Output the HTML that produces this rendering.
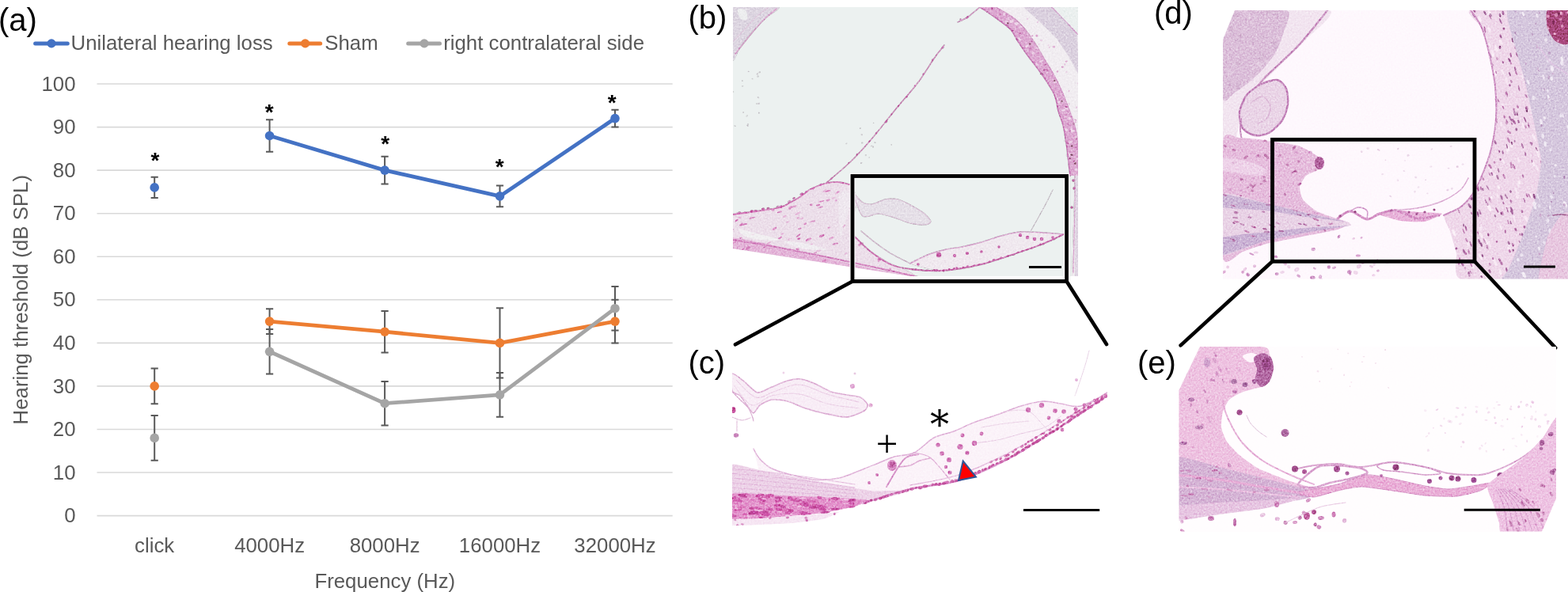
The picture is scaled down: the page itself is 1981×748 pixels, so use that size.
<!DOCTYPE html>
<html><head><meta charset="utf-8"><title>Figure</title>
<style>
html,body{margin:0;padding:0;background:#fff;}
body{width:1981px;height:748px;overflow:hidden;}
svg{display:block;}
.ax{font-family:"Liberation Sans",sans-serif;font-size:25.8px;fill:#595959;}
.ast{font-family:"Liberation Sans",sans-serif;font-size:28px;font-weight:bold;fill:#000;}
.lab{font-family:"Liberation Sans",sans-serif;font-size:40px;fill:#000;}
</style></head>
<body>
<svg width="1981" height="748" viewBox="0 0 1981 748">
<rect width="1981" height="748" fill="#fff"/>
<line x1="122.5" y1="651.6" x2="849.7" y2="651.6" stroke="#D9D9D9" stroke-width="1.6"/>
<line x1="122.5" y1="597.0" x2="849.7" y2="597.0" stroke="#D9D9D9" stroke-width="1.6"/>
<line x1="122.5" y1="542.5" x2="849.7" y2="542.5" stroke="#D9D9D9" stroke-width="1.6"/>
<line x1="122.5" y1="487.9" x2="849.7" y2="487.9" stroke="#D9D9D9" stroke-width="1.6"/>
<line x1="122.5" y1="433.4" x2="849.7" y2="433.4" stroke="#D9D9D9" stroke-width="1.6"/>
<line x1="122.5" y1="378.8" x2="849.7" y2="378.8" stroke="#D9D9D9" stroke-width="1.6"/>
<line x1="122.5" y1="324.2" x2="849.7" y2="324.2" stroke="#D9D9D9" stroke-width="1.6"/>
<line x1="122.5" y1="269.7" x2="849.7" y2="269.7" stroke="#D9D9D9" stroke-width="1.6"/>
<line x1="122.5" y1="215.1" x2="849.7" y2="215.1" stroke="#D9D9D9" stroke-width="1.6"/>
<line x1="122.5" y1="160.6" x2="849.7" y2="160.6" stroke="#D9D9D9" stroke-width="1.6"/>
<line x1="122.5" y1="106.0" x2="849.7" y2="106.0" stroke="#D9D9D9" stroke-width="1.6"/>
<text x="95.5" y="660.2" text-anchor="end" class="ax">0</text>
<text x="95.5" y="605.6" text-anchor="end" class="ax">10</text>
<text x="95.5" y="551.1" text-anchor="end" class="ax">20</text>
<text x="95.5" y="496.5" text-anchor="end" class="ax">30</text>
<text x="95.5" y="442.0" text-anchor="end" class="ax">40</text>
<text x="95.5" y="387.4" text-anchor="end" class="ax">50</text>
<text x="95.5" y="332.8" text-anchor="end" class="ax">60</text>
<text x="95.5" y="278.3" text-anchor="end" class="ax">70</text>
<text x="95.5" y="223.7" text-anchor="end" class="ax">80</text>
<text x="95.5" y="169.2" text-anchor="end" class="ax">90</text>
<text x="95.5" y="114.6" text-anchor="end" class="ax">100</text>
<text x="195.2" y="697.9" text-anchor="middle" class="ax">click</text>
<text x="340.6" y="697.9" text-anchor="middle" class="ax">4000Hz</text>
<text x="486.1" y="697.9" text-anchor="middle" class="ax">8000Hz</text>
<text x="631.5" y="697.9" text-anchor="middle" class="ax">16000Hz</text>
<text x="777.0" y="697.9" text-anchor="middle" class="ax">32000Hz</text>
<text x="486.3" y="742.6" text-anchor="middle" class="ax">Frequency (Hz)</text>
<text transform="translate(34.7,378.7) rotate(-90)" text-anchor="middle" class="ax">Hearing threshold (dB SPL)</text>
<polyline points="340.6,171.5 486.1,215.1 631.5,247.9 777.0,149.6" fill="none" stroke="#4472C4" stroke-width="4.8" stroke-linejoin="round" stroke-linecap="round"/>
<polyline points="340.6,406.1 486.1,419.2 631.5,433.4 777.0,406.1" fill="none" stroke="#ED7D31" stroke-width="4.8" stroke-linejoin="round" stroke-linecap="round"/>
<polyline points="340.6,444.3 486.1,509.7 631.5,498.8 777.0,389.7" fill="none" stroke="#A5A5A5" stroke-width="4.8" stroke-linejoin="round" stroke-linecap="round"/>
<path d="M195.2 223.8V250.0M190.6 223.8H199.8M190.6 250.0H199.8" stroke="#595959" stroke-width="2" fill="none"/>
<path d="M340.6 151.3V191.7M336.0 151.3H345.2M336.0 191.7H345.2" stroke="#595959" stroke-width="2" fill="none"/>
<path d="M486.1 197.7V232.6M481.5 197.7H490.7M481.5 232.6H490.7" stroke="#595959" stroke-width="2" fill="none"/>
<path d="M631.5 234.5V261.2M626.9 234.5H636.1M626.9 261.2H636.1" stroke="#595959" stroke-width="2" fill="none"/>
<path d="M777.0 138.7V160.6M772.4 138.7H781.6M772.4 160.6H781.6" stroke="#595959" stroke-width="2" fill="none"/>
<path d="M195.2 465.6V510.3M190.6 465.6H199.8M190.6 510.3H199.8" stroke="#595959" stroke-width="2" fill="none"/>
<path d="M340.6 390.3V421.9M336.0 390.3H345.2M336.0 421.9H345.2" stroke="#595959" stroke-width="2" fill="none"/>
<path d="M486.1 393.0V445.4M481.5 393.0H490.7M481.5 445.4H490.7" stroke="#595959" stroke-width="2" fill="none"/>
<path d="M631.5 389.2V477.6M626.9 389.2H636.1M626.9 477.6H636.1" stroke="#595959" stroke-width="2" fill="none"/>
<path d="M777.0 378.8V433.4M772.4 378.8H781.6M772.4 433.4H781.6" stroke="#595959" stroke-width="2" fill="none"/>
<path d="M195.2 525.0V581.8M190.6 525.0H199.8M190.6 581.8H199.8" stroke="#595959" stroke-width="2" fill="none"/>
<path d="M340.6 415.9V472.6M336.0 415.9H345.2M336.0 472.6H345.2" stroke="#595959" stroke-width="2" fill="none"/>
<path d="M486.1 481.9V537.6M481.5 481.9H490.7M481.5 537.6H490.7" stroke="#595959" stroke-width="2" fill="none"/>
<path d="M631.5 471.0V526.7M626.9 471.0H636.1M626.9 526.7H636.1" stroke="#595959" stroke-width="2" fill="none"/>
<path d="M777.0 361.9V417.5M772.4 361.9H781.6M772.4 417.5H781.6" stroke="#595959" stroke-width="2" fill="none"/>
<circle cx="195.2" cy="236.9" r="5.8" fill="#4472C4"/>
<circle cx="340.6" cy="171.5" r="5.8" fill="#4472C4"/>
<circle cx="486.1" cy="215.1" r="5.8" fill="#4472C4"/>
<circle cx="631.5" cy="247.9" r="5.8" fill="#4472C4"/>
<circle cx="777.0" cy="149.6" r="5.8" fill="#4472C4"/>
<circle cx="195.2" cy="487.9" r="5.8" fill="#ED7D31"/>
<circle cx="340.6" cy="406.1" r="5.8" fill="#ED7D31"/>
<circle cx="486.1" cy="419.2" r="5.8" fill="#ED7D31"/>
<circle cx="631.5" cy="433.4" r="5.8" fill="#ED7D31"/>
<circle cx="777.0" cy="406.1" r="5.8" fill="#ED7D31"/>
<circle cx="195.2" cy="553.4" r="5.8" fill="#A5A5A5"/>
<circle cx="340.6" cy="444.3" r="5.8" fill="#A5A5A5"/>
<circle cx="486.1" cy="509.7" r="5.8" fill="#A5A5A5"/>
<circle cx="631.5" cy="498.8" r="5.8" fill="#A5A5A5"/>
<circle cx="777.0" cy="389.7" r="5.8" fill="#A5A5A5"/>
<text x="195.9" y="211.9" text-anchor="middle" class="ast">*</text>
<text x="340.2" y="151.0" text-anchor="middle" class="ast">*</text>
<text x="486.6" y="190.8" text-anchor="middle" class="ast">*</text>
<text x="631.3" y="220.2" text-anchor="middle" class="ast">*</text>
<text x="773.3" y="138.8" text-anchor="middle" class="ast">*</text>
<line x1="44.6" y1="54.9" x2="85.3" y2="54.9" stroke="#4472C4" stroke-width="5" stroke-linecap="round"/>
<circle cx="65" cy="54.9" r="5.6" fill="#4472C4"/>
<text x="89.5" y="63.4" class="ax">Unilateral hearing loss</text>
<line x1="365.8" y1="54.9" x2="404.7" y2="54.9" stroke="#ED7D31" stroke-width="5" stroke-linecap="round"/>
<circle cx="385.6" cy="54.9" r="5.6" fill="#ED7D31"/>
<text x="410.3" y="63.4" class="ax">Sham</text>
<line x1="515.7" y1="54.9" x2="555.5" y2="54.9" stroke="#A5A5A5" stroke-width="5" stroke-linecap="round"/>
<circle cx="536" cy="54.9" r="5.6" fill="#A5A5A5"/>
<text x="560.2" y="63.4" class="ax">right contralateral side</text>
<defs>
<clipPath id="cb"><path d="M926,9 H1362 V349 H1150 L926,314 Z"/></clipPath>
<clipPath id="cc"><rect x="925" y="440" width="474" height="224"/></clipPath>
<clipPath id="cd"><path d="M1560,13 H1981 V352.5 H1545 V50 Z"/></clipPath>
<clipPath id="ce"><path d="M1516,438 H1966 V630 L1948,671.5 H1489.5 V493 Z"/></clipPath>
<filter id="bl" x="-5%" y="-5%" width="110%" height="110%"><feGaussianBlur stdDeviation="0.7"/></filter>
<filter id="bl2" x="-5%" y="-5%" width="110%" height="110%"><feGaussianBlur stdDeviation="1.5"/></filter>
<filter id="grain" x="0" y="0" width="100%" height="100%" color-interpolation-filters="sRGB">
<feTurbulence type="fractalNoise" baseFrequency="0.45" numOctaves="2" seed="7" result="n"/>
<feColorMatrix in="n" type="matrix" values="0.33 0.33 0.33 0 0  0.33 0.33 0.33 0 0  0.33 0.33 0.33 0 0  0 0 0 0 1" result="g"/>
<feComponentTransfer in="g" result="g2"><feFuncR type="linear" slope="1.2" intercept="-0.1"/><feFuncG type="linear" slope="1.2" intercept="-0.1"/><feFuncB type="linear" slope="1.2" intercept="-0.1"/></feComponentTransfer>
<feBlend in="g2" in2="SourceGraphic" mode="overlay" result="b"/>
<feComposite in="b" in2="SourceGraphic" operator="in"/>
</filter>
</defs>
<g clip-path="url(#cb)">
<rect x="920" y="0" width="450" height="360" fill="#ecf1f0"/>
<g filter="url(#grain)">
<path d="M926.0,9.0 C931.8,2.3 980.0,7.5 984.0,9.0 C988.0,10.5 969.4,20.9 966.0,24.0 C962.6,27.1 953.0,36.6 950.0,40.0 C947.0,43.4 938.4,54.4 936.0,58.0 C933.6,61.6 927.0,80.9 926.0,76.0 C925.0,71.1 920.2,15.7 926.0,9.0 Z" fill="#ddd6e1" stroke="none" stroke-width="1" opacity="1" stroke-linejoin="round" stroke-linecap="round" />
<path d="M981.0,11.0 C978.2,13.5 969.5,20.5 964.0,26.0 C958.5,31.5 953.8,37.0 948.0,44.0 C942.2,51.0 932.2,64.0 929.0,68.0" fill="none" stroke="#d9a3cc" stroke-width="1.6" opacity="1" stroke-linejoin="round" stroke-linecap="round" />
<path d="M970.0,10.0 C967.5,12.0 960.0,17.3 955.0,22.0 C950.0,26.7 944.7,33.0 940.0,38.0 C935.3,43.0 929.2,49.7 927.0,52.0" fill="none" stroke="#e2c4dc" stroke-width="1.0" opacity="1" stroke-linejoin="round" stroke-linecap="round" />
<path d="M932.0,12.0 C933.0,10.2 940.0,11.0 942.0,13.0 C944.0,15.0 945.0,22.2 944.0,24.0 C943.0,25.8 938.0,26.0 936.0,24.0 C934.0,22.0 931.0,13.8 932.0,12.0 Z" fill="#eef1f1" stroke="none" stroke-width="1" opacity="0.9" stroke-linejoin="round" stroke-linecap="round" />
<path d="M1258.0,9.0 L1362.0,9.0 L1362.0,349.0 L1354.0,349.0 L1357.0,250.0 L1360.0,190.0 L1348.0,131.0 L1340.0,112.0 L1331.0,94.0 L1320.0,75.0 L1309.0,56.0 L1296.0,37.0 L1280.0,22.0 Z" fill="#f1edf1" stroke="none" stroke-width="1" opacity="1" stroke-linejoin="round" stroke-linecap="round" />
<ellipse cx="1334.6" cy="36.2" rx="0.8" ry="1.1" transform="rotate(-3 1334.6 36.2)" fill="#e2b6d9" opacity="0.76"/>
<ellipse cx="1350.9" cy="52.5" rx="0.8" ry="1.2" transform="rotate(-13 1350.9 52.5)" fill="#e2b6d9" opacity="0.65"/>
<ellipse cx="1345.4" cy="25.7" rx="1.7" ry="1.4" transform="rotate(39 1345.4 25.7)" fill="#d58fc4" opacity="0.54"/>
<ellipse cx="1357.6" cy="30.5" rx="1.2" ry="0.9" transform="rotate(5 1357.6 30.5)" fill="#e2b6d9" opacity="0.85"/>
<ellipse cx="1360.0" cy="178.1" rx="1.4" ry="1.2" transform="rotate(-6 1360.0 178.1)" fill="#d58fc4" opacity="0.66"/>
<ellipse cx="1360.1" cy="135.7" rx="1.2" ry="1.1" transform="rotate(-31 1360.1 135.7)" fill="#e2b6d9" opacity="0.77"/>
<ellipse cx="1347.5" cy="91.2" rx="1.3" ry="1.0" transform="rotate(-24 1347.5 91.2)" fill="#e2b6d9" opacity="0.52"/>
<ellipse cx="1298.1" cy="23.9" rx="1.1" ry="1.1" transform="rotate(11 1298.1 23.9)" fill="#e2b6d9" opacity="0.64"/>
<ellipse cx="1309.9" cy="45.1" rx="1.5" ry="1.4" transform="rotate(33 1309.9 45.1)" fill="#d58fc4" opacity="0.88"/>
<ellipse cx="1345.7" cy="43.3" rx="1.6" ry="1.2" transform="rotate(39 1345.7 43.3)" fill="#d58fc4" opacity="0.75"/>
<ellipse cx="1361.9" cy="105.2" rx="0.8" ry="1.0" transform="rotate(-22 1361.9 105.2)" fill="#e2b6d9" opacity="0.76"/>
<ellipse cx="1331.4" cy="59.2" rx="1.7" ry="1.4" transform="rotate(9 1331.4 59.2)" fill="#d58fc4" opacity="0.68"/>
<ellipse cx="1350.7" cy="131.3" rx="1.2" ry="1.4" transform="rotate(-38 1350.7 131.3)" fill="#e2b6d9" opacity="0.71"/>
<ellipse cx="1325.8" cy="59.8" rx="0.9" ry="0.9" transform="rotate(5 1325.8 59.8)" fill="#e2b6d9" opacity="0.89"/>
<ellipse cx="1358.9" cy="154.2" rx="1.2" ry="1.2" transform="rotate(6 1358.9 154.2)" fill="#e2b6d9" opacity="0.82"/>
<ellipse cx="1311.1" cy="27.8" rx="1.2" ry="1.0" transform="rotate(-30 1311.1 27.8)" fill="#e2b6d9" opacity="0.75"/>
<ellipse cx="1312.3" cy="55.9" rx="1.2" ry="1.0" transform="rotate(-33 1312.3 55.9)" fill="#e2b6d9" opacity="0.56"/>
<ellipse cx="1356.6" cy="78.8" rx="0.8" ry="1.1" transform="rotate(-35 1356.6 78.8)" fill="#e2b6d9" opacity="0.69"/>
<ellipse cx="1352.5" cy="27.5" rx="1.0" ry="1.5" transform="rotate(-24 1352.5 27.5)" fill="#e2b6d9" opacity="0.61"/>
<ellipse cx="1315.5" cy="51.1" rx="1.7" ry="1.2" transform="rotate(-3 1315.5 51.1)" fill="#e2b6d9" opacity="0.56"/>
<ellipse cx="1342.4" cy="84.5" rx="1.5" ry="1.3" transform="rotate(14 1342.4 84.5)" fill="#d58fc4" opacity="0.72"/>
<ellipse cx="1324.6" cy="57.1" rx="0.8" ry="1.4" transform="rotate(10 1324.6 57.1)" fill="#e2b6d9" opacity="0.66"/>
<ellipse cx="1345.3" cy="81.3" rx="1.2" ry="1.3" transform="rotate(-10 1345.3 81.3)" fill="#e2b6d9" opacity="0.66"/>
<ellipse cx="1346.2" cy="41.4" rx="1.0" ry="1.0" transform="rotate(-36 1346.2 41.4)" fill="#e2b6d9" opacity="0.71"/>
<ellipse cx="1347.3" cy="77.5" rx="1.5" ry="1.0" transform="rotate(-15 1347.3 77.5)" fill="#d58fc4" opacity="0.84"/>
<ellipse cx="1350.5" cy="115.1" rx="0.8" ry="1.4" transform="rotate(17 1350.5 115.1)" fill="#d58fc4" opacity="0.57"/>
<ellipse cx="1304.3" cy="45.3" rx="1.0" ry="1.0" transform="rotate(-32 1304.3 45.3)" fill="#d58fc4" opacity="0.74"/>
<ellipse cx="1336.0" cy="90.5" rx="1.2" ry="1.2" transform="rotate(-30 1336.0 90.5)" fill="#d58fc4" opacity="0.84"/>
<ellipse cx="1358.8" cy="151.6" rx="1.7" ry="0.8" transform="rotate(24 1358.8 151.6)" fill="#d58fc4" opacity="0.73"/>
<ellipse cx="1331.6" cy="97.0" rx="1.1" ry="1.3" transform="rotate(-9 1331.6 97.0)" fill="#e2b6d9" opacity="0.82"/>
<path d="M1293.0,9.0 L1329.0,9.0 L1345.0,25.0 L1361.0,43.0 L1363.0,95.0 L1350.0,71.0 L1335.0,49.0 L1314.0,28.0 Z" fill="#dbd1df" stroke="none" stroke-width="1" opacity="1" stroke-linejoin="round" stroke-linecap="round" />
<path d="M1329.0,9.0 C1331.7,11.7 1339.7,19.3 1345.0,25.0 C1350.3,30.7 1358.3,40.0 1361.0,43.0" fill="none" stroke="#d3a3cc" stroke-width="1.8" opacity="1" stroke-linejoin="round" stroke-linecap="round" />
<path d="M1329.0,8.0 L1363.0,8.0 L1363.0,43.0 L1345.0,25.0 Z" fill="#ebf0ef" stroke="none" stroke-width="1" opacity="1" stroke-linejoin="round" stroke-linecap="round" />
<path d="M1238.0,9.0 L1258.0,22.5 L1277.0,37.4 L1286.0,52.4 L1299.0,71.0 L1310.5,86.0 L1323.6,104.8 L1333.0,121.7 L1337.0,140.0 L1343.0,158.0 L1347.0,180.0 L1350.0,205.0 L1352.0,222.0 L1362.0,222.0 L1362.0,190.0 L1360.0,168.0 L1355.0,150.0 L1348.0,131.0 L1340.4,112.3 L1331.0,93.6 L1319.8,75.0 L1308.6,56.0 L1295.5,37.4 L1280.5,22.5 L1258.0,9.0 Z" fill="#ddaad2" stroke="none" stroke-width="1" opacity="1" stroke-linejoin="round" stroke-linecap="round" />
<ellipse cx="1359.8" cy="214.5" rx="2.5" ry="1.6" transform="rotate(27 1359.8 214.5)" fill="#ecd3e8" opacity="0.89"/>
<ellipse cx="1347.1" cy="136.7" rx="2.7" ry="1.3" transform="rotate(11 1347.1 136.7)" fill="#ecd3e8" opacity="0.86"/>
<ellipse cx="1361.7" cy="221.1" rx="2.8" ry="1.7" transform="rotate(1 1361.7 221.1)" fill="#f0dcec" opacity="0.93"/>
<ellipse cx="1274.1" cy="23.2" rx="1.5" ry="1.7" transform="rotate(33 1274.1 23.2)" fill="#ecd3e8" opacity="0.76"/>
<ellipse cx="1271.5" cy="27.6" rx="2.0" ry="2.0" transform="rotate(17 1271.5 27.6)" fill="#ecd3e8" opacity="0.74"/>
<ellipse cx="1360.2" cy="172.9" rx="2.1" ry="1.4" transform="rotate(-23 1360.2 172.9)" fill="#f0dcec" opacity="0.83"/>
<ellipse cx="1310.3" cy="60.8" rx="2.4" ry="1.4" transform="rotate(7 1310.3 60.8)" fill="#f0dcec" opacity="0.74"/>
<ellipse cx="1354.1" cy="166.0" rx="1.7" ry="2.0" transform="rotate(15 1354.1 166.0)" fill="#f0dcec" opacity="0.81"/>
<ellipse cx="1349.7" cy="194.5" rx="2.1" ry="1.8" transform="rotate(10 1349.7 194.5)" fill="#f0dcec" opacity="0.87"/>
<ellipse cx="1347.1" cy="164.1" rx="2.1" ry="1.7" transform="rotate(27 1347.1 164.1)" fill="#f0dcec" opacity="0.83"/>
<ellipse cx="1297.6" cy="58.0" rx="2.5" ry="1.5" transform="rotate(-39 1297.6 58.0)" fill="#f0dcec" opacity="0.78"/>
<ellipse cx="1350.3" cy="149.6" rx="2.2" ry="1.9" transform="rotate(-20 1350.3 149.6)" fill="#f0dcec" opacity="0.82"/>
<ellipse cx="1315.5" cy="77.2" rx="2.7" ry="1.3" transform="rotate(-18 1315.5 77.2)" fill="#ecd3e8" opacity="0.90"/>
<ellipse cx="1288.2" cy="49.5" rx="2.7" ry="1.3" transform="rotate(39 1288.2 49.5)" fill="#ecd3e8" opacity="0.94"/>
<ellipse cx="1334.5" cy="124.0" rx="2.9" ry="1.5" transform="rotate(23 1334.5 124.0)" fill="#ecd3e8" opacity="0.82"/>
<ellipse cx="1353.6" cy="162.9" rx="1.7" ry="1.5" transform="rotate(6 1353.6 162.9)" fill="#ecd3e8" opacity="0.81"/>
<ellipse cx="1347.0" cy="178.7" rx="2.9" ry="1.5" transform="rotate(29 1347.0 178.7)" fill="#ecd3e8" opacity="0.73"/>
<ellipse cx="1362.0" cy="200.8" rx="2.3" ry="1.7" transform="rotate(-1 1362.0 200.8)" fill="#f0dcec" opacity="0.98"/>
<ellipse cx="1342.6" cy="128.3" rx="2.0" ry="1.4" transform="rotate(-29 1342.6 128.3)" fill="#ecd3e8" opacity="0.79"/>
<ellipse cx="1305.5" cy="67.1" rx="2.2" ry="1.4" transform="rotate(8 1305.5 67.1)" fill="#ecd3e8" opacity="0.85"/>
<ellipse cx="1337.3" cy="128.9" rx="2.2" ry="1.7" transform="rotate(-3 1337.3 128.9)" fill="#ecd3e8" opacity="0.98"/>
<ellipse cx="1352.2" cy="179.5" rx="2.1" ry="1.2" transform="rotate(-5 1352.2 179.5)" fill="#f0dcec" opacity="0.74"/>
<ellipse cx="1343.6" cy="139.3" rx="2.8" ry="1.2" transform="rotate(-15 1343.6 139.3)" fill="#f0dcec" opacity="0.97"/>
<ellipse cx="1270.2" cy="29.7" rx="2.7" ry="1.4" transform="rotate(10 1270.2 29.7)" fill="#ecd3e8" opacity="0.76"/>
<ellipse cx="1278.1" cy="27.1" rx="2.8" ry="1.9" transform="rotate(-25 1278.1 27.1)" fill="#f0dcec" opacity="0.87"/>
<ellipse cx="1310.5" cy="81.6" rx="2.6" ry="1.3" transform="rotate(22 1310.5 81.6)" fill="#ecd3e8" opacity="0.92"/>
<ellipse cx="1349.2" cy="196.4" rx="2.5" ry="1.8" transform="rotate(18 1349.2 196.4)" fill="#ecd3e8" opacity="0.82"/>
<ellipse cx="1355.1" cy="150.9" rx="2.0" ry="1.7" transform="rotate(-9 1355.1 150.9)" fill="#ecd3e8" opacity="0.86"/>
<ellipse cx="1284.6" cy="30.0" rx="1.9" ry="1.9" transform="rotate(5 1284.6 30.0)" fill="#f0dcec" opacity="0.99"/>
<ellipse cx="1268.4" cy="18.1" rx="1.7" ry="1.8" transform="rotate(-15 1268.4 18.1)" fill="#f0dcec" opacity="0.72"/>
<ellipse cx="1289.7" cy="34.1" rx="2.8" ry="1.4" transform="rotate(-5 1289.7 34.1)" fill="#ecd3e8" opacity="0.74"/>
<ellipse cx="1356.1" cy="165.4" rx="1.9" ry="1.1" transform="rotate(10 1356.1 165.4)" fill="#f0dcec" opacity="0.94"/>
<ellipse cx="1351.5" cy="196.2" rx="1.6" ry="1.1" transform="rotate(-38 1351.5 196.2)" fill="#f0dcec" opacity="0.78"/>
<ellipse cx="1333.3" cy="103.6" rx="2.6" ry="1.4" transform="rotate(12 1333.3 103.6)" fill="#ecd3e8" opacity="0.81"/>
<ellipse cx="1283.8" cy="29.7" rx="2.8" ry="1.1" transform="rotate(5 1283.8 29.7)" fill="#ecd3e8" opacity="0.83"/>
<ellipse cx="1279.5" cy="39.2" rx="1.5" ry="1.0" transform="rotate(-20 1279.5 39.2)" fill="#b8579e" opacity="0.99"/>
<ellipse cx="1348.8" cy="181.0" rx="1.5" ry="0.8" transform="rotate(16 1348.8 181.0)" fill="#c46aa9" opacity="0.88"/>
<ellipse cx="1360.2" cy="175.7" rx="1.2" ry="1.1" transform="rotate(-6 1360.2 175.7)" fill="#b8579e" opacity="0.80"/>
<ellipse cx="1358.8" cy="186.3" rx="1.6" ry="1.1" transform="rotate(-15 1358.8 186.3)" fill="#b8579e" opacity="0.85"/>
<ellipse cx="1352.0" cy="200.0" rx="0.8" ry="0.8" transform="rotate(-14 1352.0 200.0)" fill="#6b3a4a" opacity="0.82"/>
<ellipse cx="1253.1" cy="10.9" rx="1.4" ry="1.4" transform="rotate(-36 1253.1 10.9)" fill="#b8579e" opacity="0.92"/>
<ellipse cx="1349.6" cy="156.7" rx="1.0" ry="1.1" transform="rotate(34 1349.6 156.7)" fill="#b8579e" opacity="0.86"/>
<ellipse cx="1356.6" cy="156.4" rx="1.0" ry="1.1" transform="rotate(13 1356.6 156.4)" fill="#6b3a4a" opacity="0.96"/>
<ellipse cx="1301.3" cy="55.6" rx="1.4" ry="1.0" transform="rotate(17 1301.3 55.6)" fill="#6b3a4a" opacity="0.84"/>
<ellipse cx="1263.4" cy="18.1" rx="1.2" ry="1.2" transform="rotate(-30 1263.4 18.1)" fill="#c46aa9" opacity="0.82"/>
<ellipse cx="1285.5" cy="50.2" rx="1.5" ry="1.0" transform="rotate(26 1285.5 50.2)" fill="#b8579e" opacity="0.80"/>
<ellipse cx="1320.8" cy="81.8" rx="1.3" ry="1.0" transform="rotate(-7 1320.8 81.8)" fill="#b8579e" opacity="0.90"/>
<ellipse cx="1358.4" cy="206.6" rx="1.2" ry="1.3" transform="rotate(-19 1358.4 206.6)" fill="#6b3a4a" opacity="0.99"/>
<ellipse cx="1348.2" cy="178.6" rx="0.8" ry="1.4" transform="rotate(-17 1348.2 178.6)" fill="#c46aa9" opacity="0.83"/>
<ellipse cx="1271.3" cy="31.7" rx="1.3" ry="1.0" transform="rotate(17 1271.3 31.7)" fill="#b8579e" opacity="0.97"/>
<ellipse cx="1247.1" cy="14.9" rx="1.0" ry="0.9" transform="rotate(16 1247.1 14.9)" fill="#6b3a4a" opacity="0.82"/>
<ellipse cx="1354.3" cy="184.5" rx="1.1" ry="1.1" transform="rotate(23 1354.3 184.5)" fill="#6b3a4a" opacity="0.93"/>
<ellipse cx="1353.9" cy="195.6" rx="1.6" ry="0.9" transform="rotate(11 1353.9 195.6)" fill="#6b3a4a" opacity="0.89"/>
<ellipse cx="1356.8" cy="203.7" rx="1.5" ry="0.8" transform="rotate(-24 1356.8 203.7)" fill="#b8579e" opacity="0.97"/>
<ellipse cx="1351.8" cy="165.6" rx="1.1" ry="1.0" transform="rotate(38 1351.8 165.6)" fill="#b8579e" opacity="0.77"/>
<ellipse cx="1347.0" cy="134.9" rx="1.7" ry="1.1" transform="rotate(5 1347.0 134.9)" fill="#b8579e" opacity="0.92"/>
<ellipse cx="1303.8" cy="52.5" rx="1.2" ry="1.0" transform="rotate(23 1303.8 52.5)" fill="#b8579e" opacity="0.77"/>
<ellipse cx="1341.5" cy="128.0" rx="1.1" ry="1.2" transform="rotate(-32 1341.5 128.0)" fill="#6b3a4a" opacity="0.72"/>
<ellipse cx="1315.6" cy="93.2" rx="1.8" ry="1.2" transform="rotate(3 1315.6 93.2)" fill="#6b3a4a" opacity="0.96"/>
<ellipse cx="1288.8" cy="41.7" rx="1.5" ry="1.4" transform="rotate(-29 1288.8 41.7)" fill="#c46aa9" opacity="0.85"/>
<ellipse cx="1302.0" cy="60.9" rx="1.5" ry="1.4" transform="rotate(8 1302.0 60.9)" fill="#c46aa9" opacity="0.72"/>
<ellipse cx="1273.2" cy="29.3" rx="1.2" ry="1.0" transform="rotate(8 1273.2 29.3)" fill="#6b3a4a" opacity="0.97"/>
<ellipse cx="1332.3" cy="101.9" rx="1.1" ry="1.1" transform="rotate(-34 1332.3 101.9)" fill="#6b3a4a" opacity="0.86"/>
<ellipse cx="1319.5" cy="88.4" rx="1.4" ry="1.3" transform="rotate(-13 1319.5 88.4)" fill="#b8579e" opacity="0.93"/>
<ellipse cx="1322.8" cy="88.3" rx="1.3" ry="1.3" transform="rotate(-37 1322.8 88.3)" fill="#c46aa9" opacity="0.89"/>
<path d="M1238.0,9.0 C1241.3,11.2 1251.5,17.8 1258.0,22.5 C1264.5,27.2 1272.3,32.4 1277.0,37.4 C1281.7,42.4 1282.3,46.8 1286.0,52.4 C1289.7,58.0 1294.9,65.4 1299.0,71.0 C1303.1,76.6 1306.4,80.4 1310.5,86.0 C1314.6,91.6 1319.8,98.8 1323.6,104.8 C1327.3,110.8 1330.8,115.8 1333.0,121.7 C1335.2,127.6 1335.3,133.9 1337.0,140.0 C1338.7,146.1 1341.3,151.3 1343.0,158.0 C1344.7,164.7 1345.8,172.2 1347.0,180.0 C1348.2,187.8 1349.2,198.0 1350.0,205.0 C1350.8,212.0 1351.7,219.2 1352.0,222.0" fill="none" stroke="#c978b6" stroke-width="1.6" opacity="1" stroke-linejoin="round" stroke-linecap="round" />
<path d="M1258.0,9.0 C1261.8,11.2 1274.2,17.8 1280.5,22.5 C1286.8,27.2 1290.8,31.8 1295.5,37.4 C1300.2,43.0 1304.5,49.7 1308.6,56.0 C1312.6,62.3 1316.1,68.7 1319.8,75.0 C1323.5,81.3 1327.6,87.4 1331.0,93.6 C1334.4,99.8 1337.6,106.1 1340.4,112.3 C1343.2,118.5 1345.6,124.7 1348.0,131.0 C1350.4,137.3 1353.0,143.8 1355.0,150.0 C1357.0,156.2 1358.8,161.3 1360.0,168.0 C1361.2,174.7 1361.7,181.0 1362.0,190.0 C1362.3,199.0 1362.0,216.7 1362.0,222.0" fill="none" stroke="#d49bc8" stroke-width="1.2" opacity="1" stroke-linejoin="round" stroke-linecap="round" />
<path d="M1358.0,222.0 C1358.0,228.3 1358.2,247.0 1358.0,260.0 C1357.8,273.0 1357.3,285.8 1357.0,300.0 C1356.7,314.2 1356.2,337.5 1356.0,345.0" fill="none" stroke="#d6a6cd" stroke-width="1.3" opacity="1" stroke-linejoin="round" stroke-linecap="round" />
<path d="M1359.0,222.0 L1363.0,222.0 L1363.0,349.0 L1358.0,349.0 Z" fill="#e0d6e3" stroke="none" stroke-width="1" opacity="1" stroke-linejoin="round" stroke-linecap="round" />
<circle cx="1356" cy="228" r="1.8" fill="#c56aaa"/>
<circle cx="1357" cy="238" r="1.8" fill="#c56aaa"/>
<circle cx="1354" cy="262" r="1.8" fill="#c56aaa"/>
<path d="M1210.0,28.0 C1212.0,27.0 1218.3,24.3 1222.0,22.0 C1225.7,19.7 1229.3,16.2 1232.0,14.0 C1234.7,11.8 1237.0,9.8 1238.0,9.0" fill="none" stroke="#d69ac7" stroke-width="1.5" opacity="1" stroke-linejoin="round" stroke-linecap="round" />
<ellipse cx="1221.5" cy="22.7" rx="1.2" ry="1.4" transform="rotate(8 1221.5 22.7)" fill="#c867ad" opacity="0.83"/>
<ellipse cx="1222.7" cy="21.3" rx="1.5" ry="1.2" transform="rotate(0 1222.7 21.3)" fill="#c867ad" opacity="0.83"/>
<ellipse cx="1213.5" cy="24.6" rx="1.2" ry="1.3" transform="rotate(-9 1213.5 24.6)" fill="#c867ad" opacity="0.92"/>
<path d="M1193.0,57.0 C1190.8,59.8 1185.5,66.2 1180.0,74.0 C1174.5,81.8 1168.3,93.0 1160.0,104.0 C1151.7,115.0 1140.0,127.8 1130.0,140.0 C1120.0,152.2 1109.2,166.3 1100.0,177.0 C1090.8,187.7 1084.3,195.0 1075.0,204.0 C1065.7,213.0 1049.2,226.5 1044.0,231.0" fill="none" stroke="#d389bd" stroke-width="1.5" opacity="1" stroke-linejoin="round" stroke-linecap="round" />
<ellipse cx="1191.2" cy="59.9" rx="1.8" ry="1.3" transform="rotate(127 1191.2 59.9)" fill="#c45aa5" opacity="0.76"/>
<ellipse cx="1178.2" cy="75.7" rx="1.7" ry="1.2" transform="rotate(124 1178.2 75.7)" fill="#c45aa5" opacity="0.74"/>
<ellipse cx="1166.5" cy="93.5" rx="1.4" ry="1.0" transform="rotate(124 1166.5 93.5)" fill="#c45aa5" opacity="0.95"/>
<ellipse cx="1155.8" cy="108.1" rx="1.2" ry="0.9" transform="rotate(130 1155.8 108.1)" fill="#c45aa5" opacity="0.96"/>
<ellipse cx="1145.5" cy="122.2" rx="1.7" ry="1.2" transform="rotate(130 1145.5 122.2)" fill="#c45aa5" opacity="0.98"/>
<ellipse cx="1134.9" cy="134.1" rx="1.5" ry="1.1" transform="rotate(130 1134.9 134.1)" fill="#c45aa5" opacity="0.93"/>
<ellipse cx="1126.5" cy="144.0" rx="1.4" ry="1.0" transform="rotate(129 1126.5 144.0)" fill="#c45aa5" opacity="0.79"/>
<ellipse cx="1119.7" cy="153.6" rx="1.9" ry="1.4" transform="rotate(129 1119.7 153.6)" fill="#c45aa5" opacity="0.91"/>
<ellipse cx="1107.0" cy="168.3" rx="1.6" ry="1.2" transform="rotate(129 1107.0 168.3)" fill="#c45aa5" opacity="0.83"/>
<ellipse cx="1098.3" cy="178.5" rx="1.3" ry="0.9" transform="rotate(133 1098.3 178.5)" fill="#c45aa5" opacity="0.84"/>
<ellipse cx="1082.8" cy="195.0" rx="1.5" ry="1.1" transform="rotate(133 1082.8 195.0)" fill="#c45aa5" opacity="0.77"/>
<ellipse cx="1072.4" cy="205.7" rx="1.1" ry="0.8" transform="rotate(139 1072.4 205.7)" fill="#c45aa5" opacity="0.90"/>
<ellipse cx="1050.5" cy="225.5" rx="1.9" ry="1.3" transform="rotate(139 1050.5 225.5)" fill="#c45aa5" opacity="0.71"/>
<ellipse cx="943.7" cy="146.5" rx="1.4" ry="0.8" transform="rotate(-38 943.7 146.5)" fill="#e3d3e2" opacity="0.44"/>
<ellipse cx="939.1" cy="142.2" rx="0.8" ry="0.9" transform="rotate(15 939.1 142.2)" fill="#e3d3e2" opacity="0.66"/>
<ellipse cx="950.6" cy="99.6" rx="1.0" ry="0.7" transform="rotate(16 950.6 99.6)" fill="#dcc8dc" opacity="0.46"/>
<ellipse cx="945.0" cy="156.9" rx="0.8" ry="0.9" transform="rotate(-33 945.0 156.9)" fill="#dcc8dc" opacity="0.52"/>
<ellipse cx="958.0" cy="123.2" rx="1.4" ry="0.7" transform="rotate(34 958.0 123.2)" fill="#e3d3e2" opacity="0.73"/>
<ellipse cx="926.6" cy="116.1" rx="0.6" ry="1.1" transform="rotate(-2 926.6 116.1)" fill="#e3d3e2" opacity="0.42"/>
<ellipse cx="945.7" cy="90.4" rx="0.9" ry="0.7" transform="rotate(2 945.7 90.4)" fill="#dcc8dc" opacity="0.78"/>
<ellipse cx="938.2" cy="108.7" rx="1.2" ry="0.7" transform="rotate(-15 938.2 108.7)" fill="#dcc8dc" opacity="0.50"/>
<ellipse cx="937.8" cy="102.0" rx="0.7" ry="0.9" transform="rotate(-36 937.8 102.0)" fill="#e3d3e2" opacity="0.53"/>
<ellipse cx="959.7" cy="91.3" rx="1.2" ry="0.9" transform="rotate(-15 959.7 91.3)" fill="#dcc8dc" opacity="0.69"/>
<ellipse cx="928.6" cy="159.1" rx="1.3" ry="0.6" transform="rotate(19 928.6 159.1)" fill="#dcc8dc" opacity="0.56"/>
<ellipse cx="958.6" cy="131.3" rx="0.9" ry="0.7" transform="rotate(14 958.6 131.3)" fill="#e3d3e2" opacity="0.78"/>
<ellipse cx="956.9" cy="93.5" rx="1.4" ry="0.8" transform="rotate(-36 956.9 93.5)" fill="#e3d3e2" opacity="0.72"/>
<ellipse cx="957.5" cy="96.5" rx="1.2" ry="1.1" transform="rotate(3 957.5 96.5)" fill="#e3d3e2" opacity="0.59"/>
<ellipse cx="944.5" cy="158.6" rx="0.8" ry="1.2" transform="rotate(-36 944.5 158.6)" fill="#dcc8dc" opacity="0.72"/>
<ellipse cx="956.2" cy="131.0" rx="1.3" ry="0.7" transform="rotate(-4 956.2 131.0)" fill="#e3d3e2" opacity="0.61"/>
<ellipse cx="958.9" cy="142.6" rx="0.8" ry="0.8" transform="rotate(8 958.9 142.6)" fill="#dcc8dc" opacity="0.79"/>
<ellipse cx="958.7" cy="130.5" rx="1.0" ry="0.6" transform="rotate(-26 958.7 130.5)" fill="#e3d3e2" opacity="0.79"/>
<ellipse cx="1086.8" cy="161.9" rx="1.0" ry="0.9" transform="rotate(31 1086.8 161.9)" fill="#e3d3e2" opacity="0.52"/>
<ellipse cx="1069.4" cy="181.3" rx="1.2" ry="0.7" transform="rotate(-24 1069.4 181.3)" fill="#dcc8dc" opacity="0.47"/>
<ellipse cx="1089.2" cy="180.5" rx="1.2" ry="1.1" transform="rotate(-16 1089.2 180.5)" fill="#e3d3e2" opacity="0.49"/>
<ellipse cx="1103.0" cy="185.6" rx="1.0" ry="1.1" transform="rotate(-17 1103.0 185.6)" fill="#e3d3e2" opacity="0.62"/>
<ellipse cx="1105.4" cy="180.0" rx="1.0" ry="1.1" transform="rotate(12 1105.4 180.0)" fill="#dcc8dc" opacity="0.48"/>
<ellipse cx="1101.1" cy="184.4" rx="1.3" ry="0.7" transform="rotate(-13 1101.1 184.4)" fill="#e3d3e2" opacity="0.61"/>
<ellipse cx="1103.6" cy="155.3" rx="0.7" ry="0.7" transform="rotate(-33 1103.6 155.3)" fill="#dcc8dc" opacity="0.50"/>
<ellipse cx="1088.2" cy="205.9" rx="1.2" ry="0.8" transform="rotate(-29 1088.2 205.9)" fill="#dcc8dc" opacity="0.79"/>
<ellipse cx="1098.3" cy="199.0" rx="0.7" ry="0.8" transform="rotate(14 1098.3 199.0)" fill="#e3d3e2" opacity="0.68"/>
<ellipse cx="1088.8" cy="170.1" rx="1.2" ry="1.0" transform="rotate(16 1088.8 170.1)" fill="#dcc8dc" opacity="0.57"/>
<ellipse cx="1093.9" cy="196.1" rx="1.1" ry="1.1" transform="rotate(5 1093.9 196.1)" fill="#e3d3e2" opacity="0.40"/>
<ellipse cx="1126.2" cy="182.9" rx="0.6" ry="1.0" transform="rotate(-8 1126.2 182.9)" fill="#e3d3e2" opacity="0.57"/>
<path d="M920.0,272.0 C922.9,267.8 949.5,267.8 955.0,267.0 C960.5,266.2 982.4,262.9 986.0,262.0 C989.6,261.1 995.8,257.2 998.0,256.0 C1000.2,254.8 1009.8,249.4 1012.0,248.0 C1014.2,246.6 1021.5,240.3 1024.0,239.0 C1026.5,237.7 1039.1,232.8 1042.0,232.0 C1044.9,231.2 1056.4,229.9 1059.0,230.0 C1061.6,230.1 1071.2,232.0 1073.0,233.0 C1074.8,234.0 1079.2,240.2 1080.0,242.0 C1080.8,243.8 1083.0,251.8 1083.0,254.0 C1083.0,256.2 1080.8,265.2 1080.0,268.0 C1079.2,270.8 1073.2,284.5 1074.0,288.0 C1074.8,291.5 1086.2,306.5 1090.0,310.0 C1093.8,313.5 1114.8,326.8 1120.0,330.0 C1125.2,333.2 1168.7,350.0 1152.0,349.0 C1135.3,348.0 939.3,324.4 920.0,318.0 C900.7,311.6 917.1,276.2 920.0,272.0 Z" fill="#ecdfea" stroke="none" stroke-width="1" opacity="1" stroke-linejoin="round" stroke-linecap="round" />
<path d="M920.0,300.0 C922.7,298.9 954.0,304.8 960.0,306.0 C966.0,307.2 1003.3,316.4 1010.0,318.0 C1016.7,319.6 1053.3,328.5 1060.0,330.0 C1066.7,331.5 1103.9,339.7 1110.0,341.0 C1116.1,342.3 1164.7,351.3 1152.0,350.0 C1139.3,348.7 935.5,325.3 920.0,322.0 C904.5,318.7 917.3,301.1 920.0,300.0 Z" fill="#e4b6d9" stroke="none" stroke-width="1" opacity="1" stroke-linejoin="round" stroke-linecap="round" />
<ellipse cx="944.8" cy="313.6" rx="3.2" ry="1.5" transform="rotate(-30 944.8 313.6)" fill="#cf6fb3" opacity="0.89"/>
<ellipse cx="936.8" cy="283.5" rx="2.8" ry="1.4" transform="rotate(-34 936.8 283.5)" fill="#cf6fb3" opacity="0.91"/>
<ellipse cx="1003.1" cy="261.0" rx="3.6" ry="1.2" transform="rotate(-21 1003.1 261.0)" fill="#d77fbd" opacity="0.66"/>
<ellipse cx="936.2" cy="300.8" rx="1.9" ry="1.0" transform="rotate(-13 936.2 300.8)" fill="#cf6fb3" opacity="0.76"/>
<ellipse cx="1021.8" cy="302.3" rx="3.7" ry="1.3" transform="rotate(-22 1021.8 302.3)" fill="#d77fbd" opacity="0.83"/>
<ellipse cx="1076.0" cy="262.2" rx="3.2" ry="1.1" transform="rotate(-35 1076.0 262.2)" fill="#cf6fb3" opacity="0.80"/>
<ellipse cx="1042.0" cy="241.1" rx="2.9" ry="1.3" transform="rotate(-30 1042.0 241.1)" fill="#e2a6d2" opacity="0.75"/>
<ellipse cx="1026.7" cy="279.7" rx="3.6" ry="1.0" transform="rotate(-16 1026.7 279.7)" fill="#cf6fb3" opacity="0.69"/>
<ellipse cx="953.2" cy="313.7" rx="3.1" ry="0.8" transform="rotate(-13 953.2 313.7)" fill="#e2a6d2" opacity="0.76"/>
<ellipse cx="924.8" cy="314.5" rx="2.6" ry="1.1" transform="rotate(-32 924.8 314.5)" fill="#cf6fb3" opacity="0.72"/>
<ellipse cx="1065.8" cy="285.8" rx="2.4" ry="1.1" transform="rotate(-36 1065.8 285.8)" fill="#d77fbd" opacity="0.68"/>
<ellipse cx="920.1" cy="290.3" rx="2.9" ry="1.4" transform="rotate(-14 920.1 290.3)" fill="#cf6fb3" opacity="0.65"/>
<ellipse cx="978.1" cy="289.6" rx="2.2" ry="0.9" transform="rotate(-30 978.1 289.6)" fill="#e2a6d2" opacity="0.97"/>
<ellipse cx="1050.2" cy="300.9" rx="3.9" ry="1.3" transform="rotate(-32 1050.2 300.9)" fill="#e2a6d2" opacity="0.86"/>
<ellipse cx="1033.7" cy="259.1" rx="2.7" ry="1.2" transform="rotate(-14 1033.7 259.1)" fill="#cf6fb3" opacity="0.80"/>
<ellipse cx="927.3" cy="306.5" rx="2.7" ry="1.3" transform="rotate(-35 927.3 306.5)" fill="#d77fbd" opacity="0.71"/>
<ellipse cx="966.5" cy="312.4" rx="2.1" ry="1.0" transform="rotate(-15 966.5 312.4)" fill="#cf6fb3" opacity="0.65"/>
<ellipse cx="1017.1" cy="282.9" rx="2.0" ry="1.4" transform="rotate(-21 1017.1 282.9)" fill="#d77fbd" opacity="0.66"/>
<ellipse cx="971.5" cy="307.0" rx="3.2" ry="1.0" transform="rotate(-24 971.5 307.0)" fill="#e2a6d2" opacity="0.86"/>
<ellipse cx="930.7" cy="278.4" rx="2.4" ry="1.1" transform="rotate(-36 930.7 278.4)" fill="#d77fbd" opacity="0.95"/>
<ellipse cx="1045.8" cy="241.5" rx="3.7" ry="1.1" transform="rotate(-17 1045.8 241.5)" fill="#d77fbd" opacity="0.95"/>
<ellipse cx="951.4" cy="275.1" rx="3.1" ry="0.8" transform="rotate(-16 951.4 275.1)" fill="#cf6fb3" opacity="0.79"/>
<ellipse cx="985.4" cy="300.6" rx="2.9" ry="1.2" transform="rotate(-37 985.4 300.6)" fill="#d77fbd" opacity="0.89"/>
<ellipse cx="948.6" cy="275.5" rx="2.4" ry="1.3" transform="rotate(-34 948.6 275.5)" fill="#cf6fb3" opacity="0.61"/>
<ellipse cx="1041.5" cy="329.4" rx="2.8" ry="1.4" transform="rotate(-29 1041.5 329.4)" fill="#d77fbd" opacity="1.00"/>
<ellipse cx="1009.2" cy="301.6" rx="2.4" ry="1.3" transform="rotate(-18 1009.2 301.6)" fill="#cf6fb3" opacity="0.99"/>
<ellipse cx="1007.4" cy="315.1" rx="2.3" ry="1.4" transform="rotate(-17 1007.4 315.1)" fill="#d77fbd" opacity="0.90"/>
<ellipse cx="1025.2" cy="308.8" rx="1.9" ry="0.9" transform="rotate(-30 1025.2 308.8)" fill="#e2a6d2" opacity="0.84"/>
<ellipse cx="937.3" cy="315.5" rx="3.4" ry="1.1" transform="rotate(-23 937.3 315.5)" fill="#d77fbd" opacity="0.75"/>
<ellipse cx="1029.7" cy="319.8" rx="2.6" ry="1.1" transform="rotate(-22 1029.7 319.8)" fill="#cf6fb3" opacity="0.62"/>
<ellipse cx="991.2" cy="273.4" rx="2.5" ry="1.3" transform="rotate(-18 991.2 273.4)" fill="#e2a6d2" opacity="0.67"/>
<ellipse cx="925.5" cy="290.4" rx="1.9" ry="0.9" transform="rotate(-16 925.5 290.4)" fill="#e2a6d2" opacity="0.69"/>
<ellipse cx="1111.0" cy="326.7" rx="2.2" ry="1.0" transform="rotate(-29 1111.0 326.7)" fill="#e2a6d2" opacity="0.85"/>
<ellipse cx="989.7" cy="326.1" rx="2.2" ry="1.2" transform="rotate(-28 989.7 326.1)" fill="#e2a6d2" opacity="0.69"/>
<ellipse cx="1057.9" cy="243.3" rx="3.5" ry="1.1" transform="rotate(-35 1057.9 243.3)" fill="#e2a6d2" opacity="0.91"/>
<ellipse cx="1110.8" cy="327.7" rx="2.3" ry="1.2" transform="rotate(-13 1110.8 327.7)" fill="#d77fbd" opacity="0.82"/>
<ellipse cx="1056.4" cy="253.2" rx="2.0" ry="1.1" transform="rotate(-34 1056.4 253.2)" fill="#e2a6d2" opacity="0.79"/>
<ellipse cx="951.0" cy="296.1" rx="2.5" ry="1.2" transform="rotate(-14 951.0 296.1)" fill="#e2a6d2" opacity="0.87"/>
<ellipse cx="998.6" cy="262.5" rx="2.8" ry="1.5" transform="rotate(-36 998.6 262.5)" fill="#d77fbd" opacity="0.85"/>
<ellipse cx="934.4" cy="274.8" rx="2.3" ry="0.9" transform="rotate(-15 934.4 274.8)" fill="#e2a6d2" opacity="0.88"/>
<ellipse cx="931.6" cy="319.5" rx="1.9" ry="1.2" transform="rotate(-24 931.6 319.5)" fill="#cf6fb3" opacity="0.93"/>
<ellipse cx="976.6" cy="265.3" rx="2.2" ry="1.5" transform="rotate(-25 976.6 265.3)" fill="#d77fbd" opacity="0.70"/>
<ellipse cx="1076.2" cy="322.0" rx="1.9" ry="1.0" transform="rotate(-14 1076.2 322.0)" fill="#d77fbd" opacity="0.69"/>
<ellipse cx="1024.8" cy="258.8" rx="1.9" ry="1.4" transform="rotate(-19 1024.8 258.8)" fill="#cf6fb3" opacity="0.68"/>
<ellipse cx="1055.3" cy="308.1" rx="3.8" ry="1.1" transform="rotate(-14 1055.3 308.1)" fill="#cf6fb3" opacity="0.61"/>
<ellipse cx="995.4" cy="280.5" rx="2.4" ry="1.0" transform="rotate(-21 995.4 280.5)" fill="#e2a6d2" opacity="0.63"/>
<ellipse cx="978.3" cy="288.9" rx="3.4" ry="1.3" transform="rotate(-31 978.3 288.9)" fill="#d77fbd" opacity="0.76"/>
<ellipse cx="1038.2" cy="298.0" rx="3.5" ry="1.3" transform="rotate(-18 1038.2 298.0)" fill="#cf6fb3" opacity="0.98"/>
<ellipse cx="1008.7" cy="297.5" rx="3.4" ry="1.0" transform="rotate(-37 1008.7 297.5)" fill="#cf6fb3" opacity="0.75"/>
<ellipse cx="1034.6" cy="316.4" rx="3.6" ry="1.5" transform="rotate(-26 1034.6 316.4)" fill="#e2a6d2" opacity="0.62"/>
<ellipse cx="1068.7" cy="320.3" rx="2.2" ry="0.9" transform="rotate(-36 1068.7 320.3)" fill="#e2a6d2" opacity="0.67"/>
<ellipse cx="1037.9" cy="254.5" rx="3.7" ry="0.9" transform="rotate(-18 1037.9 254.5)" fill="#d77fbd" opacity="0.82"/>
<ellipse cx="997.6" cy="302.3" rx="2.7" ry="1.1" transform="rotate(-24 997.6 302.3)" fill="#e2a6d2" opacity="0.61"/>
<ellipse cx="1019.6" cy="303.9" rx="1.8" ry="1.2" transform="rotate(-37 1019.6 303.9)" fill="#d77fbd" opacity="0.72"/>
<ellipse cx="1046.2" cy="252.9" rx="2.8" ry="1.3" transform="rotate(-14 1046.2 252.9)" fill="#d77fbd" opacity="0.70"/>
<ellipse cx="1077.2" cy="323.5" rx="2.9" ry="1.3" transform="rotate(-13 1077.2 323.5)" fill="#cf6fb3" opacity="0.69"/>
<ellipse cx="1010.4" cy="288.9" rx="2.2" ry="1.2" transform="rotate(-15 1010.4 288.9)" fill="#cf6fb3" opacity="0.73"/>
<ellipse cx="1008.5" cy="275.4" rx="2.1" ry="1.1" transform="rotate(-13 1008.5 275.4)" fill="#d77fbd" opacity="0.65"/>
<ellipse cx="1036.7" cy="261.9" rx="3.3" ry="1.0" transform="rotate(-15 1036.7 261.9)" fill="#cf6fb3" opacity="0.70"/>
<ellipse cx="1007.9" cy="269.6" rx="3.9" ry="0.9" transform="rotate(-30 1007.9 269.6)" fill="#e2a6d2" opacity="0.90"/>
<ellipse cx="1111.1" cy="329.0" rx="2.5" ry="1.3" transform="rotate(-30 1111.1 329.0)" fill="#d77fbd" opacity="0.71"/>
<ellipse cx="988.2" cy="295.5" rx="2.1" ry="1.2" transform="rotate(-21 988.2 295.5)" fill="#e2a6d2" opacity="0.72"/>
<ellipse cx="940.5" cy="283.4" rx="3.9" ry="1.0" transform="rotate(-15 940.5 283.4)" fill="#cf6fb3" opacity="0.86"/>
<ellipse cx="984.9" cy="267.9" rx="3.3" ry="0.9" transform="rotate(-16 984.9 267.9)" fill="#cf6fb3" opacity="0.84"/>
<ellipse cx="1122.5" cy="340.8" rx="3.5" ry="1.2" transform="rotate(-18 1122.5 340.8)" fill="#d77fbd" opacity="0.88"/>
<ellipse cx="1013.0" cy="276.2" rx="2.5" ry="0.9" transform="rotate(-29 1013.0 276.2)" fill="#e2a6d2" opacity="0.80"/>
<ellipse cx="1087.6" cy="308.5" rx="3.5" ry="1.4" transform="rotate(-30 1087.6 308.5)" fill="#cf6fb3" opacity="0.84"/>
<ellipse cx="988.6" cy="321.5" rx="2.8" ry="1.3" transform="rotate(-26 988.6 321.5)" fill="#e2a6d2" opacity="0.82"/>
<ellipse cx="1047.4" cy="287.7" rx="2.3" ry="0.9" transform="rotate(-16 1047.4 287.7)" fill="#d77fbd" opacity="0.62"/>
<ellipse cx="1053.3" cy="250.2" rx="2.9" ry="0.9" transform="rotate(-25 1053.3 250.2)" fill="#e2a6d2" opacity="0.68"/>
<path d="M920.0,272.0 C925.8,271.2 944.0,268.7 955.0,267.0 C966.0,265.3 978.8,263.8 986.0,262.0 C993.2,260.2 993.7,258.3 998.0,256.0 C1002.3,253.7 1007.7,250.8 1012.0,248.0 C1016.3,245.2 1019.0,241.7 1024.0,239.0 C1029.0,236.3 1036.2,233.5 1042.0,232.0 C1047.8,230.5 1053.8,229.8 1059.0,230.0 C1064.2,230.2 1070.7,232.5 1073.0,233.0" fill="none" stroke="#d27ab7" stroke-width="1.8" opacity="1" stroke-linejoin="round" stroke-linecap="round" />
<ellipse cx="933.8" cy="269.1" rx="2.4" ry="1.7" transform="rotate(-9 933.8 269.1)" fill="#cd62ad" opacity="0.76"/>
<ellipse cx="940.7" cy="268.5" rx="1.6" ry="1.1" transform="rotate(-9 940.7 268.5)" fill="#cd62ad" opacity="0.91"/>
<ellipse cx="949.8" cy="266.8" rx="2.3" ry="1.6" transform="rotate(-9 949.8 266.8)" fill="#cd62ad" opacity="1.00"/>
<ellipse cx="954.6" cy="266.6" rx="2.1" ry="1.5" transform="rotate(-9 954.6 266.6)" fill="#cd62ad" opacity="0.83"/>
<ellipse cx="964.0" cy="264.1" rx="2.2" ry="1.5" transform="rotate(-9 964.0 264.1)" fill="#cd62ad" opacity="0.95"/>
<ellipse cx="970.5" cy="263.2" rx="2.0" ry="1.4" transform="rotate(-9 970.5 263.2)" fill="#cd62ad" opacity="0.81"/>
<ellipse cx="982.8" cy="261.4" rx="2.3" ry="1.6" transform="rotate(-9 982.8 261.4)" fill="#cd62ad" opacity="0.72"/>
<ellipse cx="986.6" cy="261.1" rx="2.2" ry="1.6" transform="rotate(-30 986.6 261.1)" fill="#cd62ad" opacity="1.00"/>
<ellipse cx="997.2" cy="254.6" rx="2.3" ry="1.6" transform="rotate(-30 997.2 254.6)" fill="#cd62ad" opacity="0.73"/>
<ellipse cx="1003.0" cy="250.5" rx="1.9" ry="1.3" transform="rotate(-30 1003.0 250.5)" fill="#cd62ad" opacity="0.90"/>
<ellipse cx="1012.8" cy="245.2" rx="2.4" ry="1.7" transform="rotate(-30 1012.8 245.2)" fill="#cd62ad" opacity="0.93"/>
<ellipse cx="1018.5" cy="242.2" rx="1.7" ry="1.2" transform="rotate(-30 1018.5 242.2)" fill="#cd62ad" opacity="0.89"/>
<ellipse cx="1027.4" cy="238.0" rx="1.8" ry="1.3" transform="rotate(-21 1027.4 238.0)" fill="#cd62ad" opacity="0.84"/>
<ellipse cx="1037.2" cy="233.4" rx="2.0" ry="1.4" transform="rotate(-21 1037.2 233.4)" fill="#cd62ad" opacity="0.83"/>
<path d="M920.0,302.0 C930.0,303.7 958.3,308.0 980.0,312.0 C1001.7,316.0 1026.7,321.2 1050.0,326.0 C1073.3,330.8 1101.7,337.0 1120.0,341.0 C1138.3,345.0 1153.3,348.5 1160.0,350.0" fill="none" stroke="#d386bf" stroke-width="2" opacity="1" stroke-linejoin="round" stroke-linecap="round" />
<path d="M935.0,290.0 C938.3,289.7 951.7,293.8 960.0,296.0 C968.3,298.2 985.0,301.8 985.0,303.0 C985.0,304.2 967.5,303.8 960.0,303.0 C952.5,302.2 944.2,300.2 940.0,298.0 C935.8,295.8 931.7,290.3 935.0,290.0 Z" fill="#f2f2f3" stroke="none" stroke-width="1" opacity="0.8" stroke-linejoin="round" stroke-linecap="round" />
<path d="M990.0,305.0 C990.8,304.0 1010.8,306.2 1020.0,308.0 C1029.2,309.8 1045.8,315.0 1045.0,316.0 C1044.2,317.0 1024.2,315.8 1015.0,314.0 C1005.8,312.2 989.2,306.0 990.0,305.0 Z" fill="#f2f2f3" stroke="none" stroke-width="1" opacity="0.7" stroke-linejoin="round" stroke-linecap="round" />
<path d="M1060.0,250.0 C1061.3,243.3 1065.5,240.0 1068.0,240.0 C1070.5,240.0 1074.3,245.3 1075.0,250.0 C1075.7,254.7 1073.5,262.2 1072.0,268.0 C1070.5,273.8 1067.7,279.7 1066.0,285.0 C1064.3,290.3 1063.0,300.8 1062.0,300.0 C1061.0,299.2 1060.3,288.3 1060.0,280.0 C1059.7,271.7 1058.7,256.7 1060.0,250.0 Z" fill="#f0eaf0" stroke="none" stroke-width="1" opacity="0.8" stroke-linejoin="round" stroke-linecap="round" />
<path d="M1079.0,246.0 C1079.0,243.7 1086.9,254.4 1090.0,256.0 C1093.1,257.6 1098.3,258.5 1102.0,258.0 C1105.7,257.5 1113.6,252.8 1118.0,252.0 C1122.4,251.2 1130.5,250.9 1135.0,252.0 C1139.5,253.1 1147.6,257.6 1152.0,260.0 C1156.4,262.4 1164.8,267.3 1168.0,270.0 C1171.2,272.7 1176.0,278.1 1176.0,280.0 C1176.0,281.9 1171.5,283.7 1168.0,284.0 C1164.5,284.3 1155.1,283.2 1150.0,282.0 C1144.9,280.8 1135.3,276.6 1130.0,275.0 C1124.7,273.4 1115.3,270.3 1110.0,270.0 C1104.7,269.7 1094.1,276.2 1090.0,273.0 C1085.9,269.8 1079.0,248.3 1079.0,246.0 Z" fill="#e6e0e8" stroke="#dbbfd6" stroke-width="1.2" opacity="1" stroke-linejoin="round" stroke-linecap="round" />
<path d="M1150.0,333.0 C1148.2,331.0 1167.4,323.8 1172.0,322.0 C1176.6,320.2 1191.7,316.0 1196.0,315.0 C1200.3,314.0 1210.6,312.9 1215.0,312.0 C1219.4,311.1 1235.0,307.4 1240.0,306.0 C1245.0,304.6 1260.0,299.3 1265.0,298.0 C1270.0,296.7 1284.7,293.4 1290.0,293.0 C1295.3,292.6 1312.6,293.7 1318.0,294.0 C1323.4,294.3 1341.4,295.8 1344.0,296.0 C1346.6,296.2 1346.6,294.8 1344.0,296.0 C1341.4,297.2 1323.4,305.8 1318.0,308.0 C1312.6,310.2 1297.8,315.4 1290.0,318.0 C1282.2,320.6 1250.0,331.6 1240.0,334.0 C1230.0,336.4 1199.0,342.1 1190.0,342.0 C1181.0,341.9 1151.8,335.0 1150.0,333.0 Z" fill="#f0e9ef" stroke="none" stroke-width="1" opacity="1" stroke-linejoin="round" stroke-linecap="round" />
<path d="M1088.0,292.0 C1090.8,294.3 1098.8,301.3 1105.0,306.0 C1111.2,310.7 1117.5,315.5 1125.0,320.0 C1132.5,324.5 1145.8,330.8 1150.0,333.0" fill="none" stroke="#dcbad5" stroke-width="1.2" opacity="1" stroke-linejoin="round" stroke-linecap="round" />
<path d="M1150.0,333.0 C1153.7,331.2 1164.3,325.0 1172.0,322.0 C1179.7,319.0 1188.8,316.7 1196.0,315.0 C1203.2,313.3 1207.7,313.5 1215.0,312.0 C1222.3,310.5 1231.7,308.3 1240.0,306.0 C1248.3,303.7 1256.7,300.2 1265.0,298.0 C1273.3,295.8 1281.2,293.7 1290.0,293.0 C1298.8,292.3 1309.0,293.5 1318.0,294.0 C1327.0,294.5 1339.7,295.7 1344.0,296.0" fill="none" stroke="#d9a6cf" stroke-width="1.4" opacity="1" stroke-linejoin="round" stroke-linecap="round" />
<path d="M1076.0,295.0 C1080.0,298.8 1091.8,311.5 1100.0,318.0 C1108.2,324.5 1116.7,330.3 1125.0,334.0 C1133.3,337.7 1139.2,338.7 1150.0,340.0 C1160.8,341.3 1175.0,343.0 1190.0,342.0 C1205.0,341.0 1223.3,338.0 1240.0,334.0 C1256.7,330.0 1277.0,322.3 1290.0,318.0 C1303.0,313.7 1309.0,311.7 1318.0,308.0 C1327.0,304.3 1339.7,298.0 1344.0,296.0" fill="none" stroke="#cc74b2" stroke-width="1.8" opacity="1" stroke-linejoin="round" stroke-linecap="round" />
<ellipse cx="1153.3" cy="340.5" rx="1.4" ry="1.0" transform="rotate(3 1153.3 340.5)" fill="#c0559f" opacity="1.00"/>
<ellipse cx="1157.2" cy="340.6" rx="1.8" ry="1.3" transform="rotate(3 1157.2 340.6)" fill="#c0559f" opacity="1.00"/>
<ellipse cx="1164.1" cy="341.0" rx="1.5" ry="1.1" transform="rotate(3 1164.1 341.0)" fill="#c0559f" opacity="0.78"/>
<ellipse cx="1171.3" cy="341.5" rx="1.8" ry="1.3" transform="rotate(3 1171.3 341.5)" fill="#c0559f" opacity="0.77"/>
<ellipse cx="1180.4" cy="341.2" rx="1.6" ry="1.1" transform="rotate(3 1180.4 341.2)" fill="#c0559f" opacity="0.83"/>
<ellipse cx="1183.7" cy="341.5" rx="1.7" ry="1.2" transform="rotate(3 1183.7 341.5)" fill="#c0559f" opacity="0.98"/>
<ellipse cx="1192.3" cy="342.0" rx="1.9" ry="1.4" transform="rotate(-9 1192.3 342.0)" fill="#c0559f" opacity="0.85"/>
<ellipse cx="1199.2" cy="340.0" rx="1.4" ry="1.0" transform="rotate(-9 1199.2 340.0)" fill="#c0559f" opacity="0.98"/>
<ellipse cx="1205.4" cy="339.3" rx="1.6" ry="1.1" transform="rotate(-9 1205.4 339.3)" fill="#c0559f" opacity="0.97"/>
<ellipse cx="1208.7" cy="338.4" rx="1.6" ry="1.1" transform="rotate(-9 1208.7 338.4)" fill="#c0559f" opacity="0.95"/>
<ellipse cx="1217.0" cy="337.7" rx="1.4" ry="1.0" transform="rotate(-9 1217.0 337.7)" fill="#c0559f" opacity="0.98"/>
<ellipse cx="1222.3" cy="336.6" rx="1.8" ry="1.3" transform="rotate(-9 1222.3 336.6)" fill="#c0559f" opacity="0.80"/>
<ellipse cx="1230.7" cy="335.4" rx="1.4" ry="1.0" transform="rotate(-9 1230.7 335.4)" fill="#c0559f" opacity="0.97"/>
<ellipse cx="1236.7" cy="334.1" rx="1.6" ry="1.1" transform="rotate(-9 1236.7 334.1)" fill="#c0559f" opacity="0.81"/>
<ellipse cx="1243.7" cy="333.3" rx="1.5" ry="1.1" transform="rotate(-18 1243.7 333.3)" fill="#c0559f" opacity="0.71"/>
<ellipse cx="1250.1" cy="330.5" rx="1.6" ry="1.1" transform="rotate(-18 1250.1 330.5)" fill="#c0559f" opacity="0.84"/>
<ellipse cx="1255.6" cy="328.3" rx="1.8" ry="1.3" transform="rotate(-18 1255.6 328.3)" fill="#c0559f" opacity="0.87"/>
<ellipse cx="1260.8" cy="327.6" rx="1.7" ry="1.2" transform="rotate(-18 1260.8 327.6)" fill="#c0559f" opacity="0.78"/>
<ellipse cx="1264.7" cy="325.7" rx="1.7" ry="1.2" transform="rotate(-18 1264.7 325.7)" fill="#c0559f" opacity="0.81"/>
<ellipse cx="1272.7" cy="323.8" rx="1.7" ry="1.2" transform="rotate(-18 1272.7 323.8)" fill="#c0559f" opacity="0.79"/>
<ellipse cx="1280.9" cy="321.5" rx="1.9" ry="1.3" transform="rotate(-18 1280.9 321.5)" fill="#c0559f" opacity="0.70"/>
<ellipse cx="1286.1" cy="319.1" rx="1.6" ry="1.2" transform="rotate(-18 1286.1 319.1)" fill="#c0559f" opacity="0.74"/>
<ellipse cx="1291.6" cy="317.4" rx="1.9" ry="1.3" transform="rotate(-20 1291.6 317.4)" fill="#c0559f" opacity="0.91"/>
<ellipse cx="1298.1" cy="315.2" rx="1.7" ry="1.2" transform="rotate(-20 1298.1 315.2)" fill="#c0559f" opacity="0.80"/>
<ellipse cx="1303.9" cy="313.3" rx="1.8" ry="1.2" transform="rotate(-20 1303.9 313.3)" fill="#c0559f" opacity="0.73"/>
<ellipse cx="1314.6" cy="309.0" rx="1.9" ry="1.3" transform="rotate(-20 1314.6 309.0)" fill="#c0559f" opacity="0.74"/>
<ellipse cx="1318.2" cy="308.1" rx="1.6" ry="1.2" transform="rotate(-25 1318.2 308.1)" fill="#c0559f" opacity="0.85"/>
<ellipse cx="1327.9" cy="303.7" rx="1.3" ry="0.9" transform="rotate(-25 1327.9 303.7)" fill="#c0559f" opacity="0.93"/>
<ellipse cx="1331.8" cy="302.1" rx="1.7" ry="1.2" transform="rotate(-25 1331.8 302.1)" fill="#c0559f" opacity="0.87"/>
<ellipse cx="1339.9" cy="297.9" rx="1.5" ry="1.0" transform="rotate(-25 1339.9 297.9)" fill="#c0559f" opacity="0.87"/>
<circle cx="1186" cy="322" r="3.2" fill="#bf4f9d" opacity="0.85"/>
<circle cx="1289" cy="297" r="2.2" fill="#bf4f9d" opacity="0.85"/>
<circle cx="1298" cy="300" r="2.2" fill="#bf4f9d" opacity="0.85"/>
<circle cx="1307" cy="302" r="2.2" fill="#bf4f9d" opacity="0.85"/>
<circle cx="1316" cy="302" r="2.2" fill="#bf4f9d" opacity="0.85"/>
<circle cx="1206" cy="323" r="2" fill="#bf4f9d" opacity="0.85"/>
<circle cx="1222" cy="320" r="2" fill="#bf4f9d" opacity="0.85"/>
<circle cx="1240" cy="318" r="1.8" fill="#bf4f9d" opacity="0.85"/>
<circle cx="1160" cy="334" r="1.8" fill="#bf4f9d" opacity="0.85"/>
<circle cx="1262" cy="312" r="1.8" fill="#bf4f9d" opacity="0.85"/>
<circle cx="1330" cy="300" r="1.8" fill="#bf4f9d" opacity="0.85"/>
<path d="M1300.0,296.0 C1303.3,290.0 1315.0,269.3 1320.0,260.0 C1325.0,250.7 1328.3,243.3 1330.0,240.0" fill="none" stroke="#dcc9da" stroke-width="1" opacity="1" stroke-linejoin="round" stroke-linecap="round" />
</g></g>
<rect x="1077" y="222.5" width="270.6" height="132.9" fill="none" stroke="#fff" stroke-width="7"/>
<rect x="1077" y="222.5" width="270.6" height="132.9" fill="none" stroke="#000" stroke-width="4.8"/>
<line x1="1300" y1="337.6" x2="1341" y2="337.6" stroke="#000" stroke-width="3"/>
<path d="M1077,355.4 L929,435.3 M1347.6,355.4 L1398,435.1" stroke="#000" stroke-width="4.6" fill="none" stroke-linecap="round"/>
<g clip-path="url(#cc)"><g filter="url(#grain)">
<rect x="920" y="435" width="485" height="235" fill="#fff"/>
<path d="M925.0,472.0 C926.8,470.6 936.3,479.2 940.0,482.0 C943.7,484.8 952.9,495.2 957.0,496.0 C961.1,496.8 970.6,490.8 975.0,489.0 C979.4,487.2 990.7,482.2 995.0,481.0 C999.3,479.8 1007.9,478.5 1012.0,479.0 C1016.1,479.5 1025.6,483.1 1030.0,485.0 C1034.4,486.9 1045.3,493.4 1050.0,495.0 C1054.7,496.6 1065.7,498.2 1070.0,499.0 C1074.3,499.8 1084.0,500.6 1087.0,502.0 C1090.0,503.4 1095.4,509.0 1096.0,511.0 C1096.6,513.0 1095.0,517.1 1092.0,519.0 C1089.0,520.9 1076.1,526.6 1070.0,527.0 C1063.9,527.4 1046.4,523.4 1040.0,522.0 C1033.6,520.6 1020.2,516.8 1015.0,515.0 C1009.8,513.2 999.7,508.2 995.0,507.0 C990.3,505.8 979.1,504.4 975.0,505.0 C970.9,505.6 962.7,510.0 960.0,512.0 C957.3,514.0 953.8,521.8 952.0,522.0 C950.2,522.2 947.0,516.6 945.0,514.0 C943.0,511.4 937.3,502.3 935.0,500.0 C932.7,497.7 926.2,497.3 925.0,494.0 C923.8,490.7 923.2,473.4 925.0,472.0 Z" fill="#f8edf6" stroke="#dfb4d7" stroke-width="1.6" opacity="1" stroke-linejoin="round" stroke-linecap="round" />
<path d="M930.0,480.0 C934.2,483.7 946.7,499.7 955.0,502.0 C963.3,504.3 970.8,496.7 980.0,494.0 C989.2,491.3 999.2,485.3 1010.0,486.0 C1020.8,486.7 1032.5,494.3 1045.0,498.0 C1057.5,501.7 1078.3,506.3 1085.0,508.0" fill="none" stroke="#ebcde5" stroke-width="1" opacity="1" stroke-linejoin="round" stroke-linecap="round" />
<path d="M928.0,488.0 C931.7,492.0 942.2,510.0 950.0,512.0 C957.8,514.0 965.0,502.3 975.0,500.0 C985.0,497.7 998.3,496.3 1010.0,498.0 C1021.7,499.7 1032.5,507.0 1045.0,510.0 C1057.5,513.0 1078.3,515.0 1085.0,516.0" fill="none" stroke="#ecd2e7" stroke-width="1" opacity="1" stroke-linejoin="round" stroke-linecap="round" />
<path d="M925.0,495.0 C926.7,496.7 931.7,501.7 935.0,505.0 C938.3,508.3 942.5,511.7 945.0,515.0 C947.5,518.3 948.8,522.2 950.0,525.0 C951.2,527.8 951.7,530.8 952.0,532.0" fill="none" stroke="#dcb2d4" stroke-width="1.2" opacity="1" stroke-linejoin="round" stroke-linecap="round" />
<path d="M925.0,527.0 C927.0,527.7 933.2,530.8 937.0,531.0 C940.8,531.2 946.2,528.5 948.0,528.0" fill="none" stroke="#e0bcd9" stroke-width="1" opacity="1" stroke-linejoin="round" stroke-linecap="round" />
<path d="M931.0,531.0 L931.0,545.0" fill="none" stroke="#e0bcd9" stroke-width="1" opacity="1" stroke-linejoin="round" stroke-linecap="round" />
<ellipse cx="926.5" cy="518" rx="3" ry="4" fill="#c5509c"/>
<ellipse cx="930" cy="550" rx="3.2" ry="2.8" fill="#c985bb"/>
<ellipse cx="1077" cy="488" rx="3" ry="3" fill="#e0a8d4"/>
<ellipse cx="1100" cy="512" rx="2.5" ry="2.5" fill="#e3b0d6"/>
<ellipse cx="1080" cy="472" rx="1.5" ry="1.5" fill="#ead0e5"/>
<ellipse cx="990" cy="471" rx="1.5" ry="1.5" fill="#efd6ea"/>
<path d="M952.0,567.0 L960.0,580.0 L975.0,592.0 L1000.0,600.0 L1030.0,606.0 L1060.0,604.0 L1090.0,593.0 L1110.0,585.0 L1130.0,577.0 L1155.0,572.0 L1180.0,553.0 L1205.0,545.0 L1230.0,534.0 L1260.0,524.0 L1290.0,513.0 L1318.0,507.0 L1340.0,510.0 L1365.0,513.0 L1400.0,496.0 L1400.0,499.0 L1334.0,543.0 L1273.0,580.0 L1211.0,607.0 L1150.0,618.0 L1090.0,636.0 L1000.0,626.0 L960.0,600.0 Z" fill="#fbf3f9" stroke="none" stroke-width="1" opacity="1" stroke-linejoin="round" stroke-linecap="round" />
<path d="M952.0,567.0 C953.3,569.2 956.2,575.8 960.0,580.0 C963.8,584.2 968.3,588.7 975.0,592.0 C981.7,595.3 990.8,597.7 1000.0,600.0 C1009.2,602.3 1020.0,605.3 1030.0,606.0 C1040.0,606.7 1050.0,606.2 1060.0,604.0 C1070.0,601.8 1081.7,596.2 1090.0,593.0 C1098.3,589.8 1103.3,587.7 1110.0,585.0 C1116.7,582.3 1122.5,579.2 1130.0,577.0 C1137.5,574.8 1146.7,576.0 1155.0,572.0 C1163.3,568.0 1171.7,557.5 1180.0,553.0 C1188.3,548.5 1196.7,548.2 1205.0,545.0 C1213.3,541.8 1220.8,537.5 1230.0,534.0 C1239.2,530.5 1250.0,527.5 1260.0,524.0 C1270.0,520.5 1280.3,515.8 1290.0,513.0 C1299.7,510.2 1309.7,507.5 1318.0,507.0 C1326.3,506.5 1332.2,509.0 1340.0,510.0 C1347.8,511.0 1355.0,515.3 1365.0,513.0 C1375.0,510.7 1394.2,498.8 1400.0,496.0" fill="none" stroke="#e1b6da" stroke-width="1.5" opacity="1" stroke-linejoin="round" stroke-linecap="round" />
<path d="M1155.0,572.0 C1158.3,573.0 1168.3,573.3 1175.0,578.0 C1181.7,582.7 1190.8,595.3 1195.0,600.0 C1199.2,604.7 1199.2,605.0 1200.0,606.0" fill="none" stroke="#e2b4d9" stroke-width="1.2" opacity="1" stroke-linejoin="round" stroke-linecap="round" />
<path d="M1120.0,615.0 C1122.5,610.8 1130.8,596.2 1135.0,590.0 C1139.2,583.8 1140.8,580.7 1145.0,578.0 C1149.2,575.3 1157.5,574.7 1160.0,574.0" fill="none" stroke="#d898cb" stroke-width="2" opacity="1" stroke-linejoin="round" stroke-linecap="round" />
<path d="M1135.0,590.0 C1137.5,589.7 1145.5,589.3 1150.0,588.0 C1154.5,586.7 1157.8,583.5 1162.0,582.0 C1166.2,580.5 1172.8,579.5 1175.0,579.0" fill="none" stroke="#e0b0d6" stroke-width="1.5" opacity="1" stroke-linejoin="round" stroke-linecap="round" />
<path d="M1230.0,560.0 C1235.0,559.3 1250.0,558.0 1260.0,556.0 C1270.0,554.0 1280.0,550.7 1290.0,548.0 C1300.0,545.3 1311.7,543.7 1320.0,540.0 C1328.3,536.3 1336.7,528.3 1340.0,526.0" fill="none" stroke="#ead0e6" stroke-width="1" opacity="1" stroke-linejoin="round" stroke-linecap="round" />
<path d="M1240.0,540.0 C1245.0,539.2 1260.0,536.3 1270.0,535.0 C1280.0,533.7 1295.0,532.5 1300.0,532.0" fill="none" stroke="#ecd5e8" stroke-width="1" opacity="1" stroke-linejoin="round" stroke-linecap="round" />
<path d="M1268.0,520.0 C1273.3,520.0 1289.7,515.8 1300.0,520.0 C1310.3,524.2 1320.0,545.0 1330.0,545.0 C1340.0,545.0 1355.0,524.2 1360.0,520.0" fill="none" stroke="#ecd5e8" stroke-width="1" opacity="1" stroke-linejoin="round" stroke-linecap="round" />
<ellipse cx="1127" cy="588" rx="6" ry="7" fill="#d98fc6"/>
<ellipse cx="1128" cy="587" rx="3.5" ry="3.8" fill="#c162a6"/>
<circle cx="1185" cy="562" r="2.6" fill="#cc6cb0" opacity="0.9"/>
<circle cx="1222" cy="572" r="2.6" fill="#cc6cb0" opacity="0.9"/>
<circle cx="1240" cy="548" r="2.4" fill="#cc6cb0" opacity="0.9"/>
<circle cx="1370" cy="512" r="2.4" fill="#cc6cb0" opacity="0.9"/>
<circle cx="1383" cy="506" r="2.2" fill="#cc6cb0" opacity="0.9"/>
<circle cx="1325" cy="528" r="2.4" fill="#cc6cb0" opacity="0.9"/>
<circle cx="1213" cy="564.5" r="3.5" fill="#cc6cb0" opacity="0.9"/>
<circle cx="1190" cy="573" r="2.8" fill="#cc6cb0" opacity="0.9"/>
<circle cx="1199" cy="581" r="3" fill="#cc6cb0" opacity="0.9"/>
<circle cx="1231" cy="560" r="3.2" fill="#cc6cb0" opacity="0.9"/>
<circle cx="1216" cy="550" r="2.5" fill="#cc6cb0" opacity="0.9"/>
<circle cx="1299" cy="518" r="3.2" fill="#cc6cb0" opacity="0.9"/>
<circle cx="1316" cy="512" r="3.2" fill="#cc6cb0" opacity="0.9"/>
<circle cx="1333" cy="519" r="2.8" fill="#cc6cb0" opacity="0.9"/>
<circle cx="1344" cy="520" r="2.8" fill="#cc6cb0" opacity="0.9"/>
<circle cx="1359" cy="517" r="2.5" fill="#cc6cb0" opacity="0.9"/>
<circle cx="1338" cy="532" r="2.6" fill="#cc6cb0" opacity="0.9"/>
<circle cx="1342" cy="543" r="2.4" fill="#cc6cb0" opacity="0.9"/>
<circle cx="1355" cy="527" r="2.2" fill="#cc6cb0" opacity="0.9"/>
<circle cx="1108" cy="600" r="2" fill="#cc6cb0" opacity="0.9"/>
<circle cx="1098" cy="610" r="2" fill="#cc6cb0" opacity="0.9"/>
<circle cx="1060" cy="615" r="2.2" fill="#cc6cb0" opacity="0.9"/>
<circle cx="1200" cy="597" r="2.5" fill="#cc6cb0" opacity="0.9"/>
<circle cx="1195" cy="590" r="2.2" fill="#cc6cb0" opacity="0.9"/>
<circle cx="1375" cy="514" r="2" fill="#cc6cb0" opacity="0.9"/>
<path d="M925.0,587.0 C927.3,584.9 955.0,593.0 960.0,594.0 C965.0,595.0 994.0,600.9 1000.0,602.0 C1006.0,603.1 1043.3,609.8 1050.0,611.0 C1056.7,612.2 1093.3,619.4 1100.0,620.0 C1106.7,620.6 1150.0,619.1 1150.0,620.0 C1150.0,620.9 1106.7,632.3 1100.0,633.0 C1093.3,633.7 1056.7,630.3 1050.0,630.0 C1043.3,629.7 1008.3,628.3 1000.0,628.0 C991.7,627.7 930.0,628.7 925.0,626.0 C920.0,623.3 922.7,589.1 925.0,587.0 Z" fill="#edd3e8" stroke="none" stroke-width="1" opacity="1" stroke-linejoin="round" stroke-linecap="round" />
<path d="M925.0,592.0 C937.5,593.3 974.2,596.7 1000.0,600.0 C1025.8,603.3 1066.7,610.0 1080.0,612.0" fill="none" stroke="#e2b9db" stroke-width="0.9" opacity="1" stroke-linejoin="round" stroke-linecap="round" />
<path d="M925.0,598.0 C937.5,599.2 974.2,602.5 1000.0,605.5 C1025.8,608.5 1066.7,614.2 1080.0,616.0" fill="none" stroke="#e2b9db" stroke-width="0.9" opacity="1" stroke-linejoin="round" stroke-linecap="round" />
<path d="M925.0,604.0 C937.5,605.2 974.2,608.3 1000.0,611.0 C1025.8,613.7 1066.7,618.5 1080.0,620.0" fill="none" stroke="#e2b9db" stroke-width="0.9" opacity="1" stroke-linejoin="round" stroke-linecap="round" />
<path d="M925.0,610.0 C937.5,611.1 974.2,614.2 1000.0,616.5 C1025.8,618.8 1066.7,622.8 1080.0,624.0" fill="none" stroke="#e2b9db" stroke-width="0.9" opacity="1" stroke-linejoin="round" stroke-linecap="round" />
<path d="M925.0,616.0 C937.5,617.0 974.2,620.0 1000.0,622.0 C1025.8,624.0 1066.7,627.0 1080.0,628.0" fill="none" stroke="#e2b9db" stroke-width="0.9" opacity="1" stroke-linejoin="round" stroke-linecap="round" />
<path d="M925.0,622.0 C937.5,622.9 974.2,625.8 1000.0,627.5 C1025.8,629.2 1066.7,631.2 1080.0,632.0" fill="none" stroke="#e2b9db" stroke-width="0.9" opacity="1" stroke-linejoin="round" stroke-linecap="round" />
<path d="M925.0,624.0 C928.7,621.9 972.3,625.7 980.0,626.0 C987.7,626.3 1032.3,627.6 1040.0,628.0 C1047.7,628.4 1093.3,631.2 1096.0,632.0 C1098.7,632.8 1083.7,638.9 1080.0,640.0 C1076.3,641.1 1045.3,647.2 1040.0,648.0 C1034.7,648.8 1005.3,651.5 1000.0,652.0 C994.7,652.5 965.0,654.7 960.0,655.0 C955.0,655.3 927.3,659.1 925.0,657.0 C922.7,654.9 921.3,626.1 925.0,624.0 Z" fill="#e394cc" stroke="none" stroke-width="1" opacity="1" stroke-linejoin="round" stroke-linecap="round" />
<ellipse cx="953.2" cy="646.8" rx="5.2" ry="1.7" transform="rotate(2 953.2 646.8)" fill="#c94aa2" opacity="1.00"/>
<ellipse cx="1015.2" cy="650.0" rx="3.0" ry="2.1" transform="rotate(10 1015.2 650.0)" fill="#c0449a" opacity="0.72"/>
<ellipse cx="964.7" cy="631.7" rx="3.1" ry="2.2" transform="rotate(-8 964.7 631.7)" fill="#c0449a" opacity="0.88"/>
<ellipse cx="981.2" cy="640.4" rx="3.4" ry="2.2" transform="rotate(9 981.2 640.4)" fill="#da74b8" opacity="0.71"/>
<ellipse cx="940.1" cy="650.7" rx="3.1" ry="1.4" transform="rotate(-5 940.1 650.7)" fill="#da74b8" opacity="0.82"/>
<ellipse cx="1038.7" cy="639.5" rx="5.9" ry="1.4" transform="rotate(14 1038.7 639.5)" fill="#c94aa2" opacity="0.76"/>
<ellipse cx="1055.4" cy="643.2" rx="5.6" ry="1.4" transform="rotate(0 1055.4 643.2)" fill="#c0449a" opacity="0.87"/>
<ellipse cx="983.4" cy="628.8" rx="4.9" ry="1.6" transform="rotate(-1 983.4 628.8)" fill="#c0449a" opacity="0.85"/>
<ellipse cx="1007.8" cy="632.8" rx="5.9" ry="1.4" transform="rotate(-7 1007.8 632.8)" fill="#c0449a" opacity="0.70"/>
<ellipse cx="1027.5" cy="641.2" rx="5.0" ry="1.6" transform="rotate(-5 1027.5 641.2)" fill="#d25fae" opacity="0.75"/>
<ellipse cx="984.3" cy="643.7" rx="4.1" ry="1.4" transform="rotate(-5 984.3 643.7)" fill="#d25fae" opacity="0.98"/>
<ellipse cx="998.3" cy="629.3" rx="3.1" ry="1.8" transform="rotate(15 998.3 629.3)" fill="#c94aa2" opacity="0.82"/>
<ellipse cx="1076.0" cy="640.2" rx="4.3" ry="1.5" transform="rotate(-7 1076.0 640.2)" fill="#c94aa2" opacity="0.75"/>
<ellipse cx="933.9" cy="632.5" rx="4.0" ry="1.7" transform="rotate(12 933.9 632.5)" fill="#c94aa2" opacity="0.82"/>
<ellipse cx="1035.4" cy="628.8" rx="3.5" ry="2.0" transform="rotate(14 1035.4 628.8)" fill="#d25fae" opacity="0.78"/>
<ellipse cx="1014.9" cy="648.0" rx="3.1" ry="1.5" transform="rotate(12 1014.9 648.0)" fill="#da74b8" opacity="0.94"/>
<ellipse cx="1027.8" cy="638.1" rx="5.0" ry="2.1" transform="rotate(5 1027.8 638.1)" fill="#da74b8" opacity="0.74"/>
<ellipse cx="948.8" cy="647.8" rx="4.3" ry="1.4" transform="rotate(-1 948.8 647.8)" fill="#d25fae" opacity="0.78"/>
<ellipse cx="997.0" cy="646.5" rx="5.6" ry="2.0" transform="rotate(-7 997.0 646.5)" fill="#c94aa2" opacity="0.74"/>
<ellipse cx="941.1" cy="624.8" rx="4.6" ry="1.4" transform="rotate(-6 941.1 624.8)" fill="#d25fae" opacity="0.90"/>
<ellipse cx="1017.1" cy="634.7" rx="4.7" ry="1.5" transform="rotate(12 1017.1 634.7)" fill="#c94aa2" opacity="0.75"/>
<ellipse cx="959.5" cy="648.6" rx="5.6" ry="1.8" transform="rotate(-9 959.5 648.6)" fill="#d25fae" opacity="0.94"/>
<ellipse cx="1055.6" cy="629.8" rx="5.5" ry="1.5" transform="rotate(-3 1055.6 629.8)" fill="#da74b8" opacity="0.92"/>
<ellipse cx="951.7" cy="648.0" rx="6.5" ry="2.0" transform="rotate(-7 951.7 648.0)" fill="#c0449a" opacity="0.98"/>
<ellipse cx="1027.8" cy="640.8" rx="5.6" ry="2.2" transform="rotate(6 1027.8 640.8)" fill="#da74b8" opacity="0.79"/>
<ellipse cx="1054.6" cy="630.3" rx="5.2" ry="1.6" transform="rotate(-1 1054.6 630.3)" fill="#c94aa2" opacity="0.81"/>
<ellipse cx="938.0" cy="626.4" rx="5.9" ry="2.0" transform="rotate(14 938.0 626.4)" fill="#c0449a" opacity="0.85"/>
<ellipse cx="1041.3" cy="647.3" rx="4.6" ry="1.8" transform="rotate(-8 1041.3 647.3)" fill="#c0449a" opacity="0.72"/>
<ellipse cx="972.1" cy="643.5" rx="4.4" ry="1.7" transform="rotate(-1 972.1 643.5)" fill="#c94aa2" opacity="0.82"/>
<ellipse cx="964.0" cy="654.2" rx="5.3" ry="1.3" transform="rotate(8 964.0 654.2)" fill="#c94aa2" opacity="0.85"/>
<ellipse cx="1044.5" cy="646.5" rx="3.9" ry="2.1" transform="rotate(0 1044.5 646.5)" fill="#c0449a" opacity="0.79"/>
<ellipse cx="1014.6" cy="647.5" rx="6.2" ry="1.4" transform="rotate(0 1014.6 647.5)" fill="#c94aa2" opacity="0.79"/>
<ellipse cx="949.9" cy="642.3" rx="3.3" ry="1.6" transform="rotate(2 949.9 642.3)" fill="#c0449a" opacity="0.92"/>
<ellipse cx="943.5" cy="655.5" rx="5.5" ry="1.5" transform="rotate(5 943.5 655.5)" fill="#da74b8" opacity="0.81"/>
<ellipse cx="957.3" cy="626.7" rx="3.1" ry="1.8" transform="rotate(3 957.3 626.7)" fill="#c94aa2" opacity="0.97"/>
<ellipse cx="965.8" cy="646.7" rx="5.5" ry="1.4" transform="rotate(1 965.8 646.7)" fill="#c0449a" opacity="0.84"/>
<ellipse cx="1030.5" cy="633.3" rx="3.6" ry="1.6" transform="rotate(14 1030.5 633.3)" fill="#da74b8" opacity="0.73"/>
<ellipse cx="961.8" cy="635.6" rx="5.2" ry="2.1" transform="rotate(3 961.8 635.6)" fill="#da74b8" opacity="0.71"/>
<ellipse cx="931.7" cy="644.1" rx="5.5" ry="1.5" transform="rotate(-5 931.7 644.1)" fill="#d25fae" opacity="0.98"/>
<ellipse cx="953.4" cy="642.8" rx="6.2" ry="1.7" transform="rotate(1 953.4 642.8)" fill="#d25fae" opacity="0.79"/>
<ellipse cx="1075.9" cy="632.1" rx="5.0" ry="2.0" transform="rotate(-9 1075.9 632.1)" fill="#c0449a" opacity="0.97"/>
<ellipse cx="1054.8" cy="630.2" rx="3.2" ry="2.0" transform="rotate(10 1054.8 630.2)" fill="#c0449a" opacity="0.84"/>
<ellipse cx="982.8" cy="632.9" rx="4.2" ry="1.6" transform="rotate(-7 982.8 632.9)" fill="#d25fae" opacity="0.97"/>
<ellipse cx="936.6" cy="640.9" rx="5.4" ry="1.5" transform="rotate(-5 936.6 640.9)" fill="#da74b8" opacity="0.81"/>
<ellipse cx="1025.1" cy="633.1" rx="5.8" ry="1.7" transform="rotate(13 1025.1 633.1)" fill="#d25fae" opacity="0.73"/>
<ellipse cx="1017.1" cy="637.5" rx="5.4" ry="2.0" transform="rotate(11 1017.1 637.5)" fill="#c0449a" opacity="0.72"/>
<ellipse cx="961.5" cy="625.3" rx="4.2" ry="1.8" transform="rotate(-0 961.5 625.3)" fill="#c94aa2" opacity="0.71"/>
<ellipse cx="972.8" cy="625.8" rx="5.4" ry="1.9" transform="rotate(0 972.8 625.8)" fill="#d25fae" opacity="0.99"/>
<ellipse cx="985.2" cy="644.2" rx="5.1" ry="2.0" transform="rotate(14 985.2 644.2)" fill="#c94aa2" opacity="0.75"/>
<ellipse cx="1010.6" cy="637.6" rx="3.8" ry="1.8" transform="rotate(9 1010.6 637.6)" fill="#da74b8" opacity="0.93"/>
<ellipse cx="1076.0" cy="636.0" rx="3.3" ry="1.7" transform="rotate(7 1076.0 636.0)" fill="#c94aa2" opacity="0.81"/>
<ellipse cx="1051.8" cy="631.0" rx="4.9" ry="1.6" transform="rotate(-3 1051.8 631.0)" fill="#da74b8" opacity="0.74"/>
<ellipse cx="997.5" cy="645.1" rx="5.7" ry="2.0" transform="rotate(1 997.5 645.1)" fill="#c94aa2" opacity="0.78"/>
<ellipse cx="989.6" cy="640.2" rx="3.9" ry="1.8" transform="rotate(10 989.6 640.2)" fill="#c0449a" opacity="0.76"/>
<ellipse cx="982.5" cy="638.5" rx="4.1" ry="1.4" transform="rotate(0 982.5 638.5)" fill="#c94aa2" opacity="1.00"/>
<ellipse cx="1038.6" cy="643.2" rx="5.0" ry="2.2" transform="rotate(12 1038.6 643.2)" fill="#c94aa2" opacity="0.85"/>
<ellipse cx="1019.6" cy="649.2" rx="5.4" ry="1.3" transform="rotate(2 1019.6 649.2)" fill="#c94aa2" opacity="0.85"/>
<ellipse cx="991.6" cy="644.7" rx="5.1" ry="1.9" transform="rotate(-0 991.6 644.7)" fill="#da74b8" opacity="0.93"/>
<ellipse cx="967.8" cy="649.8" rx="5.8" ry="2.1" transform="rotate(-1 967.8 649.8)" fill="#c94aa2" opacity="0.88"/>
<ellipse cx="967.5" cy="628.3" rx="5.6" ry="2.1" transform="rotate(-2 967.5 628.3)" fill="#d25fae" opacity="0.90"/>
<ellipse cx="962.3" cy="630.8" rx="4.7" ry="1.9" transform="rotate(13 962.3 630.8)" fill="#c94aa2" opacity="0.71"/>
<ellipse cx="926.6" cy="651.8" rx="4.0" ry="1.5" transform="rotate(9 926.6 651.8)" fill="#c0449a" opacity="0.72"/>
<ellipse cx="1027.9" cy="640.9" rx="6.5" ry="1.5" transform="rotate(4 1027.9 640.9)" fill="#c0449a" opacity="0.85"/>
<ellipse cx="1018.8" cy="638.3" rx="3.1" ry="2.2" transform="rotate(9 1018.8 638.3)" fill="#c94aa2" opacity="0.80"/>
<ellipse cx="1033.7" cy="639.1" rx="4.8" ry="1.5" transform="rotate(6 1033.7 639.1)" fill="#c94aa2" opacity="0.71"/>
<ellipse cx="1002.8" cy="631.3" rx="5.1" ry="1.8" transform="rotate(-5 1002.8 631.3)" fill="#d25fae" opacity="0.80"/>
<ellipse cx="927.3" cy="632.9" rx="5.4" ry="1.6" transform="rotate(-4 927.3 632.9)" fill="#d25fae" opacity="0.84"/>
<ellipse cx="926.8" cy="629.2" rx="3.5" ry="1.8" transform="rotate(-6 926.8 629.2)" fill="#c94aa2" opacity="0.86"/>
<ellipse cx="994.3" cy="649.1" rx="3.7" ry="1.9" transform="rotate(-3 994.3 649.1)" fill="#d25fae" opacity="0.73"/>
<ellipse cx="959.8" cy="643.0" rx="5.9" ry="1.8" transform="rotate(14 959.8 643.0)" fill="#d25fae" opacity="0.82"/>
<ellipse cx="1069.2" cy="631.1" rx="3.7" ry="1.1" transform="rotate(9 1069.2 631.1)" fill="#f2d0ea" opacity="0.86"/>
<ellipse cx="930.9" cy="642.6" rx="2.2" ry="1.1" transform="rotate(10 930.9 642.6)" fill="#f2d0ea" opacity="0.75"/>
<ellipse cx="955.9" cy="635.8" rx="2.9" ry="0.8" transform="rotate(-0 955.9 635.8)" fill="#f2d0ea" opacity="0.78"/>
<ellipse cx="985.4" cy="646.3" rx="3.2" ry="0.8" transform="rotate(3 985.4 646.3)" fill="#f2d0ea" opacity="0.77"/>
<ellipse cx="946.7" cy="652.9" rx="2.1" ry="0.9" transform="rotate(12 946.7 652.9)" fill="#f2d0ea" opacity="0.83"/>
<ellipse cx="1001.4" cy="650.6" rx="3.2" ry="1.1" transform="rotate(11 1001.4 650.6)" fill="#f2d0ea" opacity="0.62"/>
<ellipse cx="994.8" cy="650.9" rx="3.3" ry="1.0" transform="rotate(1 994.8 650.9)" fill="#f2d0ea" opacity="0.88"/>
<ellipse cx="965.0" cy="630.2" rx="3.3" ry="0.9" transform="rotate(9 965.0 630.2)" fill="#f2d0ea" opacity="0.87"/>
<ellipse cx="961.0" cy="644.8" rx="3.8" ry="1.1" transform="rotate(-0 961.0 644.8)" fill="#f2d0ea" opacity="0.71"/>
<ellipse cx="1009.9" cy="639.4" rx="2.8" ry="1.0" transform="rotate(-3 1009.9 639.4)" fill="#f2d0ea" opacity="0.86"/>
<ellipse cx="955.1" cy="644.6" rx="3.0" ry="1.1" transform="rotate(-8 955.1 644.6)" fill="#f2d0ea" opacity="0.78"/>
<ellipse cx="1013.8" cy="629.4" rx="3.7" ry="0.9" transform="rotate(-7 1013.8 629.4)" fill="#f2d0ea" opacity="0.78"/>
<ellipse cx="1044.9" cy="629.1" rx="2.7" ry="0.9" transform="rotate(-7 1044.9 629.1)" fill="#f2d0ea" opacity="0.89"/>
<ellipse cx="1045.7" cy="645.0" rx="3.7" ry="0.8" transform="rotate(-5 1045.7 645.0)" fill="#f2d0ea" opacity="0.70"/>
<path d="M925.0,656.0 C927.3,655.4 955.0,655.3 960.0,655.0 C965.0,654.7 994.7,652.4 1000.0,652.0 C1005.3,651.6 1036.0,649.3 1040.0,649.0 C1044.0,648.7 1060.0,646.5 1060.0,647.0 C1060.0,647.5 1044.0,655.1 1040.0,656.0 C1036.0,656.9 1005.3,660.5 1000.0,661.0 C994.7,661.5 965.0,662.8 960.0,663.0 C955.0,663.2 927.3,664.5 925.0,664.0 C922.7,663.5 922.7,656.6 925.0,656.0 Z" fill="#f6e6f3" stroke="none" stroke-width="1" opacity="1" stroke-linejoin="round" stroke-linecap="round" />
<ellipse cx="1054.4" cy="649.4" rx="1.5" ry="1.6" transform="rotate(6 1054.4 649.4)" fill="#cf78b6" opacity="0.88"/>
<ellipse cx="931.7" cy="663.6" rx="1.7" ry="1.3" transform="rotate(-11 931.7 663.6)" fill="#cf78b6" opacity="0.88"/>
<ellipse cx="1019.3" cy="657.4" rx="1.8" ry="1.6" transform="rotate(9 1019.3 657.4)" fill="#cf78b6" opacity="0.96"/>
<ellipse cx="1018.4" cy="654.3" rx="1.8" ry="1.5" transform="rotate(0 1018.4 654.3)" fill="#cf78b6" opacity="0.97"/>
<ellipse cx="994.8" cy="654.0" rx="2.2" ry="1.5" transform="rotate(-2 994.8 654.0)" fill="#cf78b6" opacity="0.83"/>
<ellipse cx="928.4" cy="656.8" rx="2.1" ry="1.3" transform="rotate(12 928.4 656.8)" fill="#cf78b6" opacity="0.64"/>
<ellipse cx="973.0" cy="654.3" rx="1.9" ry="1.6" transform="rotate(-2 973.0 654.3)" fill="#cf78b6" opacity="0.80"/>
<ellipse cx="938.0" cy="662.2" rx="1.7" ry="1.3" transform="rotate(10 938.0 662.2)" fill="#cf78b6" opacity="0.67"/>
<path d="M1090.0,636.0 C1100.0,633.0 1129.8,622.8 1150.0,618.0 C1170.2,613.2 1190.5,613.3 1211.0,607.0 C1231.5,600.7 1252.5,590.7 1273.0,580.0 C1293.5,569.3 1312.8,556.5 1334.0,543.0 C1355.2,529.5 1389.0,506.3 1400.0,499.0" fill="none" stroke="#dc9ed0" stroke-width="2.5" opacity="1" stroke-linejoin="round" stroke-linecap="round" />
<path d="M1150.0,613.0 C1160.2,610.8 1190.5,606.7 1211.0,600.0 C1231.5,593.3 1252.5,583.5 1273.0,573.0 C1293.5,562.5 1312.8,550.0 1334.0,537.0 C1355.2,524.0 1389.0,502.0 1400.0,495.0" fill="none" stroke="#e3b8db" stroke-width="1.3" opacity="1" stroke-linejoin="round" stroke-linecap="round" />
<ellipse cx="1093.3" cy="635.6" rx="2.0" ry="1.4" transform="rotate(-17 1093.3 635.6)" fill="#c4509e" opacity="0.88"/>
<ellipse cx="1096.3" cy="633.7" rx="2.1" ry="1.5" transform="rotate(-17 1096.3 633.7)" fill="#c4509e" opacity="0.83"/>
<ellipse cx="1100.6" cy="632.2" rx="2.0" ry="1.4" transform="rotate(-17 1100.6 632.2)" fill="#c4509e" opacity="0.91"/>
<ellipse cx="1106.3" cy="631.4" rx="2.3" ry="1.6" transform="rotate(-17 1106.3 631.4)" fill="#c4509e" opacity="0.72"/>
<ellipse cx="1112.5" cy="629.5" rx="2.5" ry="1.8" transform="rotate(-17 1112.5 629.5)" fill="#c4509e" opacity="0.99"/>
<ellipse cx="1116.4" cy="628.0" rx="2.5" ry="1.7" transform="rotate(-17 1116.4 628.0)" fill="#c4509e" opacity="0.90"/>
<ellipse cx="1120.4" cy="626.7" rx="2.6" ry="1.8" transform="rotate(-17 1120.4 626.7)" fill="#c4509e" opacity="0.88"/>
<ellipse cx="1126.5" cy="624.7" rx="2.1" ry="1.5" transform="rotate(-17 1126.5 624.7)" fill="#c4509e" opacity="0.80"/>
<ellipse cx="1132.1" cy="622.8" rx="2.0" ry="1.4" transform="rotate(-17 1132.1 622.8)" fill="#c4509e" opacity="0.71"/>
<ellipse cx="1135.9" cy="622.6" rx="2.2" ry="1.6" transform="rotate(-17 1135.9 622.6)" fill="#c4509e" opacity="0.81"/>
<ellipse cx="1140.6" cy="621.1" rx="2.4" ry="1.7" transform="rotate(-17 1140.6 621.1)" fill="#c4509e" opacity="0.78"/>
<ellipse cx="1145.7" cy="619.7" rx="2.7" ry="1.9" transform="rotate(-17 1145.7 619.7)" fill="#c4509e" opacity="0.77"/>
<ellipse cx="1152.2" cy="617.8" rx="2.8" ry="2.0" transform="rotate(-10 1152.2 617.8)" fill="#c4509e" opacity="0.75"/>
<ellipse cx="1157.5" cy="616.4" rx="1.9" ry="1.4" transform="rotate(-10 1157.5 616.4)" fill="#c4509e" opacity="0.94"/>
<ellipse cx="1162.8" cy="616.2" rx="2.8" ry="2.0" transform="rotate(-10 1162.8 616.2)" fill="#c4509e" opacity="0.86"/>
<ellipse cx="1168.6" cy="614.5" rx="2.9" ry="2.0" transform="rotate(-10 1168.6 614.5)" fill="#c4509e" opacity="0.81"/>
<ellipse cx="1170.4" cy="614.2" rx="2.1" ry="1.5" transform="rotate(-10 1170.4 614.2)" fill="#c4509e" opacity="0.98"/>
<ellipse cx="1178.0" cy="612.4" rx="2.4" ry="1.7" transform="rotate(-10 1178.0 612.4)" fill="#c4509e" opacity="0.75"/>
<ellipse cx="1182.5" cy="611.9" rx="2.3" ry="1.6" transform="rotate(-10 1182.5 611.9)" fill="#c4509e" opacity="0.97"/>
<ellipse cx="1186.8" cy="611.8" rx="2.7" ry="1.9" transform="rotate(-10 1186.8 611.8)" fill="#c4509e" opacity="0.97"/>
<ellipse cx="1192.7" cy="610.5" rx="2.7" ry="1.9" transform="rotate(-10 1192.7 610.5)" fill="#c4509e" opacity="0.89"/>
<ellipse cx="1196.2" cy="609.5" rx="2.7" ry="1.9" transform="rotate(-10 1196.2 609.5)" fill="#c4509e" opacity="0.87"/>
<ellipse cx="1202.9" cy="608.1" rx="2.5" ry="1.8" transform="rotate(-10 1202.9 608.1)" fill="#c4509e" opacity="0.80"/>
<ellipse cx="1208.0" cy="607.3" rx="2.8" ry="2.0" transform="rotate(-10 1208.0 607.3)" fill="#c4509e" opacity="0.72"/>
<ellipse cx="1212.7" cy="606.0" rx="2.5" ry="1.7" transform="rotate(-24 1212.7 606.0)" fill="#c4509e" opacity="0.84"/>
<ellipse cx="1217.3" cy="603.8" rx="2.3" ry="1.6" transform="rotate(-24 1217.3 603.8)" fill="#c4509e" opacity="0.94"/>
<ellipse cx="1221.4" cy="602.3" rx="2.6" ry="1.8" transform="rotate(-24 1221.4 602.3)" fill="#c4509e" opacity="0.75"/>
<ellipse cx="1226.5" cy="599.7" rx="2.6" ry="1.8" transform="rotate(-24 1226.5 599.7)" fill="#c4509e" opacity="0.84"/>
<ellipse cx="1232.1" cy="597.9" rx="2.4" ry="1.7" transform="rotate(-24 1232.1 597.9)" fill="#c4509e" opacity="0.79"/>
<ellipse cx="1236.9" cy="595.9" rx="2.7" ry="1.9" transform="rotate(-24 1236.9 595.9)" fill="#c4509e" opacity="0.85"/>
<ellipse cx="1242.0" cy="593.7" rx="2.2" ry="1.6" transform="rotate(-24 1242.0 593.7)" fill="#c4509e" opacity="0.80"/>
<ellipse cx="1245.1" cy="592.6" rx="2.2" ry="1.6" transform="rotate(-24 1245.1 592.6)" fill="#c4509e" opacity="0.82"/>
<ellipse cx="1250.7" cy="589.8" rx="2.5" ry="1.7" transform="rotate(-24 1250.7 589.8)" fill="#c4509e" opacity="0.78"/>
<ellipse cx="1254.2" cy="587.6" rx="2.2" ry="1.5" transform="rotate(-24 1254.2 587.6)" fill="#c4509e" opacity="0.96"/>
<ellipse cx="1259.7" cy="585.6" rx="2.0" ry="1.4" transform="rotate(-24 1259.7 585.6)" fill="#c4509e" opacity="0.87"/>
<ellipse cx="1265.2" cy="583.3" rx="2.7" ry="1.9" transform="rotate(-24 1265.2 583.3)" fill="#c4509e" opacity="0.77"/>
<ellipse cx="1271.2" cy="580.3" rx="2.7" ry="1.9" transform="rotate(-24 1271.2 580.3)" fill="#c4509e" opacity="0.78"/>
<ellipse cx="1273.5" cy="579.8" rx="2.0" ry="1.4" transform="rotate(-31 1273.5 579.8)" fill="#c4509e" opacity="0.92"/>
<ellipse cx="1278.6" cy="576.5" rx="2.0" ry="1.4" transform="rotate(-31 1278.6 576.5)" fill="#c4509e" opacity="0.97"/>
<ellipse cx="1283.0" cy="574.2" rx="2.8" ry="2.0" transform="rotate(-31 1283.0 574.2)" fill="#c4509e" opacity="0.75"/>
<ellipse cx="1286.3" cy="571.6" rx="2.6" ry="1.9" transform="rotate(-31 1286.3 571.6)" fill="#c4509e" opacity="0.84"/>
<ellipse cx="1292.4" cy="568.6" rx="2.7" ry="1.9" transform="rotate(-31 1292.4 568.6)" fill="#c4509e" opacity="0.88"/>
<ellipse cx="1296.1" cy="565.4" rx="2.0" ry="1.4" transform="rotate(-31 1296.1 565.4)" fill="#c4509e" opacity="0.96"/>
<ellipse cx="1299.6" cy="563.6" rx="2.5" ry="1.8" transform="rotate(-31 1299.6 563.6)" fill="#c4509e" opacity="0.86"/>
<ellipse cx="1305.7" cy="560.0" rx="2.5" ry="1.8" transform="rotate(-31 1305.7 560.0)" fill="#c4509e" opacity="0.92"/>
<ellipse cx="1310.1" cy="557.9" rx="2.9" ry="2.0" transform="rotate(-31 1310.1 557.9)" fill="#c4509e" opacity="0.99"/>
<ellipse cx="1312.4" cy="556.3" rx="2.7" ry="1.9" transform="rotate(-31 1312.4 556.3)" fill="#c4509e" opacity="0.71"/>
<ellipse cx="1317.9" cy="553.3" rx="2.4" ry="1.7" transform="rotate(-31 1317.9 553.3)" fill="#c4509e" opacity="0.76"/>
<ellipse cx="1321.5" cy="550.1" rx="2.3" ry="1.7" transform="rotate(-31 1321.5 550.1)" fill="#c4509e" opacity="0.95"/>
<ellipse cx="1326.7" cy="547.0" rx="2.2" ry="1.6" transform="rotate(-31 1326.7 547.0)" fill="#c4509e" opacity="0.90"/>
<ellipse cx="1330.4" cy="545.3" rx="2.5" ry="1.8" transform="rotate(-31 1330.4 545.3)" fill="#c4509e" opacity="0.99"/>
<ellipse cx="1335.6" cy="542.0" rx="2.5" ry="1.8" transform="rotate(-34 1335.6 542.0)" fill="#c4509e" opacity="0.98"/>
<ellipse cx="1341.2" cy="538.3" rx="2.0" ry="1.4" transform="rotate(-34 1341.2 538.3)" fill="#c4509e" opacity="0.95"/>
<ellipse cx="1343.7" cy="535.9" rx="2.0" ry="1.4" transform="rotate(-34 1343.7 535.9)" fill="#c4509e" opacity="0.82"/>
<ellipse cx="1350.1" cy="532.7" rx="2.6" ry="1.8" transform="rotate(-34 1350.1 532.7)" fill="#c4509e" opacity="0.78"/>
<ellipse cx="1352.2" cy="530.4" rx="2.5" ry="1.8" transform="rotate(-34 1352.2 530.4)" fill="#c4509e" opacity="0.85"/>
<ellipse cx="1357.0" cy="526.9" rx="2.4" ry="1.7" transform="rotate(-34 1357.0 526.9)" fill="#c4509e" opacity="0.74"/>
<ellipse cx="1361.9" cy="524.4" rx="2.6" ry="1.9" transform="rotate(-34 1361.9 524.4)" fill="#c4509e" opacity="0.88"/>
<ellipse cx="1365.8" cy="521.3" rx="2.9" ry="2.0" transform="rotate(-34 1365.8 521.3)" fill="#c4509e" opacity="0.78"/>
<ellipse cx="1369.9" cy="519.1" rx="2.7" ry="1.9" transform="rotate(-34 1369.9 519.1)" fill="#c4509e" opacity="0.79"/>
<ellipse cx="1375.6" cy="515.3" rx="2.5" ry="1.7" transform="rotate(-34 1375.6 515.3)" fill="#c4509e" opacity="0.97"/>
<ellipse cx="1378.6" cy="513.9" rx="2.6" ry="1.8" transform="rotate(-34 1378.6 513.9)" fill="#c4509e" opacity="0.73"/>
<ellipse cx="1385.4" cy="508.6" rx="2.7" ry="1.9" transform="rotate(-34 1385.4 508.6)" fill="#c4509e" opacity="0.72"/>
<ellipse cx="1387.4" cy="507.9" rx="2.8" ry="2.0" transform="rotate(-34 1387.4 507.9)" fill="#c4509e" opacity="0.89"/>
<ellipse cx="1392.3" cy="504.1" rx="2.9" ry="2.0" transform="rotate(-34 1392.3 504.1)" fill="#c4509e" opacity="0.89"/>
<ellipse cx="1397.5" cy="500.7" rx="2.6" ry="1.9" transform="rotate(-34 1397.5 500.7)" fill="#c4509e" opacity="0.72"/>
<ellipse cx="1252.2" cy="583.5" rx="2.1" ry="1.5" transform="rotate(-23 1252.2 583.5)" fill="#cc62a8" opacity="0.72"/>
<ellipse cx="1258.7" cy="580.8" rx="2.1" ry="1.5" transform="rotate(-23 1258.7 580.8)" fill="#cc62a8" opacity="0.85"/>
<ellipse cx="1264.2" cy="579.6" rx="1.9" ry="1.3" transform="rotate(-23 1264.2 579.6)" fill="#cc62a8" opacity="0.95"/>
<ellipse cx="1270.5" cy="575.8" rx="2.3" ry="1.7" transform="rotate(-23 1270.5 575.8)" fill="#cc62a8" opacity="0.77"/>
<ellipse cx="1273.5" cy="575.2" rx="2.4" ry="1.7" transform="rotate(-31 1273.5 575.2)" fill="#cc62a8" opacity="0.81"/>
<ellipse cx="1280.0" cy="570.9" rx="1.8" ry="1.3" transform="rotate(-31 1280.0 570.9)" fill="#cc62a8" opacity="0.86"/>
<ellipse cx="1283.0" cy="568.0" rx="2.1" ry="1.5" transform="rotate(-31 1283.0 568.0)" fill="#cc62a8" opacity="0.87"/>
<ellipse cx="1291.2" cy="564.1" rx="2.3" ry="1.6" transform="rotate(-31 1291.2 564.1)" fill="#cc62a8" opacity="0.76"/>
<ellipse cx="1295.7" cy="561.6" rx="1.9" ry="1.3" transform="rotate(-31 1295.7 561.6)" fill="#cc62a8" opacity="0.83"/>
<ellipse cx="1299.5" cy="558.1" rx="2.0" ry="1.4" transform="rotate(-31 1299.5 558.1)" fill="#cc62a8" opacity="0.91"/>
<ellipse cx="1303.5" cy="556.3" rx="2.2" ry="1.6" transform="rotate(-31 1303.5 556.3)" fill="#cc62a8" opacity="1.00"/>
<ellipse cx="1308.9" cy="552.8" rx="2.2" ry="1.6" transform="rotate(-31 1308.9 552.8)" fill="#cc62a8" opacity="0.98"/>
<ellipse cx="1315.9" cy="548.5" rx="1.6" ry="1.2" transform="rotate(-31 1315.9 548.5)" fill="#cc62a8" opacity="0.77"/>
<ellipse cx="1318.6" cy="547.6" rx="1.9" ry="1.3" transform="rotate(-31 1318.6 547.6)" fill="#cc62a8" opacity="0.97"/>
<ellipse cx="1326.5" cy="543.3" rx="2.1" ry="1.5" transform="rotate(-31 1326.5 543.3)" fill="#cc62a8" opacity="0.80"/>
<ellipse cx="1330.2" cy="539.7" rx="1.6" ry="1.1" transform="rotate(-31 1330.2 539.7)" fill="#cc62a8" opacity="0.87"/>
<ellipse cx="1336.0" cy="537.2" rx="2.2" ry="1.6" transform="rotate(-32 1336.0 537.2)" fill="#cc62a8" opacity="0.84"/>
<ellipse cx="1340.7" cy="533.4" rx="1.6" ry="1.1" transform="rotate(-32 1340.7 533.4)" fill="#cc62a8" opacity="0.83"/>
<ellipse cx="1344.2" cy="531.0" rx="1.7" ry="1.2" transform="rotate(-32 1344.2 531.0)" fill="#cc62a8" opacity="0.73"/>
<ellipse cx="1349.3" cy="527.3" rx="2.1" ry="1.5" transform="rotate(-32 1349.3 527.3)" fill="#cc62a8" opacity="0.83"/>
<ellipse cx="1353.5" cy="525.9" rx="2.3" ry="1.7" transform="rotate(-32 1353.5 525.9)" fill="#cc62a8" opacity="0.89"/>
<ellipse cx="1359.0" cy="521.5" rx="2.4" ry="1.7" transform="rotate(-32 1359.0 521.5)" fill="#cc62a8" opacity="0.83"/>
<ellipse cx="1362.7" cy="519.6" rx="2.4" ry="1.7" transform="rotate(-32 1362.7 519.6)" fill="#cc62a8" opacity="0.82"/>
<ellipse cx="1369.5" cy="515.6" rx="2.1" ry="1.5" transform="rotate(-32 1369.5 515.6)" fill="#cc62a8" opacity="0.92"/>
<ellipse cx="1373.8" cy="511.9" rx="1.8" ry="1.2" transform="rotate(-32 1373.8 511.9)" fill="#cc62a8" opacity="0.72"/>
<ellipse cx="1377.1" cy="510.2" rx="2.0" ry="1.4" transform="rotate(-32 1377.1 510.2)" fill="#cc62a8" opacity="0.70"/>
<ellipse cx="1384.0" cy="505.9" rx="1.7" ry="1.2" transform="rotate(-32 1384.0 505.9)" fill="#cc62a8" opacity="0.93"/>
<ellipse cx="1386.5" cy="504.2" rx="2.1" ry="1.5" transform="rotate(-32 1386.5 504.2)" fill="#cc62a8" opacity="0.90"/>
<ellipse cx="1392.5" cy="501.6" rx="2.4" ry="1.7" transform="rotate(-32 1392.5 501.6)" fill="#cc62a8" opacity="0.72"/>
<ellipse cx="1396.2" cy="498.4" rx="1.7" ry="1.2" transform="rotate(-32 1396.2 498.4)" fill="#cc62a8" opacity="0.75"/>
<path d="M1358.0,500.0 C1359.2,496.7 1362.7,487.0 1365.0,480.0 C1367.3,473.0 1370.2,464.2 1372.0,458.0 C1373.8,451.8 1375.3,445.5 1376.0,443.0" fill="none" stroke="#ead6e8" stroke-width="1" opacity="1" stroke-linejoin="round" stroke-linecap="round" />
<circle cx="1360" cy="480" r="2" fill="#e8bfe0"/>
</g></g>
<text x="1187" y="552.5" text-anchor="middle" font-family="DejaVu Serif, serif" font-size="48" fill="#000">*</text>
<text x="1120.6" y="577" text-anchor="middle" font-family="Liberation Serif, serif" font-size="49" fill="#000">+</text>
<path d="M1216.7,582.5 L1211,607 L1233,602.5 Z" fill="#ff0000" stroke="#2f5597" stroke-width="2" stroke-linejoin="miter"/>
<line x1="1293" y1="644.5" x2="1389.2" y2="644.5" stroke="#000" stroke-width="3"/>
<g clip-path="url(#cd)"><g filter="url(#grain)">
<rect x="1540" y="10" width="445" height="345" fill="#fef8fd"/>
<path d="M1545.0,13.0 C1558.5,-4.2 1669.5,9.3 1680.0,13.0 C1690.5,16.7 1656.5,42.8 1650.0,50.0 C1643.5,57.2 1621.0,79.0 1615.0,85.0 C1609.0,91.0 1594.5,104.5 1590.0,110.0 C1585.5,115.5 1573.0,133.0 1570.0,140.0 C1567.0,147.0 1562.5,175.5 1560.0,180.0 C1557.5,184.5 1546.5,201.7 1545.0,185.0 C1543.5,168.3 1531.5,30.2 1545.0,13.0 Z" fill="#f2e5f0" stroke="none" stroke-width="1" opacity="1" stroke-linejoin="round" stroke-linecap="round" />
<path d="M1545.0,13.0 C1553.1,1.9 1618.3,10.3 1626.0,13.0 C1633.7,15.7 1623.4,34.7 1622.0,40.0 C1620.6,45.3 1614.7,61.2 1612.0,66.0 C1609.3,70.8 1598.4,84.2 1595.0,88.0 C1591.6,91.8 1581.5,101.1 1578.0,104.0 C1574.5,106.9 1563.3,115.0 1560.0,117.0 C1556.7,119.0 1546.5,134.4 1545.0,124.0 C1543.5,113.6 1536.9,24.1 1545.0,13.0 Z" fill="#dcc0da" stroke="none" stroke-width="1" opacity="1" stroke-linejoin="round" stroke-linecap="round" />
<ellipse cx="1546.0" cy="25.5" rx="2.5" ry="2.5" transform="rotate(3 1546.0 25.5)" fill="#e5cfe3" opacity="0.88"/>
<ellipse cx="1602.6" cy="28.5" rx="4.0" ry="1.5" transform="rotate(3 1602.6 28.5)" fill="#e5cfe3" opacity="0.55"/>
<ellipse cx="1581.3" cy="58.8" rx="4.0" ry="1.6" transform="rotate(31 1581.3 58.8)" fill="#e5cfe3" opacity="0.81"/>
<ellipse cx="1572.7" cy="35.9" rx="2.5" ry="2.4" transform="rotate(-23 1572.7 35.9)" fill="#e5cfe3" opacity="0.58"/>
<ellipse cx="1592.4" cy="73.8" rx="3.9" ry="2.8" transform="rotate(-28 1592.4 73.8)" fill="#d4b6d2" opacity="0.55"/>
<ellipse cx="1609.5" cy="54.8" rx="1.7" ry="2.3" transform="rotate(-23 1609.5 54.8)" fill="#d4b6d2" opacity="0.76"/>
<ellipse cx="1560.7" cy="84.1" rx="2.0" ry="1.6" transform="rotate(6 1560.7 84.1)" fill="#d4b6d2" opacity="0.62"/>
<ellipse cx="1584.0" cy="85.2" rx="2.3" ry="1.8" transform="rotate(-15 1584.0 85.2)" fill="#e5cfe3" opacity="0.82"/>
<ellipse cx="1559.3" cy="82.2" rx="2.9" ry="2.5" transform="rotate(-38 1559.3 82.2)" fill="#e5cfe3" opacity="0.57"/>
<ellipse cx="1609.3" cy="54.6" rx="3.9" ry="2.5" transform="rotate(12 1609.3 54.6)" fill="#d4b6d2" opacity="0.86"/>
<ellipse cx="1581.0" cy="100.6" rx="2.9" ry="1.7" transform="rotate(11 1581.0 100.6)" fill="#e5cfe3" opacity="0.85"/>
<ellipse cx="1557.3" cy="19.4" rx="3.0" ry="2.3" transform="rotate(-1 1557.3 19.4)" fill="#d4b6d2" opacity="0.89"/>
<ellipse cx="1594.1" cy="68.2" rx="3.6" ry="1.5" transform="rotate(39 1594.1 68.2)" fill="#d4b6d2" opacity="0.81"/>
<ellipse cx="1573.2" cy="14.2" rx="2.4" ry="1.9" transform="rotate(-29 1573.2 14.2)" fill="#e5cfe3" opacity="0.90"/>
<ellipse cx="1590.9" cy="81.1" rx="3.8" ry="2.8" transform="rotate(29 1590.9 81.1)" fill="#e5cfe3" opacity="0.88"/>
<ellipse cx="1600.8" cy="74.5" rx="2.9" ry="2.3" transform="rotate(-24 1600.8 74.5)" fill="#d4b6d2" opacity="0.59"/>
<ellipse cx="1594.8" cy="47.2" rx="3.5" ry="2.0" transform="rotate(23 1594.8 47.2)" fill="#d4b6d2" opacity="0.55"/>
<ellipse cx="1600.9" cy="77.4" rx="1.9" ry="2.8" transform="rotate(-23 1600.9 77.4)" fill="#e5cfe3" opacity="0.79"/>
<ellipse cx="1564.9" cy="111.0" rx="2.0" ry="2.8" transform="rotate(-21 1564.9 111.0)" fill="#d4b6d2" opacity="0.72"/>
<ellipse cx="1612.0" cy="16.7" rx="3.0" ry="2.8" transform="rotate(-5 1612.0 16.7)" fill="#d4b6d2" opacity="0.71"/>
<ellipse cx="1601.9" cy="36.4" rx="1.6" ry="2.2" transform="rotate(-14 1601.9 36.4)" fill="#e5cfe3" opacity="0.60"/>
<ellipse cx="1554.1" cy="37.0" rx="3.9" ry="2.8" transform="rotate(-4 1554.1 37.0)" fill="#d4b6d2" opacity="0.86"/>
<ellipse cx="1578.8" cy="20.6" rx="1.9" ry="2.7" transform="rotate(-18 1578.8 20.6)" fill="#e5cfe3" opacity="0.89"/>
<ellipse cx="1567.1" cy="44.6" rx="3.7" ry="1.9" transform="rotate(22 1567.1 44.6)" fill="#d4b6d2" opacity="0.66"/>
<ellipse cx="1563.9" cy="80.2" rx="3.6" ry="2.3" transform="rotate(14 1563.9 80.2)" fill="#d4b6d2" opacity="0.84"/>
<ellipse cx="1602.3" cy="15.3" rx="3.8" ry="2.2" transform="rotate(2 1602.3 15.3)" fill="#d4b6d2" opacity="0.77"/>
<ellipse cx="1614.5" cy="47.3" rx="2.5" ry="2.5" transform="rotate(-36 1614.5 47.3)" fill="#e5cfe3" opacity="0.81"/>
<ellipse cx="1564.4" cy="107.1" rx="2.5" ry="2.9" transform="rotate(24 1564.4 107.1)" fill="#d4b6d2" opacity="0.89"/>
<ellipse cx="1550.0" cy="40.6" rx="2.7" ry="3.0" transform="rotate(-15 1550.0 40.6)" fill="#e5cfe3" opacity="0.81"/>
<ellipse cx="1563.3" cy="108.6" rx="2.9" ry="1.6" transform="rotate(-5 1563.3 108.6)" fill="#d4b6d2" opacity="0.82"/>
<ellipse cx="1583.9" cy="66.1" rx="3.2" ry="2.9" transform="rotate(39 1583.9 66.1)" fill="#d4b6d2" opacity="0.59"/>
<ellipse cx="1582.7" cy="52.8" rx="3.8" ry="2.1" transform="rotate(-24 1582.7 52.8)" fill="#d4b6d2" opacity="0.75"/>
<ellipse cx="1562.7" cy="19.4" rx="3.7" ry="2.2" transform="rotate(-8 1562.7 19.4)" fill="#d4b6d2" opacity="0.68"/>
<ellipse cx="1581.7" cy="28.2" rx="3.0" ry="2.8" transform="rotate(-10 1581.7 28.2)" fill="#e5cfe3" opacity="0.55"/>
<ellipse cx="1563.5" cy="50.9" rx="3.9" ry="2.1" transform="rotate(8 1563.5 50.9)" fill="#d4b6d2" opacity="0.83"/>
<ellipse cx="1611.5" cy="59.6" rx="1.7" ry="2.5" transform="rotate(37 1611.5 59.6)" fill="#d4b6d2" opacity="0.83"/>
<ellipse cx="1554.4" cy="107.5" rx="3.3" ry="2.0" transform="rotate(-34 1554.4 107.5)" fill="#d4b6d2" opacity="0.67"/>
<ellipse cx="1552.7" cy="101.8" rx="2.9" ry="2.2" transform="rotate(-5 1552.7 101.8)" fill="#d4b6d2" opacity="0.56"/>
<ellipse cx="1557.6" cy="41.4" rx="2.3" ry="2.8" transform="rotate(22 1557.6 41.4)" fill="#d4b6d2" opacity="0.72"/>
<ellipse cx="1554.7" cy="91.5" rx="3.0" ry="2.8" transform="rotate(7 1554.7 91.5)" fill="#e5cfe3" opacity="0.72"/>
<path d="M1677.0,13.0 C1674.5,16.2 1668.2,24.5 1662.0,32.0 C1655.8,39.5 1647.8,49.7 1640.0,58.0 C1632.2,66.3 1622.0,75.3 1615.0,82.0 C1608.0,88.7 1602.5,93.3 1598.0,98.0 C1593.5,102.7 1589.7,108.0 1588.0,110.0" fill="none" stroke="#c88fbf" stroke-width="2.3" opacity="1" stroke-linejoin="round" stroke-linecap="round" />
<path d="M1614.0,101.0 C1618.1,101.8 1623.3,107.9 1625.0,112.0 C1626.7,116.1 1627.7,126.7 1627.0,132.0 C1626.3,137.3 1623.2,147.2 1620.0,152.0 C1616.8,156.8 1607.7,165.5 1603.0,168.0 C1598.3,170.5 1589.4,171.8 1585.0,171.0 C1580.6,170.2 1572.5,165.9 1570.0,162.0 C1567.5,158.1 1565.3,147.6 1566.0,142.0 C1566.7,136.4 1571.3,124.8 1575.0,120.0 C1578.7,115.2 1588.8,108.5 1594.0,106.0 C1599.2,103.5 1609.9,100.2 1614.0,101.0 Z" fill="#ead5e7" stroke="#c486bb" stroke-width="2.4" opacity="1" stroke-linejoin="round" stroke-linecap="round" />
<path d="M1580.0,130.0 C1582.5,128.7 1590.8,121.2 1595.0,122.0 C1599.2,122.8 1604.2,130.3 1605.0,135.0 C1605.8,139.7 1602.8,146.5 1600.0,150.0 C1597.2,153.5 1590.0,155.0 1588.0,156.0" fill="none" stroke="#dbb6d6" stroke-width="1.2" opacity="1" stroke-linejoin="round" stroke-linecap="round" />
<path d="M1568.0,150.0 C1567.8,152.5 1566.7,160.0 1567.0,165.0 C1567.3,170.0 1568.7,175.8 1570.0,180.0 C1571.3,184.2 1574.2,188.3 1575.0,190.0" fill="none" stroke="#c486bb" stroke-width="2" opacity="1" stroke-linejoin="round" stroke-linecap="round" />
<path d="M1545.0,178.0 C1547.0,162.8 1560.5,174.2 1565.0,174.0 C1569.5,173.8 1585.0,175.4 1590.0,176.0 C1595.0,176.6 1610.0,179.2 1615.0,180.0 C1620.0,180.8 1635.9,182.8 1640.0,184.0 C1644.1,185.2 1653.2,190.4 1656.0,192.0 C1658.8,193.6 1666.4,198.2 1668.0,200.0 C1669.6,201.8 1672.6,208.4 1672.0,210.0 C1671.4,211.6 1664.2,214.8 1662.0,216.0 C1659.8,217.2 1652.0,220.0 1650.0,222.0 C1648.0,224.0 1642.4,233.0 1642.0,236.0 C1641.6,239.0 1644.0,249.0 1646.0,252.0 C1648.0,255.0 1658.1,263.7 1662.0,266.0 C1665.9,268.3 1680.7,273.4 1685.0,275.0 C1689.3,276.6 1704.5,280.5 1705.0,282.0 C1705.5,283.5 1695.5,288.4 1690.0,290.0 C1684.5,291.6 1659.0,296.2 1650.0,298.0 C1641.0,299.8 1608.0,306.0 1600.0,308.0 C1592.0,310.0 1575.5,316.2 1570.0,318.0 C1564.5,319.8 1547.5,340.0 1545.0,326.0 C1542.5,312.0 1543.0,193.2 1545.0,178.0 Z" fill="#e6bedd" stroke="none" stroke-width="1" opacity="1" stroke-linejoin="round" stroke-linecap="round" />
<ellipse cx="1557.4" cy="206.5" rx="2.0" ry="1.7" transform="rotate(-37 1557.4 206.5)" fill="#b86aa4" opacity="0.61"/>
<ellipse cx="1597.0" cy="224.2" rx="1.6" ry="1.6" transform="rotate(-40 1597.0 224.2)" fill="#b86aa4" opacity="0.73"/>
<ellipse cx="1546.5" cy="285.1" rx="2.9" ry="1.7" transform="rotate(-13 1546.5 285.1)" fill="#c27aae" opacity="0.76"/>
<ellipse cx="1550.6" cy="253.9" rx="2.7" ry="1.4" transform="rotate(-37 1550.6 253.9)" fill="#b86aa4" opacity="0.62"/>
<ellipse cx="1601.5" cy="198.8" rx="2.0" ry="1.7" transform="rotate(25 1601.5 198.8)" fill="#c27aae" opacity="0.79"/>
<ellipse cx="1592.9" cy="261.5" rx="1.6" ry="1.0" transform="rotate(-14 1592.9 261.5)" fill="#b86aa4" opacity="0.68"/>
<ellipse cx="1584.0" cy="234.9" rx="3.2" ry="1.3" transform="rotate(-39 1584.0 234.9)" fill="#c27aae" opacity="0.88"/>
<ellipse cx="1573.8" cy="198.8" rx="3.2" ry="1.7" transform="rotate(-36 1573.8 198.8)" fill="#c27aae" opacity="0.83"/>
<ellipse cx="1593.3" cy="232.5" rx="1.8" ry="1.0" transform="rotate(2 1593.3 232.5)" fill="#c27aae" opacity="0.78"/>
<ellipse cx="1597.4" cy="228.8" rx="2.3" ry="1.7" transform="rotate(2 1597.4 228.8)" fill="#c27aae" opacity="0.82"/>
<ellipse cx="1626.4" cy="208.3" rx="2.1" ry="1.6" transform="rotate(37 1626.4 208.3)" fill="#c27aae" opacity="0.89"/>
<ellipse cx="1565.6" cy="278.0" rx="2.1" ry="1.3" transform="rotate(-40 1565.6 278.0)" fill="#d59ccb" opacity="0.69"/>
<ellipse cx="1549.4" cy="318.6" rx="2.5" ry="1.8" transform="rotate(-7 1549.4 318.6)" fill="#b86aa4" opacity="0.87"/>
<ellipse cx="1581.2" cy="234.9" rx="3.2" ry="1.3" transform="rotate(33 1581.2 234.9)" fill="#b86aa4" opacity="0.71"/>
<ellipse cx="1625.4" cy="292.7" rx="1.7" ry="1.6" transform="rotate(33 1625.4 292.7)" fill="#b86aa4" opacity="0.77"/>
<ellipse cx="1605.4" cy="298.8" rx="1.6" ry="1.8" transform="rotate(-36 1605.4 298.8)" fill="#c27aae" opacity="0.91"/>
<ellipse cx="1640.7" cy="204.1" rx="2.4" ry="1.3" transform="rotate(-15 1640.7 204.1)" fill="#c27aae" opacity="0.64"/>
<ellipse cx="1581.8" cy="241.2" rx="2.3" ry="1.7" transform="rotate(28 1581.8 241.2)" fill="#c27aae" opacity="0.76"/>
<ellipse cx="1547.6" cy="184.4" rx="2.1" ry="1.6" transform="rotate(38 1547.6 184.4)" fill="#c27aae" opacity="0.78"/>
<ellipse cx="1683.4" cy="288.4" rx="1.6" ry="1.5" transform="rotate(-35 1683.4 288.4)" fill="#c27aae" opacity="0.78"/>
<ellipse cx="1596.0" cy="282.7" rx="2.4" ry="1.1" transform="rotate(-11 1596.0 282.7)" fill="#c27aae" opacity="0.82"/>
<ellipse cx="1548.5" cy="251.6" rx="2.8" ry="1.1" transform="rotate(11 1548.5 251.6)" fill="#c27aae" opacity="0.84"/>
<ellipse cx="1581.2" cy="260.3" rx="1.6" ry="1.5" transform="rotate(16 1581.2 260.3)" fill="#c27aae" opacity="0.76"/>
<ellipse cx="1650.2" cy="289.0" rx="2.9" ry="1.0" transform="rotate(25 1650.2 289.0)" fill="#b86aa4" opacity="0.94"/>
<ellipse cx="1588.1" cy="197.4" rx="2.5" ry="1.4" transform="rotate(-38 1588.1 197.4)" fill="#d59ccb" opacity="0.93"/>
<ellipse cx="1604.2" cy="292.6" rx="1.7" ry="1.8" transform="rotate(40 1604.2 292.6)" fill="#b86aa4" opacity="0.70"/>
<ellipse cx="1616.6" cy="196.7" rx="2.8" ry="1.3" transform="rotate(-40 1616.6 196.7)" fill="#c27aae" opacity="0.81"/>
<ellipse cx="1677.0" cy="278.0" rx="2.8" ry="1.2" transform="rotate(2 1677.0 278.0)" fill="#c27aae" opacity="0.71"/>
<ellipse cx="1623.4" cy="245.8" rx="1.5" ry="1.7" transform="rotate(-20 1623.4 245.8)" fill="#b86aa4" opacity="0.93"/>
<ellipse cx="1568.7" cy="226.7" rx="2.4" ry="1.7" transform="rotate(23 1568.7 226.7)" fill="#b86aa4" opacity="0.81"/>
<ellipse cx="1662.5" cy="269.7" rx="2.5" ry="1.5" transform="rotate(28 1662.5 269.7)" fill="#d59ccb" opacity="0.80"/>
<ellipse cx="1637.3" cy="216.5" rx="1.9" ry="1.7" transform="rotate(14 1637.3 216.5)" fill="#b86aa4" opacity="0.70"/>
<ellipse cx="1645.1" cy="277.6" rx="3.0" ry="1.6" transform="rotate(-39 1645.1 277.6)" fill="#c27aae" opacity="0.79"/>
<ellipse cx="1655.1" cy="192.5" rx="2.8" ry="1.7" transform="rotate(-8 1655.1 192.5)" fill="#d59ccb" opacity="0.85"/>
<ellipse cx="1644.5" cy="199.5" rx="1.7" ry="1.4" transform="rotate(-25 1644.5 199.5)" fill="#d59ccb" opacity="0.73"/>
<ellipse cx="1590.7" cy="197.0" rx="2.5" ry="1.7" transform="rotate(27 1590.7 197.0)" fill="#c27aae" opacity="0.64"/>
<ellipse cx="1662.0" cy="214.7" rx="1.7" ry="1.6" transform="rotate(-29 1662.0 214.7)" fill="#c27aae" opacity="0.72"/>
<ellipse cx="1633.8" cy="275.9" rx="2.1" ry="1.3" transform="rotate(-3 1633.8 275.9)" fill="#c27aae" opacity="0.68"/>
<ellipse cx="1634.7" cy="217.1" rx="2.8" ry="1.3" transform="rotate(-21 1634.7 217.1)" fill="#b86aa4" opacity="0.86"/>
<ellipse cx="1634.8" cy="186.8" rx="2.4" ry="1.6" transform="rotate(-33 1634.8 186.8)" fill="#b86aa4" opacity="0.87"/>
<ellipse cx="1672.8" cy="290.4" rx="3.1" ry="1.2" transform="rotate(36 1672.8 290.4)" fill="#b86aa4" opacity="0.83"/>
<ellipse cx="1566.5" cy="248.0" rx="2.7" ry="1.2" transform="rotate(-16 1566.5 248.0)" fill="#b86aa4" opacity="0.90"/>
<ellipse cx="1559.8" cy="205.7" rx="3.1" ry="1.5" transform="rotate(-12 1559.8 205.7)" fill="#b86aa4" opacity="0.62"/>
<ellipse cx="1545.9" cy="275.9" rx="1.6" ry="1.2" transform="rotate(39 1545.9 275.9)" fill="#c27aae" opacity="0.62"/>
<ellipse cx="1641.8" cy="232.7" rx="3.0" ry="1.4" transform="rotate(-23 1641.8 232.7)" fill="#b86aa4" opacity="0.73"/>
<ellipse cx="1546.9" cy="305.5" rx="3.0" ry="1.8" transform="rotate(-16 1546.9 305.5)" fill="#d59ccb" opacity="0.61"/>
<ellipse cx="1577.9" cy="289.7" rx="2.2" ry="1.5" transform="rotate(16 1577.9 289.7)" fill="#b86aa4" opacity="0.67"/>
<ellipse cx="1661.9" cy="274.1" rx="2.5" ry="1.0" transform="rotate(27 1661.9 274.1)" fill="#c27aae" opacity="0.66"/>
<ellipse cx="1551.2" cy="309.6" rx="1.8" ry="1.5" transform="rotate(-39 1551.2 309.6)" fill="#b86aa4" opacity="0.87"/>
<ellipse cx="1558.5" cy="189.5" rx="2.6" ry="1.6" transform="rotate(10 1558.5 189.5)" fill="#c27aae" opacity="0.73"/>
<ellipse cx="1583.3" cy="225.3" rx="2.3" ry="1.3" transform="rotate(22 1583.3 225.3)" fill="#d59ccb" opacity="0.70"/>
<ellipse cx="1598.6" cy="178.0" rx="2.3" ry="1.3" transform="rotate(21 1598.6 178.0)" fill="#c27aae" opacity="0.87"/>
<ellipse cx="1552.0" cy="278.9" rx="1.6" ry="1.1" transform="rotate(-3 1552.0 278.9)" fill="#b86aa4" opacity="0.70"/>
<ellipse cx="1606.8" cy="254.6" rx="1.6" ry="1.4" transform="rotate(5 1606.8 254.6)" fill="#b86aa4" opacity="0.86"/>
<ellipse cx="1573.3" cy="267.1" rx="1.9" ry="1.2" transform="rotate(-26 1573.3 267.1)" fill="#b86aa4" opacity="0.78"/>
<ellipse cx="1579.7" cy="285.6" rx="2.6" ry="1.7" transform="rotate(20 1579.7 285.6)" fill="#d59ccb" opacity="0.67"/>
<ellipse cx="1592.8" cy="309.0" rx="2.0" ry="1.5" transform="rotate(-26 1592.8 309.0)" fill="#d59ccb" opacity="0.69"/>
<ellipse cx="1675.6" cy="279.4" rx="2.4" ry="1.2" transform="rotate(-25 1675.6 279.4)" fill="#b86aa4" opacity="0.80"/>
<ellipse cx="1607.2" cy="204.3" rx="1.6" ry="1.3" transform="rotate(-16 1607.2 204.3)" fill="#d59ccb" opacity="0.78"/>
<ellipse cx="1605.8" cy="248.1" rx="2.5" ry="1.2" transform="rotate(-1 1605.8 248.1)" fill="#b86aa4" opacity="0.86"/>
<ellipse cx="1637.7" cy="192.7" rx="2.5" ry="1.7" transform="rotate(-14 1637.7 192.7)" fill="#d59ccb" opacity="0.75"/>
<ellipse cx="1559.5" cy="224.8" rx="1.6" ry="1.2" transform="rotate(2 1559.5 224.8)" fill="#d59ccb" opacity="0.84"/>
<ellipse cx="1598.8" cy="196.3" rx="2.2" ry="1.7" transform="rotate(32 1598.8 196.3)" fill="#b86aa4" opacity="0.90"/>
<ellipse cx="1569.7" cy="302.2" rx="3.1" ry="1.4" transform="rotate(22 1569.7 302.2)" fill="#d59ccb" opacity="0.82"/>
<ellipse cx="1568.1" cy="240.6" rx="2.4" ry="1.2" transform="rotate(-20 1568.1 240.6)" fill="#d59ccb" opacity="0.69"/>
<ellipse cx="1588.0" cy="271.3" rx="1.6" ry="1.6" transform="rotate(15 1588.0 271.3)" fill="#d59ccb" opacity="0.75"/>
<ellipse cx="1576.5" cy="236.9" rx="1.9" ry="1.1" transform="rotate(-26 1576.5 236.9)" fill="#b86aa4" opacity="0.62"/>
<ellipse cx="1554.5" cy="240.0" rx="2.1" ry="1.7" transform="rotate(9 1554.5 240.0)" fill="#d59ccb" opacity="0.70"/>
<ellipse cx="1616.0" cy="263.9" rx="3.1" ry="1.6" transform="rotate(19 1616.0 263.9)" fill="#d59ccb" opacity="0.95"/>
<ellipse cx="1664.6" cy="276.2" rx="3.1" ry="1.4" transform="rotate(38 1664.6 276.2)" fill="#b86aa4" opacity="0.69"/>
<path d="M1545.0,200.0 C1550.8,198.3 1570.8,202.5 1580.0,205.0 C1589.2,207.5 1598.3,212.2 1600.0,215.0 C1601.7,217.8 1596.7,221.5 1590.0,222.0 C1583.3,222.5 1567.5,219.2 1560.0,218.0 C1552.5,216.8 1547.5,218.0 1545.0,215.0 C1542.5,212.0 1539.2,201.7 1545.0,200.0 Z" fill="#f1dcee" stroke="none" stroke-width="1" opacity="0.7" stroke-linejoin="round" stroke-linecap="round" />
<ellipse cx="1667" cy="206" rx="6" ry="8" fill="#b2649f"/>
<path d="M1545.0,245.0 C1548.7,240.7 1593.0,255.4 1600.0,257.0 C1607.0,258.6 1643.3,267.5 1650.0,269.0 C1656.7,270.5 1696.3,278.9 1700.0,280.0 C1703.7,281.1 1709.3,284.1 1706.0,285.0 C1702.7,285.9 1657.1,291.8 1650.0,293.0 C1642.9,294.2 1607.0,301.1 1600.0,303.0 C1593.0,304.9 1548.7,325.9 1545.0,322.0 C1541.3,318.1 1541.3,249.3 1545.0,245.0 Z" fill="#e9d3e6" stroke="none" stroke-width="1" opacity="1" stroke-linejoin="round" stroke-linecap="round" />
<path d="M1545.0,245.0 C1548.7,244.7 1593.0,255.4 1600.0,257.0 C1607.0,258.6 1643.3,267.5 1650.0,269.0 C1656.7,270.5 1700.0,279.7 1700.0,280.0 C1700.0,280.3 1656.7,274.9 1650.0,274.0 C1643.3,273.1 1607.0,266.8 1600.0,266.0 C1593.0,265.2 1548.7,263.4 1545.0,262.0 C1541.3,260.6 1541.3,245.3 1545.0,245.0 Z" fill="#cdb6d6" stroke="none" stroke-width="1" opacity="1" stroke-linejoin="round" stroke-linecap="round" />
<path d="M1545.0,300.0 C1548.7,298.1 1593.0,293.8 1600.0,293.0 C1607.0,292.2 1643.1,288.5 1650.0,288.0 C1656.9,287.5 1704.0,284.6 1704.0,285.0 C1704.0,285.4 1656.9,292.7 1650.0,294.0 C1643.1,295.3 1607.0,302.1 1600.0,304.0 C1593.0,305.9 1548.7,322.3 1545.0,322.0 C1541.3,321.7 1541.3,301.9 1545.0,300.0 Z" fill="#cbb3d5" stroke="none" stroke-width="1" opacity="1" stroke-linejoin="round" stroke-linecap="round" />
<ellipse cx="1578.8" cy="274.7" rx="2.5" ry="1.1" transform="rotate(6 1578.8 274.7)" fill="#b06aa2" opacity="0.83"/>
<ellipse cx="1602.3" cy="258.7" rx="4.0" ry="1.0" transform="rotate(3 1602.3 258.7)" fill="#b06aa2" opacity="0.73"/>
<ellipse cx="1560.6" cy="275.2" rx="3.5" ry="1.0" transform="rotate(6 1560.6 275.2)" fill="#b06aa2" opacity="0.76"/>
<ellipse cx="1575.3" cy="292.7" rx="3.5" ry="1.2" transform="rotate(23 1575.3 292.7)" fill="#c27aae" opacity="0.88"/>
<ellipse cx="1582.9" cy="298.3" rx="3.7" ry="0.9" transform="rotate(12 1582.9 298.3)" fill="#c27aae" opacity="0.94"/>
<ellipse cx="1662.4" cy="277.2" rx="4.2" ry="1.2" transform="rotate(23 1662.4 277.2)" fill="#c27aae" opacity="0.84"/>
<ellipse cx="1583.9" cy="286.7" rx="3.5" ry="1.1" transform="rotate(21 1583.9 286.7)" fill="#c27aae" opacity="0.90"/>
<ellipse cx="1573.9" cy="258.2" rx="2.8" ry="0.9" transform="rotate(2 1573.9 258.2)" fill="#b06aa2" opacity="0.67"/>
<ellipse cx="1562.2" cy="280.3" rx="4.2" ry="1.1" transform="rotate(5 1562.2 280.3)" fill="#c27aae" opacity="0.69"/>
<ellipse cx="1596.0" cy="267.7" rx="2.2" ry="0.9" transform="rotate(13 1596.0 267.7)" fill="#b06aa2" opacity="0.70"/>
<ellipse cx="1569.1" cy="283.4" rx="2.9" ry="0.9" transform="rotate(17 1569.1 283.4)" fill="#b06aa2" opacity="0.76"/>
<ellipse cx="1597.9" cy="289.2" rx="3.1" ry="1.3" transform="rotate(11 1597.9 289.2)" fill="#b06aa2" opacity="0.89"/>
<ellipse cx="1607.4" cy="285.4" rx="4.5" ry="0.9" transform="rotate(21 1607.4 285.4)" fill="#b06aa2" opacity="0.94"/>
<ellipse cx="1559.2" cy="281.9" rx="2.1" ry="0.9" transform="rotate(19 1559.2 281.9)" fill="#b06aa2" opacity="0.94"/>
<ellipse cx="1558.8" cy="304.0" rx="2.1" ry="1.4" transform="rotate(8 1558.8 304.0)" fill="#b06aa2" opacity="0.65"/>
<ellipse cx="1562.1" cy="268.1" rx="2.7" ry="1.1" transform="rotate(2 1562.1 268.1)" fill="#b06aa2" opacity="0.61"/>
<ellipse cx="1600.5" cy="293.2" rx="3.6" ry="1.4" transform="rotate(0 1600.5 293.2)" fill="#b06aa2" opacity="0.69"/>
<ellipse cx="1547.6" cy="246.4" rx="2.7" ry="1.3" transform="rotate(19 1547.6 246.4)" fill="#c27aae" opacity="0.67"/>
<ellipse cx="1618.6" cy="292.0" rx="3.8" ry="1.0" transform="rotate(8 1618.6 292.0)" fill="#b06aa2" opacity="0.76"/>
<ellipse cx="1557.2" cy="302.6" rx="3.4" ry="0.8" transform="rotate(21 1557.2 302.6)" fill="#b06aa2" opacity="0.91"/>
<ellipse cx="1614.8" cy="282.1" rx="3.1" ry="0.9" transform="rotate(23 1614.8 282.1)" fill="#c27aae" opacity="0.60"/>
<ellipse cx="1636.6" cy="266.0" rx="3.4" ry="1.1" transform="rotate(15 1636.6 266.0)" fill="#c27aae" opacity="0.69"/>
<ellipse cx="1665.4" cy="285.1" rx="2.5" ry="1.0" transform="rotate(3 1665.4 285.1)" fill="#c27aae" opacity="0.93"/>
<ellipse cx="1558.0" cy="259.9" rx="3.6" ry="1.0" transform="rotate(18 1558.0 259.9)" fill="#c27aae" opacity="0.78"/>
<ellipse cx="1642.3" cy="282.9" rx="2.5" ry="0.9" transform="rotate(13 1642.3 282.9)" fill="#b06aa2" opacity="0.91"/>
<ellipse cx="1653.5" cy="271.2" rx="2.6" ry="1.0" transform="rotate(3 1653.5 271.2)" fill="#b06aa2" opacity="0.95"/>
<ellipse cx="1681.2" cy="282.8" rx="3.1" ry="1.3" transform="rotate(0 1681.2 282.8)" fill="#c27aae" opacity="0.70"/>
<ellipse cx="1561.1" cy="268.6" rx="2.7" ry="1.4" transform="rotate(24 1561.1 268.6)" fill="#b06aa2" opacity="0.66"/>
<ellipse cx="1641.6" cy="271.6" rx="3.2" ry="0.8" transform="rotate(17 1641.6 271.6)" fill="#b06aa2" opacity="0.92"/>
<ellipse cx="1648.8" cy="283.8" rx="2.8" ry="0.9" transform="rotate(22 1648.8 283.8)" fill="#b06aa2" opacity="0.87"/>
<ellipse cx="1667.6" cy="329.9" rx="3.1" ry="1.6" transform="rotate(3 1667.6 329.9)" fill="#e8c6e2" opacity="0.85"/>
<ellipse cx="1658.4" cy="350.8" rx="3.3" ry="2.4" transform="rotate(2 1658.4 350.8)" fill="#c98abf" opacity="0.89"/>
<ellipse cx="1640.7" cy="348.6" rx="2.8" ry="1.6" transform="rotate(32 1640.7 348.6)" fill="#c98abf" opacity="0.71"/>
<ellipse cx="1704.8" cy="343.6" rx="2.9" ry="2.3" transform="rotate(4 1704.8 343.6)" fill="#c98abf" opacity="0.87"/>
<ellipse cx="1691.5" cy="299.0" rx="1.6" ry="2.5" transform="rotate(39 1691.5 299.0)" fill="#c98abf" opacity="0.90"/>
<ellipse cx="1685.5" cy="338.2" rx="2.5" ry="1.6" transform="rotate(-16 1685.5 338.2)" fill="#c98abf" opacity="0.71"/>
<ellipse cx="1732.6" cy="336.8" rx="2.6" ry="1.4" transform="rotate(25 1732.6 336.8)" fill="#d9a3cf" opacity="0.54"/>
<ellipse cx="1619.9" cy="344.0" rx="2.9" ry="1.7" transform="rotate(-11 1619.9 344.0)" fill="#e8c6e2" opacity="0.69"/>
<ellipse cx="1660.9" cy="339.1" rx="2.1" ry="1.3" transform="rotate(21 1660.9 339.1)" fill="#c98abf" opacity="0.65"/>
<ellipse cx="1622.7" cy="332.1" rx="2.0" ry="2.4" transform="rotate(-15 1622.7 332.1)" fill="#e8c6e2" opacity="0.68"/>
<ellipse cx="1736.1" cy="334.1" rx="1.8" ry="1.8" transform="rotate(15 1736.1 334.1)" fill="#e8c6e2" opacity="0.69"/>
<ellipse cx="1735.4" cy="347.8" rx="2.1" ry="1.6" transform="rotate(-2 1735.4 347.8)" fill="#e8c6e2" opacity="0.66"/>
<ellipse cx="1678.8" cy="337.5" rx="2.3" ry="2.2" transform="rotate(-14 1678.8 337.5)" fill="#c98abf" opacity="0.82"/>
<ellipse cx="1698.0" cy="329.3" rx="2.1" ry="2.0" transform="rotate(27 1698.0 329.3)" fill="#e8c6e2" opacity="0.89"/>
<ellipse cx="1638.3" cy="340.6" rx="3.4" ry="2.3" transform="rotate(-37 1638.3 340.6)" fill="#e8c6e2" opacity="0.76"/>
<ellipse cx="1705.6" cy="345.8" rx="1.5" ry="1.8" transform="rotate(-34 1705.6 345.8)" fill="#c98abf" opacity="0.84"/>
<ellipse cx="1570.2" cy="343.7" rx="1.9" ry="2.0" transform="rotate(22 1570.2 343.7)" fill="#d9a3cf" opacity="0.87"/>
<ellipse cx="1668.3" cy="351.7" rx="2.9" ry="1.2" transform="rotate(33 1668.3 351.7)" fill="#d9a3cf" opacity="0.67"/>
<ellipse cx="1720.0" cy="300.3" rx="1.6" ry="1.2" transform="rotate(-22 1720.0 300.3)" fill="#d9a3cf" opacity="0.82"/>
<ellipse cx="1716.9" cy="336.4" rx="3.2" ry="2.5" transform="rotate(-39 1716.9 336.4)" fill="#e8c6e2" opacity="0.83"/>
<ellipse cx="1546.4" cy="343.7" rx="2.7" ry="1.6" transform="rotate(-32 1546.4 343.7)" fill="#d9a3cf" opacity="0.79"/>
<ellipse cx="1628.2" cy="337.1" rx="2.0" ry="2.3" transform="rotate(-30 1628.2 337.1)" fill="#e8c6e2" opacity="0.58"/>
<ellipse cx="1573.0" cy="340.0" rx="2.6" ry="1.8" transform="rotate(-39 1573.0 340.0)" fill="#e8c6e2" opacity="0.80"/>
<ellipse cx="1585.0" cy="336.2" rx="2.0" ry="2.0" transform="rotate(8 1585.0 336.2)" fill="#d9a3cf" opacity="0.70"/>
<ellipse cx="1668.1" cy="349.5" rx="2.0" ry="2.2" transform="rotate(38 1668.1 349.5)" fill="#c98abf" opacity="0.56"/>
<ellipse cx="1753.7" cy="330.7" rx="3.4" ry="1.6" transform="rotate(-21 1753.7 330.7)" fill="#c98abf" opacity="0.52"/>
<ellipse cx="1715.9" cy="323.0" rx="3.1" ry="1.7" transform="rotate(-0 1715.9 323.0)" fill="#d9a3cf" opacity="0.84"/>
<ellipse cx="1712.6" cy="344.4" rx="3.1" ry="2.3" transform="rotate(18 1712.6 344.4)" fill="#e8c6e2" opacity="0.61"/>
<ellipse cx="1740.1" cy="329.6" rx="2.0" ry="2.1" transform="rotate(-4 1740.1 329.6)" fill="#c98abf" opacity="0.82"/>
<ellipse cx="1710.2" cy="301.5" rx="1.9" ry="1.2" transform="rotate(-14 1710.2 301.5)" fill="#d9a3cf" opacity="0.57"/>
<ellipse cx="1740.9" cy="342.1" rx="1.8" ry="1.5" transform="rotate(-7 1740.9 342.1)" fill="#d9a3cf" opacity="0.88"/>
<ellipse cx="1576.6" cy="347.0" rx="2.5" ry="2.2" transform="rotate(32 1576.6 347.0)" fill="#c98abf" opacity="0.90"/>
<ellipse cx="1659.2" cy="315.0" rx="2.7" ry="2.2" transform="rotate(1 1659.2 315.0)" fill="#c98abf" opacity="0.70"/>
<ellipse cx="1611.8" cy="324.4" rx="2.6" ry="1.6" transform="rotate(14 1611.8 324.4)" fill="#c98abf" opacity="0.87"/>
<ellipse cx="1581.3" cy="321.0" rx="3.4" ry="1.2" transform="rotate(24 1581.3 321.0)" fill="#c98abf" opacity="0.85"/>
<ellipse cx="1586.9" cy="319.0" rx="3.1" ry="1.5" transform="rotate(0 1586.9 319.0)" fill="#e8c6e2" opacity="0.67"/>
<ellipse cx="1623.8" cy="333.5" rx="1.9" ry="1.8" transform="rotate(-18 1623.8 333.5)" fill="#d9a3cf" opacity="0.72"/>
<ellipse cx="1722.1" cy="331.0" rx="2.7" ry="2.3" transform="rotate(-19 1722.1 331.0)" fill="#c98abf" opacity="0.83"/>
<ellipse cx="1551.2" cy="337.5" rx="1.9" ry="1.9" transform="rotate(17 1551.2 337.5)" fill="#d9a3cf" opacity="0.51"/>
<ellipse cx="1613.1" cy="346.2" rx="2.4" ry="1.9" transform="rotate(-12 1613.1 346.2)" fill="#c98abf" opacity="0.82"/>
<path d="M1740.0,270.0 C1739.5,268.7 1759.5,266.2 1765.0,266.0 C1770.5,265.8 1789.3,267.6 1795.0,268.0 C1800.7,268.4 1821.5,268.8 1822.0,270.0 C1822.5,271.2 1805.2,279.1 1800.0,280.0 C1794.8,280.9 1776.0,280.0 1770.0,279.0 C1764.0,278.0 1740.5,271.3 1740.0,270.0 Z" fill="#e8b4da" stroke="none" stroke-width="1" opacity="1" stroke-linejoin="round" stroke-linecap="round" />
<path d="M1690.0,276.0 C1692.7,274.5 1699.8,266.8 1706.0,267.0 C1712.2,267.2 1720.8,276.5 1727.0,277.0 C1733.2,277.5 1736.7,271.8 1743.0,270.0 C1749.3,268.2 1757.2,265.0 1765.0,266.0 C1772.8,267.0 1781.2,275.0 1790.0,276.0 C1798.8,277.0 1813.3,272.7 1818.0,272.0" fill="none" stroke="#d594c6" stroke-width="3" opacity="1" stroke-linejoin="round" stroke-linecap="round" />
<path d="M1706.0,267.0 C1707.7,266.2 1712.5,262.2 1716.0,262.0 C1719.5,261.8 1725.2,263.5 1727.0,266.0 C1728.8,268.5 1727.0,275.2 1727.0,277.0" fill="none" stroke="#d29acb" stroke-width="1.5" opacity="1" stroke-linejoin="round" stroke-linecap="round" />
<path d="M1760.0,266.0 C1765.0,265.5 1780.0,264.8 1790.0,263.0 C1800.0,261.2 1810.8,258.8 1820.0,255.0 C1829.2,251.2 1839.2,245.0 1845.0,240.0 C1850.8,235.0 1853.3,227.5 1855.0,225.0" fill="none" stroke="#dcaed4" stroke-width="1.5" opacity="1" stroke-linejoin="round" stroke-linecap="round" />
<circle cx="1693" cy="273" r="1.8" fill="#a85895"/>
<circle cx="1712" cy="268" r="1.8" fill="#a85895"/>
<circle cx="1758" cy="266" r="1.6" fill="#a85895"/>
<circle cx="1790" cy="270" r="1.8" fill="#a85895"/>
<circle cx="1800" cy="268" r="1.6" fill="#a85895"/>
<circle cx="1812" cy="265" r="1.6" fill="#a85895"/>
<circle cx="1780" cy="268" r="1.5" fill="#a85895"/>
<ellipse cx="1788.8" cy="223.9" rx="1.6" ry="1.3" transform="rotate(36 1788.8 223.9)" fill="#e6cfe3" opacity="0.75"/>
<ellipse cx="1775.1" cy="203.0" rx="0.9" ry="1.1" transform="rotate(-12 1775.1 203.0)" fill="#eddbea" opacity="0.64"/>
<ellipse cx="1720.2" cy="191.6" rx="1.3" ry="1.3" transform="rotate(4 1720.2 191.6)" fill="#e6cfe3" opacity="0.70"/>
<ellipse cx="1829.0" cy="240.0" rx="1.7" ry="1.2" transform="rotate(-15 1829.0 240.0)" fill="#e6cfe3" opacity="0.72"/>
<ellipse cx="1746.8" cy="220.1" rx="1.4" ry="1.1" transform="rotate(-21 1746.8 220.1)" fill="#e6cfe3" opacity="0.82"/>
<ellipse cx="1808.9" cy="188.4" rx="1.5" ry="0.8" transform="rotate(-31 1808.9 188.4)" fill="#e6cfe3" opacity="0.71"/>
<ellipse cx="1756.8" cy="248.0" rx="1.6" ry="1.0" transform="rotate(33 1756.8 248.0)" fill="#e6cfe3" opacity="0.78"/>
<ellipse cx="1787.6" cy="242.1" rx="1.3" ry="1.3" transform="rotate(-18 1787.6 242.1)" fill="#e6cfe3" opacity="0.65"/>
<ellipse cx="1750.4" cy="202.2" rx="0.9" ry="1.0" transform="rotate(-16 1750.4 202.2)" fill="#eddbea" opacity="0.83"/>
<ellipse cx="1841.3" cy="210.6" rx="1.6" ry="1.3" transform="rotate(9 1841.3 210.6)" fill="#e6cfe3" opacity="0.99"/>
<ellipse cx="1833.2" cy="184.9" rx="1.5" ry="1.0" transform="rotate(-25 1833.2 184.9)" fill="#e6cfe3" opacity="0.67"/>
<ellipse cx="1774.0" cy="216.1" rx="1.5" ry="0.8" transform="rotate(23 1774.0 216.1)" fill="#e6cfe3" opacity="0.80"/>
<ellipse cx="1740.9" cy="188.9" rx="1.1" ry="0.9" transform="rotate(-20 1740.9 188.9)" fill="#e6cfe3" opacity="0.91"/>
<ellipse cx="1848.1" cy="207.6" rx="1.6" ry="1.4" transform="rotate(-14 1848.1 207.6)" fill="#eddbea" opacity="0.64"/>
<ellipse cx="1742.4" cy="189.7" rx="1.5" ry="1.1" transform="rotate(26 1742.4 189.7)" fill="#e6cfe3" opacity="0.61"/>
<ellipse cx="1801.0" cy="227.2" rx="1.0" ry="0.8" transform="rotate(-16 1801.0 227.2)" fill="#e6cfe3" opacity="0.98"/>
<ellipse cx="1779.0" cy="196.3" rx="1.7" ry="1.4" transform="rotate(-19 1779.0 196.3)" fill="#e6cfe3" opacity="0.78"/>
<ellipse cx="1792.1" cy="236.4" rx="1.5" ry="0.9" transform="rotate(-18 1792.1 236.4)" fill="#e6cfe3" opacity="0.87"/>
<ellipse cx="1834.4" cy="238.2" rx="1.3" ry="1.3" transform="rotate(34 1834.4 238.2)" fill="#e6cfe3" opacity="0.70"/>
<ellipse cx="1766.2" cy="188.1" rx="1.1" ry="1.3" transform="rotate(39 1766.2 188.1)" fill="#e6cfe3" opacity="0.90"/>
<ellipse cx="1765.9" cy="227.7" rx="1.1" ry="1.4" transform="rotate(-37 1765.9 227.7)" fill="#e6cfe3" opacity="0.80"/>
<ellipse cx="1728.2" cy="187.5" rx="1.7" ry="1.2" transform="rotate(5 1728.2 187.5)" fill="#eddbea" opacity="0.98"/>
<ellipse cx="1830.1" cy="212.6" rx="1.4" ry="0.9" transform="rotate(11 1830.1 212.6)" fill="#e6cfe3" opacity="0.76"/>
<ellipse cx="1803.4" cy="244.4" rx="1.1" ry="0.9" transform="rotate(2 1803.4 244.4)" fill="#eddbea" opacity="1.00"/>
<ellipse cx="1807.8" cy="210.5" rx="1.6" ry="1.0" transform="rotate(-10 1807.8 210.5)" fill="#eddbea" opacity="0.91"/>
<path d="M1858.0,13.0 C1848.9,14.8 1870.0,30.2 1872.0,35.0 C1874.0,39.8 1880.6,63.8 1882.0,70.0 C1883.4,76.2 1888.3,103.3 1889.0,110.0 C1889.7,116.7 1890.4,143.5 1890.0,150.0 C1889.6,156.5 1885.4,182.2 1884.0,188.0 C1882.6,193.8 1874.8,215.4 1873.0,220.0 C1871.2,224.6 1864.2,239.6 1862.0,243.0 C1859.8,246.4 1849.2,258.6 1846.0,261.0 C1842.8,263.4 1825.2,269.4 1824.0,272.0 C1822.8,274.6 1830.7,288.0 1832.0,292.0 C1833.3,296.0 1838.8,314.9 1840.0,320.0 C1841.2,325.1 1834.2,350.2 1846.0,353.0 C1857.8,355.8 1969.8,381.3 1981.0,353.0 C1992.2,324.7 1991.2,41.3 1981.0,13.0 C1970.8,-15.3 1867.1,11.2 1858.0,13.0 Z" fill="#efd8ea" stroke="none" stroke-width="1" opacity="1" stroke-linejoin="round" stroke-linecap="round" />
<ellipse cx="1924.4" cy="158.9" rx="4.2" ry="1.1" transform="rotate(73 1924.4 158.9)" fill="#fbf1f8" opacity="0.81"/>
<ellipse cx="1938.1" cy="173.8" rx="4.9" ry="1.6" transform="rotate(60 1938.1 173.8)" fill="#f8eaf5" opacity="0.98"/>
<ellipse cx="1900.7" cy="161.5" rx="2.7" ry="1.4" transform="rotate(60 1900.7 161.5)" fill="#f8eaf5" opacity="0.74"/>
<ellipse cx="1895.8" cy="52.9" rx="3.2" ry="1.7" transform="rotate(68 1895.8 52.9)" fill="#fbf1f8" opacity="0.84"/>
<ellipse cx="1892.1" cy="247.4" rx="2.5" ry="1.4" transform="rotate(72 1892.1 247.4)" fill="#f8eaf5" opacity="0.86"/>
<ellipse cx="1871.8" cy="350.3" rx="2.4" ry="1.8" transform="rotate(78 1871.8 350.3)" fill="#f8eaf5" opacity="0.94"/>
<ellipse cx="1906.5" cy="314.3" rx="3.7" ry="1.3" transform="rotate(61 1906.5 314.3)" fill="#f8eaf5" opacity="0.77"/>
<ellipse cx="1893.3" cy="236.6" rx="2.5" ry="1.6" transform="rotate(61 1893.3 236.6)" fill="#fbf1f8" opacity="0.94"/>
<ellipse cx="1942.1" cy="212.6" rx="4.2" ry="1.3" transform="rotate(64 1942.1 212.6)" fill="#f8eaf5" opacity="0.80"/>
<ellipse cx="1939.1" cy="275.7" rx="3.4" ry="1.5" transform="rotate(61 1939.1 275.7)" fill="#f8eaf5" opacity="0.78"/>
<ellipse cx="1935.4" cy="141.3" rx="2.3" ry="1.6" transform="rotate(69 1935.4 141.3)" fill="#f8eaf5" opacity="0.86"/>
<ellipse cx="1884.4" cy="249.7" rx="2.0" ry="1.4" transform="rotate(69 1884.4 249.7)" fill="#fbf1f8" opacity="0.97"/>
<ellipse cx="1912.9" cy="49.6" rx="4.1" ry="1.6" transform="rotate(72 1912.9 49.6)" fill="#f8eaf5" opacity="0.71"/>
<ellipse cx="1967.1" cy="84.8" rx="2.9" ry="2.0" transform="rotate(68 1967.1 84.8)" fill="#f8eaf5" opacity="0.81"/>
<ellipse cx="1898.3" cy="90.9" rx="3.9" ry="1.2" transform="rotate(62 1898.3 90.9)" fill="#fbf1f8" opacity="0.78"/>
<ellipse cx="1979.8" cy="211.2" rx="2.8" ry="1.9" transform="rotate(59 1979.8 211.2)" fill="#f8eaf5" opacity="0.90"/>
<ellipse cx="1968.7" cy="185.3" rx="3.0" ry="1.4" transform="rotate(81 1968.7 185.3)" fill="#fbf1f8" opacity="0.89"/>
<ellipse cx="1971.6" cy="272.1" rx="3.3" ry="1.2" transform="rotate(61 1971.6 272.1)" fill="#fbf1f8" opacity="0.86"/>
<ellipse cx="1980.9" cy="226.3" rx="2.8" ry="1.3" transform="rotate(80 1980.9 226.3)" fill="#fbf1f8" opacity="0.91"/>
<ellipse cx="1951.1" cy="305.8" rx="4.7" ry="1.3" transform="rotate(71 1951.1 305.8)" fill="#fbf1f8" opacity="0.87"/>
<ellipse cx="1903.5" cy="102.5" rx="5.0" ry="1.8" transform="rotate(76 1903.5 102.5)" fill="#f8eaf5" opacity="0.85"/>
<ellipse cx="1869.5" cy="24.2" rx="4.0" ry="1.8" transform="rotate(74 1869.5 24.2)" fill="#fbf1f8" opacity="0.97"/>
<ellipse cx="1931.6" cy="317.5" rx="3.2" ry="1.2" transform="rotate(80 1931.6 317.5)" fill="#f8eaf5" opacity="0.75"/>
<ellipse cx="1925.8" cy="335.8" rx="3.8" ry="1.8" transform="rotate(79 1925.8 335.8)" fill="#f8eaf5" opacity="0.79"/>
<ellipse cx="1974.1" cy="196.1" rx="4.1" ry="1.0" transform="rotate(64 1974.1 196.1)" fill="#fbf1f8" opacity="0.85"/>
<ellipse cx="1941.9" cy="191.3" rx="2.0" ry="1.3" transform="rotate(74 1941.9 191.3)" fill="#f8eaf5" opacity="0.72"/>
<ellipse cx="1891.1" cy="63.3" rx="3.3" ry="1.8" transform="rotate(62 1891.1 63.3)" fill="#f8eaf5" opacity="0.76"/>
<ellipse cx="1916.8" cy="246.9" rx="5.0" ry="2.0" transform="rotate(82 1916.8 246.9)" fill="#f8eaf5" opacity="0.72"/>
<ellipse cx="1877.8" cy="349.5" rx="4.6" ry="1.2" transform="rotate(64 1877.8 349.5)" fill="#fbf1f8" opacity="0.86"/>
<ellipse cx="1967.6" cy="321.4" rx="3.0" ry="2.0" transform="rotate(78 1967.6 321.4)" fill="#fbf1f8" opacity="0.94"/>
<ellipse cx="1875.1" cy="227.8" rx="2.1" ry="1.6" transform="rotate(77 1875.1 227.8)" fill="#f8eaf5" opacity="0.91"/>
<ellipse cx="1943.2" cy="194.7" rx="4.7" ry="1.4" transform="rotate(71 1943.2 194.7)" fill="#fbf1f8" opacity="0.71"/>
<ellipse cx="1956.2" cy="28.0" rx="4.5" ry="1.8" transform="rotate(78 1956.2 28.0)" fill="#f8eaf5" opacity="0.84"/>
<ellipse cx="1861.4" cy="298.9" rx="3.4" ry="2.0" transform="rotate(67 1861.4 298.9)" fill="#f8eaf5" opacity="0.83"/>
<ellipse cx="1923.8" cy="71.0" rx="4.4" ry="1.8" transform="rotate(59 1923.8 71.0)" fill="#f8eaf5" opacity="0.98"/>
<ellipse cx="1932.3" cy="18.0" rx="5.0" ry="1.6" transform="rotate(80 1932.3 18.0)" fill="#fbf1f8" opacity="0.83"/>
<ellipse cx="1951.6" cy="47.5" rx="4.5" ry="1.8" transform="rotate(68 1951.6 47.5)" fill="#fbf1f8" opacity="0.77"/>
<ellipse cx="1913.0" cy="275.5" rx="4.1" ry="1.2" transform="rotate(81 1913.0 275.5)" fill="#f8eaf5" opacity="0.93"/>
<ellipse cx="1904.0" cy="190.3" rx="2.1" ry="1.3" transform="rotate(59 1904.0 190.3)" fill="#fbf1f8" opacity="0.83"/>
<ellipse cx="1963.4" cy="56.9" rx="2.5" ry="1.9" transform="rotate(72 1963.4 56.9)" fill="#fbf1f8" opacity="0.81"/>
<ellipse cx="1977.3" cy="240.6" rx="4.9" ry="1.5" transform="rotate(59 1977.3 240.6)" fill="#fbf1f8" opacity="0.88"/>
<ellipse cx="1950.7" cy="303.7" rx="2.9" ry="1.0" transform="rotate(60 1950.7 303.7)" fill="#f8eaf5" opacity="0.90"/>
<ellipse cx="1886.0" cy="68.2" rx="4.2" ry="1.6" transform="rotate(79 1886.0 68.2)" fill="#fbf1f8" opacity="0.99"/>
<ellipse cx="1881.9" cy="308.5" rx="3.9" ry="1.9" transform="rotate(71 1881.9 308.5)" fill="#f8eaf5" opacity="0.76"/>
<ellipse cx="1967.7" cy="194.0" rx="4.0" ry="1.2" transform="rotate(64 1967.7 194.0)" fill="#f8eaf5" opacity="0.85"/>
<ellipse cx="1881.4" cy="37.0" rx="3.5" ry="1.8" transform="rotate(68 1881.4 37.0)" fill="#f8eaf5" opacity="0.95"/>
<ellipse cx="1966.9" cy="28.4" rx="2.0" ry="2.0" transform="rotate(77 1966.9 28.4)" fill="#f8eaf5" opacity="0.93"/>
<ellipse cx="1895.6" cy="343.8" rx="4.0" ry="1.5" transform="rotate(76 1895.6 343.8)" fill="#fbf1f8" opacity="0.75"/>
<ellipse cx="1969.0" cy="161.8" rx="4.6" ry="1.8" transform="rotate(68 1969.0 161.8)" fill="#f8eaf5" opacity="0.95"/>
<ellipse cx="1905.6" cy="186.7" rx="4.5" ry="1.2" transform="rotate(79 1905.6 186.7)" fill="#fbf1f8" opacity="0.71"/>
<ellipse cx="1896.0" cy="287.1" rx="3.3" ry="1.1" transform="rotate(68 1896.0 287.1)" fill="#fbf1f8" opacity="0.86"/>
<ellipse cx="1919.9" cy="229.6" rx="2.5" ry="1.0" transform="rotate(78 1919.9 229.6)" fill="#f8eaf5" opacity="0.95"/>
<ellipse cx="1961.1" cy="249.4" rx="3.2" ry="1.5" transform="rotate(80 1961.1 249.4)" fill="#fbf1f8" opacity="0.94"/>
<ellipse cx="1924.0" cy="97.2" rx="3.5" ry="1.7" transform="rotate(76 1924.0 97.2)" fill="#f8eaf5" opacity="0.79"/>
<ellipse cx="1971.0" cy="318.7" rx="4.3" ry="1.3" transform="rotate(71 1971.0 318.7)" fill="#f8eaf5" opacity="0.83"/>
<ellipse cx="1918.7" cy="202.0" rx="3.4" ry="1.5" transform="rotate(64 1918.7 202.0)" fill="#f8eaf5" opacity="0.78"/>
<ellipse cx="1872.0" cy="349.2" rx="4.1" ry="1.9" transform="rotate(70 1872.0 349.2)" fill="#fbf1f8" opacity="0.72"/>
<ellipse cx="1907.2" cy="311.8" rx="4.6" ry="1.4" transform="rotate(67 1907.2 311.8)" fill="#f8eaf5" opacity="0.82"/>
<ellipse cx="1945.6" cy="137.9" rx="4.5" ry="1.0" transform="rotate(81 1945.6 137.9)" fill="#f8eaf5" opacity="0.95"/>
<ellipse cx="1946.4" cy="269.8" rx="4.6" ry="1.4" transform="rotate(72 1946.4 269.8)" fill="#fbf1f8" opacity="0.92"/>
<ellipse cx="1960.3" cy="25.1" rx="2.2" ry="1.0" transform="rotate(59 1960.3 25.1)" fill="#fbf1f8" opacity="0.90"/>
<ellipse cx="1971.4" cy="179.0" rx="4.7" ry="1.2" transform="rotate(76 1971.4 179.0)" fill="#fbf1f8" opacity="0.97"/>
<ellipse cx="1919.2" cy="230.6" rx="2.6" ry="1.6" transform="rotate(59 1919.2 230.6)" fill="#fbf1f8" opacity="0.81"/>
<ellipse cx="1967.3" cy="170.9" rx="2.6" ry="1.1" transform="rotate(59 1967.3 170.9)" fill="#fbf1f8" opacity="0.79"/>
<ellipse cx="1882.1" cy="56.9" rx="3.2" ry="1.2" transform="rotate(67 1882.1 56.9)" fill="#f8eaf5" opacity="0.96"/>
<ellipse cx="1909.3" cy="184.0" rx="3.7" ry="1.7" transform="rotate(61 1909.3 184.0)" fill="#f8eaf5" opacity="0.73"/>
<ellipse cx="1871.5" cy="286.9" rx="4.1" ry="1.0" transform="rotate(82 1871.5 286.9)" fill="#f8eaf5" opacity="0.80"/>
<ellipse cx="1873.6" cy="341.4" rx="2.7" ry="1.7" transform="rotate(66 1873.6 341.4)" fill="#fbf1f8" opacity="0.89"/>
<ellipse cx="1885.5" cy="65.3" rx="3.0" ry="1.4" transform="rotate(63 1885.5 65.3)" fill="#f8eaf5" opacity="1.00"/>
<ellipse cx="1928.6" cy="276.6" rx="4.9" ry="1.9" transform="rotate(60 1928.6 276.6)" fill="#f8eaf5" opacity="0.96"/>
<ellipse cx="1904.2" cy="17.2" rx="3.1" ry="1.5" transform="rotate(62 1904.2 17.2)" fill="#fbf1f8" opacity="0.79"/>
<ellipse cx="1966.6" cy="133.8" rx="3.1" ry="1.7" transform="rotate(62 1966.6 133.8)" fill="#fbf1f8" opacity="0.92"/>
<ellipse cx="1953.8" cy="295.4" rx="4.4" ry="1.3" transform="rotate(70 1953.8 295.4)" fill="#f8eaf5" opacity="0.78"/>
<ellipse cx="1860.9" cy="337.1" rx="2.4" ry="1.8" transform="rotate(75 1860.9 337.1)" fill="#fbf1f8" opacity="0.87"/>
<ellipse cx="1945.9" cy="46.4" rx="4.3" ry="1.1" transform="rotate(61 1945.9 46.4)" fill="#f8eaf5" opacity="0.98"/>
<ellipse cx="1854.9" cy="307.9" rx="3.1" ry="1.8" transform="rotate(69 1854.9 307.9)" fill="#f8eaf5" opacity="0.88"/>
<ellipse cx="1890.2" cy="61.6" rx="4.8" ry="1.9" transform="rotate(74 1890.2 61.6)" fill="#f8eaf5" opacity="0.78"/>
<ellipse cx="1870.4" cy="324.8" rx="4.5" ry="1.4" transform="rotate(59 1870.4 324.8)" fill="#fbf1f8" opacity="0.82"/>
<ellipse cx="1871.7" cy="297.7" rx="4.6" ry="1.7" transform="rotate(61 1871.7 297.7)" fill="#fbf1f8" opacity="0.72"/>
<ellipse cx="1921.6" cy="317.7" rx="3.5" ry="1.6" transform="rotate(75 1921.6 317.7)" fill="#f8eaf5" opacity="0.81"/>
<ellipse cx="1878.0" cy="305.7" rx="4.2" ry="1.8" transform="rotate(69 1878.0 305.7)" fill="#fbf1f8" opacity="0.72"/>
<ellipse cx="1953.0" cy="302.6" rx="3.4" ry="1.4" transform="rotate(69 1953.0 302.6)" fill="#fbf1f8" opacity="0.75"/>
<ellipse cx="1917.4" cy="55.9" rx="3.7" ry="1.3" transform="rotate(75 1917.4 55.9)" fill="#fbf1f8" opacity="0.71"/>
<ellipse cx="1888.8" cy="91.9" rx="4.2" ry="1.5" transform="rotate(63 1888.8 91.9)" fill="#fbf1f8" opacity="0.87"/>
<ellipse cx="1899.1" cy="133.5" rx="2.9" ry="1.7" transform="rotate(73 1899.1 133.5)" fill="#f8eaf5" opacity="0.84"/>
<ellipse cx="1837.0" cy="294.2" rx="4.9" ry="1.7" transform="rotate(69 1837.0 294.2)" fill="#fbf1f8" opacity="0.93"/>
<ellipse cx="1968.2" cy="134.9" rx="2.8" ry="1.4" transform="rotate(64 1968.2 134.9)" fill="#fbf1f8" opacity="0.81"/>
<ellipse cx="1961.0" cy="222.1" rx="3.0" ry="1.9" transform="rotate(70 1961.0 222.1)" fill="#f8eaf5" opacity="0.80"/>
<ellipse cx="1888.6" cy="221.6" rx="3.6" ry="1.5" transform="rotate(64 1888.6 221.6)" fill="#f8eaf5" opacity="0.81"/>
<ellipse cx="1920.0" cy="327.6" rx="3.1" ry="1.1" transform="rotate(61 1920.0 327.6)" fill="#f8eaf5" opacity="0.96"/>
<ellipse cx="1977.1" cy="270.4" rx="5.0" ry="1.9" transform="rotate(62 1977.1 270.4)" fill="#fbf1f8" opacity="0.76"/>
<ellipse cx="1953.0" cy="97.2" rx="4.0" ry="1.9" transform="rotate(69 1953.0 97.2)" fill="#f8eaf5" opacity="1.00"/>
<ellipse cx="1946.0" cy="182.0" rx="3.1" ry="1.5" transform="rotate(65 1946.0 182.0)" fill="#fbf1f8" opacity="0.82"/>
<ellipse cx="1942.5" cy="255.2" rx="4.2" ry="1.6" transform="rotate(59 1942.5 255.2)" fill="#f8eaf5" opacity="0.84"/>
<ellipse cx="1899.1" cy="204.1" rx="2.9" ry="1.5" transform="rotate(66 1899.1 204.1)" fill="#f8eaf5" opacity="0.98"/>
<ellipse cx="1957.2" cy="273.9" rx="4.9" ry="1.9" transform="rotate(60 1957.2 273.9)" fill="#f8eaf5" opacity="0.83"/>
<ellipse cx="1896.5" cy="53.2" rx="3.8" ry="1.0" transform="rotate(62 1896.5 53.2)" fill="#f8eaf5" opacity="0.86"/>
<ellipse cx="1896.7" cy="156.8" rx="2.7" ry="1.6" transform="rotate(79 1896.7 156.8)" fill="#fbf1f8" opacity="0.70"/>
<ellipse cx="1967.6" cy="110.9" rx="2.8" ry="1.5" transform="rotate(70 1967.6 110.9)" fill="#f8eaf5" opacity="0.70"/>
<ellipse cx="1924.3" cy="341.9" rx="4.2" ry="1.6" transform="rotate(75 1924.3 341.9)" fill="#fbf1f8" opacity="0.70"/>
<ellipse cx="1940.0" cy="287.0" rx="2.9" ry="1.3" transform="rotate(82 1940.0 287.0)" fill="#fbf1f8" opacity="0.89"/>
<ellipse cx="1876.8" cy="47.4" rx="3.4" ry="1.8" transform="rotate(62 1876.8 47.4)" fill="#fbf1f8" opacity="0.79"/>
<ellipse cx="1934.4" cy="138.6" rx="4.7" ry="1.1" transform="rotate(69 1934.4 138.6)" fill="#fbf1f8" opacity="0.83"/>
<ellipse cx="1937.1" cy="349.7" rx="4.6" ry="1.7" transform="rotate(79 1937.1 349.7)" fill="#fbf1f8" opacity="0.79"/>
<ellipse cx="1881.5" cy="262.5" rx="4.9" ry="2.0" transform="rotate(63 1881.5 262.5)" fill="#fbf1f8" opacity="0.99"/>
<ellipse cx="1870.3" cy="288.9" rx="2.3" ry="2.0" transform="rotate(76 1870.3 288.9)" fill="#f8eaf5" opacity="0.79"/>
<ellipse cx="1937.4" cy="206.5" rx="3.9" ry="1.6" transform="rotate(67 1937.4 206.5)" fill="#fbf1f8" opacity="0.78"/>
<ellipse cx="1914.9" cy="239.5" rx="3.3" ry="1.3" transform="rotate(80 1914.9 239.5)" fill="#f8eaf5" opacity="0.80"/>
<ellipse cx="1958.9" cy="207.4" rx="5.0" ry="1.6" transform="rotate(76 1958.9 207.4)" fill="#fbf1f8" opacity="0.75"/>
<ellipse cx="1959.0" cy="60.3" rx="4.3" ry="1.9" transform="rotate(80 1959.0 60.3)" fill="#f8eaf5" opacity="0.92"/>
<ellipse cx="1889.2" cy="331.9" rx="5.0" ry="1.5" transform="rotate(66 1889.2 331.9)" fill="#fbf1f8" opacity="0.72"/>
<ellipse cx="1955.0" cy="215.4" rx="4.5" ry="1.3" transform="rotate(77 1955.0 215.4)" fill="#f8eaf5" opacity="0.91"/>
<ellipse cx="1881.9" cy="17.1" rx="4.1" ry="1.9" transform="rotate(69 1881.9 17.1)" fill="#fbf1f8" opacity="0.97"/>
<ellipse cx="1918.3" cy="234.2" rx="2.7" ry="1.4" transform="rotate(75 1918.3 234.2)" fill="#f8eaf5" opacity="0.82"/>
<ellipse cx="1907.8" cy="208.5" rx="2.3" ry="1.3" transform="rotate(74 1907.8 208.5)" fill="#f8eaf5" opacity="0.87"/>
<ellipse cx="1914.9" cy="213.3" rx="2.2" ry="1.1" transform="rotate(69 1914.9 213.3)" fill="#f8eaf5" opacity="0.87"/>
<ellipse cx="1967.5" cy="175.3" rx="3.4" ry="1.0" transform="rotate(68 1967.5 175.3)" fill="#fbf1f8" opacity="0.83"/>
<ellipse cx="1860.5" cy="280.1" rx="2.2" ry="1.4" transform="rotate(77 1860.5 280.1)" fill="#f8eaf5" opacity="0.83"/>
<ellipse cx="1933.8" cy="246.7" rx="3.0" ry="1.8" transform="rotate(73 1933.8 246.7)" fill="#fbf1f8" opacity="0.82"/>
<ellipse cx="1882.9" cy="214.2" rx="4.4" ry="1.4" transform="rotate(60 1882.9 214.2)" fill="#f8eaf5" opacity="0.94"/>
<ellipse cx="1910.1" cy="268.2" rx="3.4" ry="1.3" transform="rotate(64 1910.1 268.2)" fill="#9a5090" opacity="0.75"/>
<ellipse cx="1959.5" cy="285.0" rx="3.1" ry="1.3" transform="rotate(81 1959.5 285.0)" fill="#a65a98" opacity="0.73"/>
<ellipse cx="1882.8" cy="21.6" rx="3.2" ry="0.8" transform="rotate(60 1882.8 21.6)" fill="#b56aa5" opacity="0.94"/>
<ellipse cx="1899.1" cy="135.8" rx="2.2" ry="1.1" transform="rotate(78 1899.1 135.8)" fill="#b56aa5" opacity="0.79"/>
<ellipse cx="1976.7" cy="181.4" rx="2.5" ry="1.0" transform="rotate(76 1976.7 181.4)" fill="#9a5090" opacity="0.87"/>
<ellipse cx="1895.6" cy="201.6" rx="1.6" ry="1.3" transform="rotate(71 1895.6 201.6)" fill="#a65a98" opacity="0.83"/>
<ellipse cx="1957.9" cy="163.3" rx="3.2" ry="1.0" transform="rotate(72 1957.9 163.3)" fill="#b56aa5" opacity="0.69"/>
<ellipse cx="1851.2" cy="338.9" rx="1.7" ry="0.9" transform="rotate(75 1851.2 338.9)" fill="#b56aa5" opacity="0.61"/>
<ellipse cx="1900.2" cy="222.7" rx="3.2" ry="1.1" transform="rotate(71 1900.2 222.7)" fill="#b56aa5" opacity="0.89"/>
<ellipse cx="1909.8" cy="264.5" rx="3.5" ry="1.2" transform="rotate(62 1909.8 264.5)" fill="#9a5090" opacity="0.79"/>
<ellipse cx="1919.1" cy="111.6" rx="3.8" ry="0.9" transform="rotate(78 1919.1 111.6)" fill="#a65a98" opacity="0.81"/>
<ellipse cx="1938.8" cy="346.8" rx="3.9" ry="1.0" transform="rotate(74 1938.8 346.8)" fill="#8e4a85" opacity="0.91"/>
<ellipse cx="1951.1" cy="139.6" rx="3.7" ry="0.9" transform="rotate(80 1951.1 139.6)" fill="#8e4a85" opacity="0.64"/>
<ellipse cx="1936.7" cy="53.9" rx="2.6" ry="0.8" transform="rotate(75 1936.7 53.9)" fill="#9a5090" opacity="0.76"/>
<ellipse cx="1852.1" cy="288.3" rx="3.2" ry="1.1" transform="rotate(75 1852.1 288.3)" fill="#a65a98" opacity="0.92"/>
<ellipse cx="1862.6" cy="261.5" rx="2.9" ry="1.1" transform="rotate(63 1862.6 261.5)" fill="#b56aa5" opacity="0.93"/>
<ellipse cx="1856.7" cy="260.1" rx="3.4" ry="1.3" transform="rotate(63 1856.7 260.1)" fill="#8e4a85" opacity="0.76"/>
<ellipse cx="1975.1" cy="46.4" rx="4.0" ry="1.1" transform="rotate(58 1975.1 46.4)" fill="#b56aa5" opacity="0.81"/>
<ellipse cx="1917.4" cy="134.8" rx="2.5" ry="1.1" transform="rotate(63 1917.4 134.8)" fill="#b56aa5" opacity="0.86"/>
<ellipse cx="1967.9" cy="28.8" rx="1.9" ry="1.1" transform="rotate(67 1967.9 28.8)" fill="#9a5090" opacity="0.64"/>
<ellipse cx="1944.8" cy="174.3" rx="3.0" ry="1.3" transform="rotate(66 1944.8 174.3)" fill="#8e4a85" opacity="0.75"/>
<ellipse cx="1843.3" cy="267.0" rx="2.6" ry="0.9" transform="rotate(70 1843.3 267.0)" fill="#a65a98" opacity="0.65"/>
<ellipse cx="1911.7" cy="316.0" rx="1.6" ry="1.3" transform="rotate(73 1911.7 316.0)" fill="#8e4a85" opacity="0.85"/>
<ellipse cx="1913.3" cy="35.6" rx="3.3" ry="1.4" transform="rotate(67 1913.3 35.6)" fill="#b56aa5" opacity="0.63"/>
<ellipse cx="1980.2" cy="38.5" rx="2.4" ry="1.0" transform="rotate(70 1980.2 38.5)" fill="#b56aa5" opacity="0.69"/>
<ellipse cx="1882.2" cy="252.3" rx="3.4" ry="1.2" transform="rotate(68 1882.2 252.3)" fill="#b56aa5" opacity="0.73"/>
<ellipse cx="1941.0" cy="84.1" rx="2.2" ry="0.9" transform="rotate(78 1941.0 84.1)" fill="#b56aa5" opacity="0.61"/>
<ellipse cx="1897.1" cy="249.5" rx="3.5" ry="1.3" transform="rotate(70 1897.1 249.5)" fill="#9a5090" opacity="0.78"/>
<ellipse cx="1875.6" cy="304.9" rx="3.9" ry="1.0" transform="rotate(65 1875.6 304.9)" fill="#b56aa5" opacity="0.66"/>
<ellipse cx="1966.6" cy="308.4" rx="2.0" ry="0.9" transform="rotate(63 1966.6 308.4)" fill="#a65a98" opacity="0.63"/>
<ellipse cx="1895.0" cy="59.8" rx="2.0" ry="1.4" transform="rotate(75 1895.0 59.8)" fill="#8e4a85" opacity="0.95"/>
<ellipse cx="1889.0" cy="272.9" rx="1.8" ry="1.0" transform="rotate(66 1889.0 272.9)" fill="#8e4a85" opacity="0.86"/>
<ellipse cx="1966.8" cy="58.3" rx="2.9" ry="1.3" transform="rotate(82 1966.8 58.3)" fill="#9a5090" opacity="0.94"/>
<ellipse cx="1934.5" cy="38.2" rx="3.8" ry="1.1" transform="rotate(72 1934.5 38.2)" fill="#9a5090" opacity="0.85"/>
<ellipse cx="1947.6" cy="38.4" rx="3.5" ry="1.3" transform="rotate(73 1947.6 38.4)" fill="#b56aa5" opacity="0.73"/>
<ellipse cx="1963.6" cy="64.1" rx="3.9" ry="1.0" transform="rotate(59 1963.6 64.1)" fill="#9a5090" opacity="0.66"/>
<ellipse cx="1927.2" cy="194.7" rx="2.7" ry="1.0" transform="rotate(81 1927.2 194.7)" fill="#9a5090" opacity="0.69"/>
<ellipse cx="1918.5" cy="153.7" rx="2.2" ry="1.2" transform="rotate(67 1918.5 153.7)" fill="#9a5090" opacity="0.78"/>
<ellipse cx="1947.8" cy="217.5" rx="3.5" ry="1.3" transform="rotate(76 1947.8 217.5)" fill="#b56aa5" opacity="0.94"/>
<ellipse cx="1886.1" cy="326.5" rx="1.6" ry="1.1" transform="rotate(75 1886.1 326.5)" fill="#b56aa5" opacity="0.89"/>
<ellipse cx="1951.3" cy="199.7" rx="3.8" ry="1.2" transform="rotate(73 1951.3 199.7)" fill="#b56aa5" opacity="0.84"/>
<ellipse cx="1977.8" cy="48.9" rx="2.1" ry="1.3" transform="rotate(71 1977.8 48.9)" fill="#b56aa5" opacity="0.69"/>
<ellipse cx="1955.8" cy="239.3" rx="2.7" ry="1.3" transform="rotate(76 1955.8 239.3)" fill="#9a5090" opacity="0.67"/>
<ellipse cx="1956.7" cy="124.7" rx="2.3" ry="1.0" transform="rotate(66 1956.7 124.7)" fill="#b56aa5" opacity="0.62"/>
<ellipse cx="1891.0" cy="305.5" rx="1.5" ry="1.1" transform="rotate(66 1891.0 305.5)" fill="#b56aa5" opacity="0.90"/>
<ellipse cx="1902.9" cy="248.3" rx="3.3" ry="1.0" transform="rotate(61 1902.9 248.3)" fill="#8e4a85" opacity="0.68"/>
<ellipse cx="1923.5" cy="296.6" rx="2.4" ry="1.4" transform="rotate(59 1923.5 296.6)" fill="#9a5090" opacity="0.83"/>
<ellipse cx="1952.2" cy="297.7" rx="2.0" ry="1.3" transform="rotate(69 1952.2 297.7)" fill="#b56aa5" opacity="0.69"/>
<ellipse cx="1907.7" cy="167.5" rx="2.1" ry="1.2" transform="rotate(61 1907.7 167.5)" fill="#b56aa5" opacity="0.62"/>
<ellipse cx="1918.8" cy="327.4" rx="2.6" ry="1.0" transform="rotate(71 1918.8 327.4)" fill="#a65a98" opacity="0.85"/>
<ellipse cx="1955.1" cy="291.7" rx="3.3" ry="0.8" transform="rotate(67 1955.1 291.7)" fill="#9a5090" opacity="0.69"/>
<ellipse cx="1926.8" cy="151.2" rx="3.8" ry="0.8" transform="rotate(68 1926.8 151.2)" fill="#9a5090" opacity="0.91"/>
<ellipse cx="1958.8" cy="197.8" rx="3.9" ry="1.3" transform="rotate(72 1958.8 197.8)" fill="#a65a98" opacity="0.86"/>
<ellipse cx="1929.3" cy="246.8" rx="2.9" ry="1.2" transform="rotate(68 1929.3 246.8)" fill="#b56aa5" opacity="0.71"/>
<ellipse cx="1905.5" cy="166.1" rx="2.0" ry="1.1" transform="rotate(74 1905.5 166.1)" fill="#b56aa5" opacity="0.77"/>
<ellipse cx="1903.8" cy="184.6" rx="3.0" ry="0.8" transform="rotate(76 1903.8 184.6)" fill="#8e4a85" opacity="0.85"/>
<ellipse cx="1979.5" cy="266.7" rx="2.7" ry="1.2" transform="rotate(72 1979.5 266.7)" fill="#a65a98" opacity="0.61"/>
<ellipse cx="1908.3" cy="241.9" rx="1.8" ry="1.3" transform="rotate(70 1908.3 241.9)" fill="#8e4a85" opacity="0.74"/>
<ellipse cx="1906.0" cy="307.0" rx="2.6" ry="1.2" transform="rotate(64 1906.0 307.0)" fill="#8e4a85" opacity="0.77"/>
<ellipse cx="1903.7" cy="341.8" rx="3.8" ry="1.2" transform="rotate(77 1903.7 341.8)" fill="#9a5090" opacity="0.69"/>
<ellipse cx="1975.2" cy="77.8" rx="3.8" ry="1.0" transform="rotate(66 1975.2 77.8)" fill="#8e4a85" opacity="0.76"/>
<ellipse cx="1882.0" cy="342.6" rx="2.4" ry="1.3" transform="rotate(62 1882.0 342.6)" fill="#8e4a85" opacity="0.77"/>
<ellipse cx="1926.0" cy="286.9" rx="1.8" ry="1.3" transform="rotate(61 1926.0 286.9)" fill="#a65a98" opacity="0.93"/>
<ellipse cx="1955.2" cy="196.6" rx="3.7" ry="1.1" transform="rotate(70 1955.2 196.6)" fill="#9a5090" opacity="0.73"/>
<ellipse cx="1880.2" cy="296.5" rx="1.9" ry="1.3" transform="rotate(72 1880.2 296.5)" fill="#a65a98" opacity="0.93"/>
<ellipse cx="1849.1" cy="292.2" rx="3.6" ry="0.8" transform="rotate(70 1849.1 292.2)" fill="#b56aa5" opacity="0.72"/>
<ellipse cx="1978.8" cy="87.7" rx="3.3" ry="1.2" transform="rotate(78 1978.8 87.7)" fill="#9a5090" opacity="0.78"/>
<ellipse cx="1979.6" cy="86.8" rx="2.7" ry="1.1" transform="rotate(73 1979.6 86.8)" fill="#8e4a85" opacity="0.88"/>
<ellipse cx="1914.9" cy="290.0" rx="2.7" ry="1.3" transform="rotate(60 1914.9 290.0)" fill="#a65a98" opacity="0.90"/>
<ellipse cx="1855.9" cy="346.2" rx="3.5" ry="1.3" transform="rotate(78 1855.9 346.2)" fill="#9a5090" opacity="0.70"/>
<ellipse cx="1852.8" cy="303.4" rx="3.2" ry="1.1" transform="rotate(62 1852.8 303.4)" fill="#b56aa5" opacity="0.78"/>
<ellipse cx="1978.2" cy="80.1" rx="2.6" ry="0.8" transform="rotate(78 1978.2 80.1)" fill="#8e4a85" opacity="0.70"/>
<ellipse cx="1918.1" cy="329.9" rx="3.9" ry="1.1" transform="rotate(69 1918.1 329.9)" fill="#8e4a85" opacity="0.82"/>
<ellipse cx="1909.0" cy="254.6" rx="2.7" ry="1.2" transform="rotate(77 1909.0 254.6)" fill="#a65a98" opacity="0.70"/>
<ellipse cx="1905.5" cy="280.4" rx="2.8" ry="1.0" transform="rotate(72 1905.5 280.4)" fill="#b56aa5" opacity="0.63"/>
<ellipse cx="1954.3" cy="52.4" rx="1.6" ry="1.2" transform="rotate(64 1954.3 52.4)" fill="#8e4a85" opacity="0.62"/>
<ellipse cx="1913.7" cy="143.1" rx="3.4" ry="1.2" transform="rotate(79 1913.7 143.1)" fill="#9a5090" opacity="0.68"/>
<ellipse cx="1947.9" cy="206.3" rx="3.6" ry="1.1" transform="rotate(71 1947.9 206.3)" fill="#b56aa5" opacity="0.95"/>
<ellipse cx="1883.3" cy="18.9" rx="2.1" ry="1.4" transform="rotate(58 1883.3 18.9)" fill="#8e4a85" opacity="0.61"/>
<ellipse cx="1957.0" cy="301.1" rx="3.2" ry="1.0" transform="rotate(69 1957.0 301.1)" fill="#b56aa5" opacity="0.94"/>
<ellipse cx="1888.0" cy="205.1" rx="1.6" ry="1.3" transform="rotate(62 1888.0 205.1)" fill="#b56aa5" opacity="0.65"/>
<ellipse cx="1945.0" cy="61.3" rx="3.3" ry="1.2" transform="rotate(68 1945.0 61.3)" fill="#8e4a85" opacity="0.73"/>
<ellipse cx="1952.6" cy="291.4" rx="1.6" ry="1.4" transform="rotate(77 1952.6 291.4)" fill="#b56aa5" opacity="0.91"/>
<ellipse cx="1855.7" cy="318.1" rx="3.3" ry="1.1" transform="rotate(74 1855.7 318.1)" fill="#b56aa5" opacity="0.70"/>
<ellipse cx="1843.0" cy="332.4" rx="2.5" ry="1.2" transform="rotate(80 1843.0 332.4)" fill="#b56aa5" opacity="0.76"/>
<ellipse cx="1944.0" cy="265.5" rx="2.9" ry="0.9" transform="rotate(64 1944.0 265.5)" fill="#a65a98" opacity="0.90"/>
<ellipse cx="1958.0" cy="134.9" rx="3.5" ry="1.1" transform="rotate(78 1958.0 134.9)" fill="#9a5090" opacity="0.89"/>
<ellipse cx="1973.6" cy="172.8" rx="3.9" ry="1.1" transform="rotate(64 1973.6 172.8)" fill="#9a5090" opacity="0.63"/>
<ellipse cx="1966.8" cy="67.0" rx="3.6" ry="1.0" transform="rotate(78 1966.8 67.0)" fill="#9a5090" opacity="0.63"/>
<ellipse cx="1938.2" cy="311.5" rx="1.9" ry="1.2" transform="rotate(67 1938.2 311.5)" fill="#b56aa5" opacity="0.62"/>
<ellipse cx="1844.1" cy="328.0" rx="2.7" ry="1.2" transform="rotate(78 1844.1 328.0)" fill="#a65a98" opacity="0.77"/>
<ellipse cx="1858.1" cy="344.0" rx="2.3" ry="1.1" transform="rotate(59 1858.1 344.0)" fill="#b56aa5" opacity="0.78"/>
<ellipse cx="1949.6" cy="96.9" rx="3.6" ry="0.9" transform="rotate(62 1949.6 96.9)" fill="#8e4a85" opacity="0.64"/>
<ellipse cx="1926.7" cy="315.6" rx="3.9" ry="0.8" transform="rotate(75 1926.7 315.6)" fill="#a65a98" opacity="0.84"/>
<ellipse cx="1974.9" cy="124.8" rx="3.6" ry="0.8" transform="rotate(80 1974.9 124.8)" fill="#a65a98" opacity="0.73"/>
<ellipse cx="1939.7" cy="128.3" rx="1.7" ry="1.1" transform="rotate(66 1939.7 128.3)" fill="#8e4a85" opacity="0.61"/>
<ellipse cx="1970.6" cy="140.9" rx="2.2" ry="0.8" transform="rotate(65 1970.6 140.9)" fill="#9a5090" opacity="0.85"/>
<ellipse cx="1971.7" cy="279.0" rx="3.2" ry="1.1" transform="rotate(62 1971.7 279.0)" fill="#8e4a85" opacity="0.75"/>
<ellipse cx="1896.8" cy="270.1" rx="2.1" ry="1.1" transform="rotate(63 1896.8 270.1)" fill="#9a5090" opacity="0.82"/>
<ellipse cx="1843.5" cy="331.8" rx="2.4" ry="1.0" transform="rotate(74 1843.5 331.8)" fill="#a65a98" opacity="0.75"/>
<ellipse cx="1947.4" cy="69.4" rx="2.3" ry="1.0" transform="rotate(72 1947.4 69.4)" fill="#a65a98" opacity="0.60"/>
<ellipse cx="1915.8" cy="163.4" rx="2.0" ry="1.4" transform="rotate(72 1915.8 163.4)" fill="#8e4a85" opacity="0.84"/>
<ellipse cx="1919.9" cy="352.2" rx="1.9" ry="1.2" transform="rotate(72 1919.9 352.2)" fill="#b56aa5" opacity="0.90"/>
<ellipse cx="1921.0" cy="59.8" rx="2.8" ry="0.9" transform="rotate(67 1921.0 59.8)" fill="#a65a98" opacity="0.89"/>
<ellipse cx="1973.8" cy="167.9" rx="4.0" ry="0.9" transform="rotate(61 1973.8 167.9)" fill="#9a5090" opacity="0.88"/>
<ellipse cx="1958.6" cy="44.7" rx="3.8" ry="1.2" transform="rotate(58 1958.6 44.7)" fill="#b56aa5" opacity="0.63"/>
<ellipse cx="1895.0" cy="19.3" rx="2.5" ry="1.3" transform="rotate(75 1895.0 19.3)" fill="#8e4a85" opacity="0.82"/>
<ellipse cx="1914.7" cy="60.6" rx="1.6" ry="1.4" transform="rotate(68 1914.7 60.6)" fill="#b56aa5" opacity="0.61"/>
<ellipse cx="1916.1" cy="326.3" rx="2.3" ry="1.3" transform="rotate(77 1916.1 326.3)" fill="#8e4a85" opacity="0.76"/>
<ellipse cx="1947.6" cy="88.1" rx="3.1" ry="1.4" transform="rotate(66 1947.6 88.1)" fill="#a65a98" opacity="0.86"/>
<ellipse cx="1959.8" cy="276.2" rx="3.5" ry="1.2" transform="rotate(62 1959.8 276.2)" fill="#9a5090" opacity="0.70"/>
<ellipse cx="1941.3" cy="188.4" rx="3.0" ry="0.8" transform="rotate(62 1941.3 188.4)" fill="#8e4a85" opacity="0.60"/>
<ellipse cx="1923.0" cy="267.1" rx="2.2" ry="1.3" transform="rotate(75 1923.0 267.1)" fill="#a65a98" opacity="0.79"/>
<ellipse cx="1889.1" cy="179.8" rx="3.0" ry="1.3" transform="rotate(62 1889.1 179.8)" fill="#9a5090" opacity="0.82"/>
<ellipse cx="1915.6" cy="92.2" rx="2.6" ry="1.1" transform="rotate(68 1915.6 92.2)" fill="#b56aa5" opacity="0.93"/>
<ellipse cx="1980.6" cy="233.7" rx="1.6" ry="1.2" transform="rotate(82 1980.6 233.7)" fill="#a65a98" opacity="0.86"/>
<ellipse cx="1977.9" cy="82.0" rx="2.2" ry="1.3" transform="rotate(67 1977.9 82.0)" fill="#9a5090" opacity="0.81"/>
<ellipse cx="1965.5" cy="80.7" rx="1.8" ry="1.4" transform="rotate(73 1965.5 80.7)" fill="#b56aa5" opacity="0.81"/>
<ellipse cx="1869.8" cy="268.0" rx="3.7" ry="1.1" transform="rotate(70 1869.8 268.0)" fill="#9a5090" opacity="0.67"/>
<ellipse cx="1936.6" cy="295.8" rx="2.2" ry="1.3" transform="rotate(72 1936.6 295.8)" fill="#8e4a85" opacity="0.61"/>
<ellipse cx="1898.8" cy="78.7" rx="1.9" ry="1.0" transform="rotate(72 1898.8 78.7)" fill="#a65a98" opacity="0.94"/>
<ellipse cx="1893.0" cy="127.0" rx="2.5" ry="0.8" transform="rotate(61 1893.0 127.0)" fill="#b56aa5" opacity="0.85"/>
<ellipse cx="1974.8" cy="234.9" rx="3.5" ry="1.1" transform="rotate(81 1974.8 234.9)" fill="#b56aa5" opacity="0.95"/>
<ellipse cx="1980.0" cy="19.4" rx="3.6" ry="1.4" transform="rotate(77 1980.0 19.4)" fill="#8e4a85" opacity="0.83"/>
<ellipse cx="1882.3" cy="334.0" rx="2.2" ry="1.3" transform="rotate(70 1882.3 334.0)" fill="#b56aa5" opacity="0.67"/>
<ellipse cx="1895.7" cy="26.6" rx="3.9" ry="1.0" transform="rotate(65 1895.7 26.6)" fill="#9a5090" opacity="0.86"/>
<ellipse cx="1908.7" cy="69.6" rx="3.1" ry="1.0" transform="rotate(80 1908.7 69.6)" fill="#a65a98" opacity="0.82"/>
<ellipse cx="1934.5" cy="181.3" rx="2.5" ry="1.4" transform="rotate(61 1934.5 181.3)" fill="#9a5090" opacity="0.76"/>
<ellipse cx="1964.3" cy="43.5" rx="3.2" ry="1.1" transform="rotate(73 1964.3 43.5)" fill="#a65a98" opacity="0.65"/>
<ellipse cx="1879.0" cy="312.1" rx="3.0" ry="1.3" transform="rotate(74 1879.0 312.1)" fill="#a65a98" opacity="0.60"/>
<ellipse cx="1955.4" cy="72.8" rx="3.1" ry="1.2" transform="rotate(80 1955.4 72.8)" fill="#9a5090" opacity="0.67"/>
<ellipse cx="1890.8" cy="152.1" rx="3.1" ry="1.0" transform="rotate(82 1890.8 152.1)" fill="#b56aa5" opacity="0.91"/>
<ellipse cx="1858.8" cy="335.0" rx="2.7" ry="0.9" transform="rotate(64 1858.8 335.0)" fill="#b56aa5" opacity="0.91"/>
<ellipse cx="1901.7" cy="292.5" rx="2.4" ry="1.0" transform="rotate(82 1901.7 292.5)" fill="#a65a98" opacity="0.77"/>
<ellipse cx="1972.2" cy="193.2" rx="1.5" ry="1.1" transform="rotate(74 1972.2 193.2)" fill="#9a5090" opacity="0.83"/>
<ellipse cx="1908.8" cy="79.9" rx="2.0" ry="1.0" transform="rotate(74 1908.8 79.9)" fill="#b56aa5" opacity="0.63"/>
<ellipse cx="1939.0" cy="311.2" rx="1.8" ry="1.1" transform="rotate(62 1939.0 311.2)" fill="#8e4a85" opacity="0.64"/>
<ellipse cx="1921.6" cy="324.2" rx="2.7" ry="1.0" transform="rotate(70 1921.6 324.2)" fill="#8e4a85" opacity="0.69"/>
<ellipse cx="1971.6" cy="262.3" rx="2.7" ry="1.2" transform="rotate(75 1971.6 262.3)" fill="#a65a98" opacity="0.94"/>
<ellipse cx="1959.3" cy="107.8" rx="2.7" ry="1.3" transform="rotate(60 1959.3 107.8)" fill="#b56aa5" opacity="0.86"/>
<ellipse cx="1932.3" cy="247.6" rx="2.8" ry="0.8" transform="rotate(65 1932.3 247.6)" fill="#b56aa5" opacity="0.81"/>
<ellipse cx="1948.9" cy="273.9" rx="3.5" ry="1.4" transform="rotate(80 1948.9 273.9)" fill="#b56aa5" opacity="0.73"/>
<ellipse cx="1910.1" cy="180.9" rx="2.1" ry="1.0" transform="rotate(75 1910.1 180.9)" fill="#8e4a85" opacity="0.81"/>
<ellipse cx="1871.2" cy="238.2" rx="2.4" ry="1.2" transform="rotate(76 1871.2 238.2)" fill="#b56aa5" opacity="0.81"/>
<ellipse cx="1945.2" cy="313.3" rx="3.4" ry="1.3" transform="rotate(74 1945.2 313.3)" fill="#8e4a85" opacity="0.82"/>
<ellipse cx="1970.5" cy="167.1" rx="2.9" ry="1.3" transform="rotate(75 1970.5 167.1)" fill="#a65a98" opacity="0.76"/>
<ellipse cx="1948.7" cy="274.2" rx="3.7" ry="1.4" transform="rotate(66 1948.7 274.2)" fill="#9a5090" opacity="0.62"/>
<ellipse cx="1927.5" cy="160.2" rx="2.1" ry="1.1" transform="rotate(64 1927.5 160.2)" fill="#b56aa5" opacity="0.68"/>
<ellipse cx="1933.4" cy="31.9" rx="1.7" ry="1.1" transform="rotate(72 1933.4 31.9)" fill="#a65a98" opacity="0.75"/>
<ellipse cx="1882.5" cy="210.1" rx="3.4" ry="1.4" transform="rotate(59 1882.5 210.1)" fill="#b56aa5" opacity="0.84"/>
<ellipse cx="1920.3" cy="296.4" rx="1.7" ry="0.9" transform="rotate(60 1920.3 296.4)" fill="#a65a98" opacity="0.72"/>
<ellipse cx="1912.6" cy="153.5" rx="4.0" ry="1.3" transform="rotate(59 1912.6 153.5)" fill="#a65a98" opacity="0.93"/>
<ellipse cx="1925.8" cy="253.1" rx="3.1" ry="0.8" transform="rotate(71 1925.8 253.1)" fill="#9a5090" opacity="0.78"/>
<ellipse cx="1924.1" cy="222.4" rx="2.0" ry="1.2" transform="rotate(78 1924.1 222.4)" fill="#a65a98" opacity="0.80"/>
<ellipse cx="1900.6" cy="147.7" rx="2.0" ry="1.2" transform="rotate(71 1900.6 147.7)" fill="#b56aa5" opacity="0.88"/>
<ellipse cx="1946.8" cy="84.9" rx="3.5" ry="0.9" transform="rotate(65 1946.8 84.9)" fill="#a65a98" opacity="0.61"/>
<ellipse cx="1956.2" cy="208.7" rx="2.7" ry="1.2" transform="rotate(64 1956.2 208.7)" fill="#a65a98" opacity="0.80"/>
<ellipse cx="1945.2" cy="73.5" rx="2.3" ry="1.1" transform="rotate(62 1945.2 73.5)" fill="#b56aa5" opacity="0.64"/>
<ellipse cx="1977.7" cy="231.3" rx="1.9" ry="0.9" transform="rotate(63 1977.7 231.3)" fill="#b56aa5" opacity="0.63"/>
<ellipse cx="1963.1" cy="219.2" rx="1.8" ry="1.1" transform="rotate(70 1963.1 219.2)" fill="#9a5090" opacity="0.86"/>
<ellipse cx="1938.1" cy="349.0" rx="1.8" ry="1.2" transform="rotate(72 1938.1 349.0)" fill="#8e4a85" opacity="0.65"/>
<ellipse cx="1960.6" cy="213.8" rx="2.1" ry="1.0" transform="rotate(72 1960.6 213.8)" fill="#b56aa5" opacity="0.87"/>
<ellipse cx="1954.2" cy="245.3" rx="2.7" ry="0.8" transform="rotate(76 1954.2 245.3)" fill="#a65a98" opacity="0.61"/>
<ellipse cx="1938.4" cy="248.1" rx="3.5" ry="1.4" transform="rotate(74 1938.4 248.1)" fill="#8e4a85" opacity="0.93"/>
<ellipse cx="1840.0" cy="314.1" rx="1.5" ry="1.4" transform="rotate(60 1840.0 314.1)" fill="#9a5090" opacity="0.89"/>
<ellipse cx="1892.0" cy="223.9" rx="3.3" ry="1.3" transform="rotate(76 1892.0 223.9)" fill="#8e4a85" opacity="0.70"/>
<ellipse cx="1954.7" cy="287.7" rx="3.8" ry="1.4" transform="rotate(61 1954.7 287.7)" fill="#a65a98" opacity="0.80"/>
<ellipse cx="1952.9" cy="195.9" rx="3.1" ry="1.0" transform="rotate(81 1952.9 195.9)" fill="#8e4a85" opacity="0.91"/>
<ellipse cx="1896.0" cy="45.9" rx="2.7" ry="1.0" transform="rotate(65 1896.0 45.9)" fill="#8e4a85" opacity="0.92"/>
<ellipse cx="1968.5" cy="34.2" rx="1.6" ry="0.8" transform="rotate(74 1968.5 34.2)" fill="#9a5090" opacity="0.94"/>
<ellipse cx="1884.8" cy="219.7" rx="2.2" ry="1.2" transform="rotate(66 1884.8 219.7)" fill="#9a5090" opacity="0.67"/>
<ellipse cx="1908.4" cy="150.1" rx="4.0" ry="1.1" transform="rotate(60 1908.4 150.1)" fill="#9a5090" opacity="0.78"/>
<ellipse cx="1937.4" cy="97.2" rx="2.3" ry="1.0" transform="rotate(66 1937.4 97.2)" fill="#a65a98" opacity="0.81"/>
<ellipse cx="1894.2" cy="191.1" rx="1.6" ry="1.1" transform="rotate(58 1894.2 191.1)" fill="#9a5090" opacity="0.82"/>
<ellipse cx="1849.7" cy="318.1" rx="3.7" ry="1.4" transform="rotate(69 1849.7 318.1)" fill="#9a5090" opacity="0.67"/>
<ellipse cx="1978.4" cy="110.3" rx="1.8" ry="1.3" transform="rotate(63 1978.4 110.3)" fill="#8e4a85" opacity="0.66"/>
<ellipse cx="1871.4" cy="309.0" rx="2.8" ry="1.3" transform="rotate(68 1871.4 309.0)" fill="#8e4a85" opacity="0.79"/>
<ellipse cx="1873.4" cy="239.4" rx="2.0" ry="1.1" transform="rotate(80 1873.4 239.4)" fill="#8e4a85" opacity="0.78"/>
<ellipse cx="1908.7" cy="281.2" rx="2.3" ry="0.8" transform="rotate(75 1908.7 281.2)" fill="#8e4a85" opacity="0.93"/>
<ellipse cx="1923.4" cy="184.1" rx="3.5" ry="1.0" transform="rotate(70 1923.4 184.1)" fill="#9a5090" opacity="0.69"/>
<ellipse cx="1914.4" cy="33.0" rx="3.8" ry="1.1" transform="rotate(75 1914.4 33.0)" fill="#9a5090" opacity="0.90"/>
<ellipse cx="1942.4" cy="275.0" rx="1.7" ry="1.2" transform="rotate(73 1942.4 275.0)" fill="#b56aa5" opacity="0.68"/>
<ellipse cx="1912.7" cy="210.6" rx="3.7" ry="1.2" transform="rotate(64 1912.7 210.6)" fill="#b56aa5" opacity="0.78"/>
<ellipse cx="1973.7" cy="241.6" rx="1.5" ry="1.1" transform="rotate(65 1973.7 241.6)" fill="#b56aa5" opacity="0.94"/>
<ellipse cx="1872.3" cy="337.7" rx="2.3" ry="1.0" transform="rotate(67 1872.3 337.7)" fill="#b56aa5" opacity="0.63"/>
<ellipse cx="1862.9" cy="317.6" rx="3.7" ry="1.0" transform="rotate(67 1862.9 317.6)" fill="#8e4a85" opacity="0.81"/>
<ellipse cx="1945.7" cy="255.5" rx="1.7" ry="1.3" transform="rotate(62 1945.7 255.5)" fill="#a65a98" opacity="0.78"/>
<ellipse cx="1904.3" cy="265.3" rx="3.8" ry="0.8" transform="rotate(71 1904.3 265.3)" fill="#a65a98" opacity="0.69"/>
<ellipse cx="1851.9" cy="320.0" rx="2.2" ry="1.1" transform="rotate(65 1851.9 320.0)" fill="#b56aa5" opacity="0.81"/>
<ellipse cx="1867.2" cy="270.6" rx="3.3" ry="1.1" transform="rotate(80 1867.2 270.6)" fill="#8e4a85" opacity="0.92"/>
<ellipse cx="1893.2" cy="215.2" rx="3.0" ry="0.9" transform="rotate(75 1893.2 215.2)" fill="#8e4a85" opacity="0.68"/>
<ellipse cx="1956.6" cy="267.5" rx="3.1" ry="1.2" transform="rotate(62 1956.6 267.5)" fill="#9a5090" opacity="0.69"/>
<ellipse cx="1894.4" cy="328.1" rx="1.7" ry="1.3" transform="rotate(65 1894.4 328.1)" fill="#a65a98" opacity="0.87"/>
<ellipse cx="1862.6" cy="13.3" rx="2.9" ry="1.3" transform="rotate(66 1862.6 13.3)" fill="#a65a98" opacity="0.90"/>
<ellipse cx="1954.9" cy="292.3" rx="2.5" ry="1.3" transform="rotate(69 1954.9 292.3)" fill="#b56aa5" opacity="0.84"/>
<ellipse cx="1890.2" cy="127.1" rx="3.6" ry="1.1" transform="rotate(74 1890.2 127.1)" fill="#b56aa5" opacity="0.67"/>
<ellipse cx="1950.7" cy="231.2" rx="2.0" ry="1.1" transform="rotate(78 1950.7 231.2)" fill="#b56aa5" opacity="0.70"/>
<ellipse cx="1907.5" cy="107.7" rx="1.7" ry="1.2" transform="rotate(75 1907.5 107.7)" fill="#9a5090" opacity="0.82"/>
<ellipse cx="1882.1" cy="220.3" rx="2.8" ry="0.8" transform="rotate(61 1882.1 220.3)" fill="#b56aa5" opacity="0.73"/>
<ellipse cx="1942.6" cy="17.7" rx="3.1" ry="0.9" transform="rotate(63 1942.6 17.7)" fill="#9a5090" opacity="0.78"/>
<ellipse cx="1938.7" cy="68.3" rx="2.4" ry="1.1" transform="rotate(60 1938.7 68.3)" fill="#8e4a85" opacity="0.82"/>
<ellipse cx="1876.1" cy="16.4" rx="2.9" ry="1.1" transform="rotate(61 1876.1 16.4)" fill="#8e4a85" opacity="0.84"/>
<ellipse cx="1953.8" cy="234.9" rx="2.6" ry="1.3" transform="rotate(73 1953.8 234.9)" fill="#b56aa5" opacity="0.85"/>
<ellipse cx="1898.9" cy="16.4" rx="2.7" ry="1.4" transform="rotate(78 1898.9 16.4)" fill="#9a5090" opacity="0.80"/>
<ellipse cx="1879.5" cy="258.3" rx="1.7" ry="1.0" transform="rotate(79 1879.5 258.3)" fill="#a65a98" opacity="0.64"/>
<ellipse cx="1927.2" cy="100.8" rx="2.9" ry="1.0" transform="rotate(65 1927.2 100.8)" fill="#8e4a85" opacity="0.92"/>
<ellipse cx="1873.9" cy="226.0" rx="2.4" ry="1.2" transform="rotate(63 1873.9 226.0)" fill="#b56aa5" opacity="0.80"/>
<ellipse cx="1978.5" cy="339.8" rx="2.9" ry="1.3" transform="rotate(77 1978.5 339.8)" fill="#8e4a85" opacity="0.70"/>
<ellipse cx="1957.2" cy="94.2" rx="2.7" ry="1.0" transform="rotate(78 1957.2 94.2)" fill="#8e4a85" opacity="0.75"/>
<ellipse cx="1895.5" cy="45.8" rx="1.6" ry="1.1" transform="rotate(76 1895.5 45.8)" fill="#b56aa5" opacity="0.79"/>
<ellipse cx="1931.4" cy="158.6" rx="3.8" ry="0.9" transform="rotate(80 1931.4 158.6)" fill="#a65a98" opacity="0.81"/>
<ellipse cx="1891.5" cy="74.1" rx="1.7" ry="1.3" transform="rotate(62 1891.5 74.1)" fill="#b56aa5" opacity="0.71"/>
<ellipse cx="1858.6" cy="250.1" rx="3.0" ry="1.3" transform="rotate(79 1858.6 250.1)" fill="#a65a98" opacity="0.92"/>
<ellipse cx="1965.0" cy="272.8" rx="1.8" ry="1.0" transform="rotate(79 1965.0 272.8)" fill="#9a5090" opacity="0.71"/>
<ellipse cx="1931.0" cy="313.0" rx="1.7" ry="1.3" transform="rotate(64 1931.0 313.0)" fill="#a65a98" opacity="0.69"/>
<ellipse cx="1927.3" cy="68.1" rx="1.6" ry="1.4" transform="rotate(59 1927.3 68.1)" fill="#a65a98" opacity="0.77"/>
<ellipse cx="1955.5" cy="338.5" rx="1.7" ry="1.0" transform="rotate(75 1955.5 338.5)" fill="#9a5090" opacity="0.66"/>
<ellipse cx="1946.6" cy="281.2" rx="1.9" ry="0.9" transform="rotate(68 1946.6 281.2)" fill="#a65a98" opacity="0.71"/>
<ellipse cx="1946.5" cy="24.7" rx="3.5" ry="0.8" transform="rotate(64 1946.5 24.7)" fill="#b56aa5" opacity="0.69"/>
<ellipse cx="1896.5" cy="331.9" rx="3.5" ry="1.3" transform="rotate(63 1896.5 331.9)" fill="#a65a98" opacity="0.78"/>
<ellipse cx="1898.2" cy="269.7" rx="2.8" ry="1.3" transform="rotate(78 1898.2 269.7)" fill="#b56aa5" opacity="0.69"/>
<ellipse cx="1928.6" cy="138.4" rx="3.7" ry="1.2" transform="rotate(79 1928.6 138.4)" fill="#8e4a85" opacity="0.94"/>
<ellipse cx="1891.4" cy="265.6" rx="3.9" ry="1.1" transform="rotate(62 1891.4 265.6)" fill="#a65a98" opacity="0.73"/>
<ellipse cx="1971.6" cy="47.8" rx="3.3" ry="0.9" transform="rotate(80 1971.6 47.8)" fill="#a65a98" opacity="0.92"/>
<ellipse cx="1903.1" cy="155.5" rx="2.1" ry="1.3" transform="rotate(68 1903.1 155.5)" fill="#b56aa5" opacity="0.62"/>
<ellipse cx="1948.9" cy="100.5" rx="2.2" ry="1.1" transform="rotate(81 1948.9 100.5)" fill="#b56aa5" opacity="0.74"/>
<ellipse cx="1954.6" cy="50.5" rx="3.4" ry="1.1" transform="rotate(61 1954.6 50.5)" fill="#b56aa5" opacity="0.79"/>
<ellipse cx="1909.4" cy="102.9" rx="2.0" ry="1.2" transform="rotate(65 1909.4 102.9)" fill="#a65a98" opacity="0.63"/>
<ellipse cx="1945.6" cy="335.7" rx="2.5" ry="0.8" transform="rotate(58 1945.6 335.7)" fill="#9a5090" opacity="0.91"/>
<ellipse cx="1847.6" cy="334.1" rx="2.6" ry="1.3" transform="rotate(61 1847.6 334.1)" fill="#9a5090" opacity="0.76"/>
<ellipse cx="1935.9" cy="291.9" rx="1.9" ry="1.2" transform="rotate(78 1935.9 291.9)" fill="#8e4a85" opacity="0.77"/>
<ellipse cx="1907.0" cy="76.2" rx="3.1" ry="1.2" transform="rotate(61 1907.0 76.2)" fill="#9a5090" opacity="0.93"/>
<ellipse cx="1936.2" cy="138.2" rx="2.3" ry="1.3" transform="rotate(69 1936.2 138.2)" fill="#9a5090" opacity="0.65"/>
<ellipse cx="1979.2" cy="41.1" rx="1.7" ry="1.2" transform="rotate(59 1979.2 41.1)" fill="#a65a98" opacity="0.91"/>
<ellipse cx="1954.5" cy="306.0" rx="1.8" ry="1.3" transform="rotate(72 1954.5 306.0)" fill="#9a5090" opacity="0.90"/>
<ellipse cx="1899.5" cy="256.5" rx="1.8" ry="1.0" transform="rotate(79 1899.5 256.5)" fill="#a65a98" opacity="0.84"/>
<ellipse cx="1875.9" cy="37.4" rx="4.0" ry="1.0" transform="rotate(78 1875.9 37.4)" fill="#b56aa5" opacity="0.87"/>
<ellipse cx="1858.1" cy="308.2" rx="3.7" ry="1.0" transform="rotate(70 1858.1 308.2)" fill="#a65a98" opacity="0.76"/>
<ellipse cx="1913.7" cy="178.3" rx="1.6" ry="0.9" transform="rotate(82 1913.7 178.3)" fill="#9a5090" opacity="0.83"/>
<ellipse cx="1954.6" cy="42.7" rx="1.8" ry="1.4" transform="rotate(78 1954.6 42.7)" fill="#9a5090" opacity="0.87"/>
<ellipse cx="1890.3" cy="91.5" rx="2.0" ry="0.9" transform="rotate(69 1890.3 91.5)" fill="#b56aa5" opacity="0.81"/>
<ellipse cx="1903.9" cy="153.1" rx="2.6" ry="0.9" transform="rotate(60 1903.9 153.1)" fill="#a65a98" opacity="0.62"/>
<ellipse cx="1978.4" cy="110.1" rx="1.6" ry="1.2" transform="rotate(80 1978.4 110.1)" fill="#8e4a85" opacity="0.65"/>
<ellipse cx="1859.4" cy="250.7" rx="2.4" ry="1.4" transform="rotate(62 1859.4 250.7)" fill="#8e4a85" opacity="0.74"/>
<ellipse cx="1882.9" cy="70.6" rx="3.2" ry="0.9" transform="rotate(71 1882.9 70.6)" fill="#8e4a85" opacity="0.89"/>
<ellipse cx="1885.2" cy="81.5" rx="2.5" ry="1.2" transform="rotate(72 1885.2 81.5)" fill="#a65a98" opacity="0.83"/>
<ellipse cx="1945.7" cy="106.6" rx="1.9" ry="1.1" transform="rotate(70 1945.7 106.6)" fill="#9a5090" opacity="0.87"/>
<ellipse cx="1867.3" cy="294.4" rx="2.1" ry="0.8" transform="rotate(76 1867.3 294.4)" fill="#b56aa5" opacity="0.91"/>
<ellipse cx="1963.9" cy="88.7" rx="2.1" ry="1.2" transform="rotate(64 1963.9 88.7)" fill="#9a5090" opacity="0.91"/>
<ellipse cx="1945.1" cy="299.3" rx="3.6" ry="1.4" transform="rotate(67 1945.1 299.3)" fill="#8e4a85" opacity="0.78"/>
<ellipse cx="1898.7" cy="192.6" rx="2.3" ry="1.1" transform="rotate(75 1898.7 192.6)" fill="#9a5090" opacity="0.73"/>
<ellipse cx="1944.3" cy="70.1" rx="3.8" ry="1.1" transform="rotate(82 1944.3 70.1)" fill="#9a5090" opacity="0.71"/>
<ellipse cx="1935.5" cy="203.7" rx="2.0" ry="1.0" transform="rotate(75 1935.5 203.7)" fill="#a65a98" opacity="0.63"/>
<ellipse cx="1868.9" cy="305.1" rx="3.3" ry="1.2" transform="rotate(71 1868.9 305.1)" fill="#8e4a85" opacity="0.77"/>
<ellipse cx="1877.3" cy="254.6" rx="2.4" ry="0.9" transform="rotate(68 1877.3 254.6)" fill="#9a5090" opacity="0.67"/>
<ellipse cx="1919.7" cy="305.5" rx="1.8" ry="0.8" transform="rotate(65 1919.7 305.5)" fill="#9a5090" opacity="0.65"/>
<ellipse cx="1907.4" cy="93.5" rx="2.7" ry="1.0" transform="rotate(65 1907.4 93.5)" fill="#8e4a85" opacity="0.88"/>
<ellipse cx="1911.4" cy="309.3" rx="2.6" ry="1.4" transform="rotate(74 1911.4 309.3)" fill="#a65a98" opacity="0.69"/>
<ellipse cx="1899.9" cy="36.2" rx="1.6" ry="1.4" transform="rotate(82 1899.9 36.2)" fill="#a65a98" opacity="0.93"/>
<ellipse cx="1871.8" cy="349.6" rx="1.8" ry="1.3" transform="rotate(59 1871.8 349.6)" fill="#8e4a85" opacity="0.79"/>
<ellipse cx="1938.2" cy="340.4" rx="3.1" ry="1.0" transform="rotate(67 1938.2 340.4)" fill="#9a5090" opacity="0.81"/>
<ellipse cx="1862.3" cy="19.7" rx="2.9" ry="1.2" transform="rotate(61 1862.3 19.7)" fill="#8e4a85" opacity="0.78"/>
<ellipse cx="1960.1" cy="38.3" rx="2.0" ry="1.2" transform="rotate(76 1960.1 38.3)" fill="#8e4a85" opacity="0.88"/>
<ellipse cx="1980.2" cy="112.4" rx="3.9" ry="0.8" transform="rotate(76 1980.2 112.4)" fill="#a65a98" opacity="0.75"/>
<ellipse cx="1867.2" cy="238.1" rx="3.6" ry="1.4" transform="rotate(79 1867.2 238.1)" fill="#b56aa5" opacity="0.93"/>
<ellipse cx="1859.2" cy="269.7" rx="1.7" ry="0.9" transform="rotate(72 1859.2 269.7)" fill="#a65a98" opacity="0.65"/>
<ellipse cx="1917.1" cy="69.3" rx="3.6" ry="1.2" transform="rotate(61 1917.1 69.3)" fill="#a65a98" opacity="0.91"/>
<ellipse cx="1957.0" cy="53.1" rx="3.2" ry="0.8" transform="rotate(71 1957.0 53.1)" fill="#8e4a85" opacity="0.77"/>
<ellipse cx="1928.1" cy="121.3" rx="2.8" ry="1.0" transform="rotate(59 1928.1 121.3)" fill="#a65a98" opacity="0.75"/>
<ellipse cx="1879.5" cy="237.0" rx="3.7" ry="0.8" transform="rotate(63 1879.5 237.0)" fill="#9a5090" opacity="0.71"/>
<ellipse cx="1914.3" cy="87.1" rx="3.0" ry="1.2" transform="rotate(79 1914.3 87.1)" fill="#9a5090" opacity="0.70"/>
<ellipse cx="1910.1" cy="156.2" rx="1.8" ry="0.9" transform="rotate(60 1910.1 156.2)" fill="#a65a98" opacity="0.70"/>
<ellipse cx="1907.4" cy="317.2" rx="2.1" ry="1.3" transform="rotate(73 1907.4 317.2)" fill="#b56aa5" opacity="0.93"/>
<ellipse cx="1910.9" cy="50.4" rx="3.3" ry="1.0" transform="rotate(80 1910.9 50.4)" fill="#8e4a85" opacity="0.93"/>
<ellipse cx="1872.8" cy="322.9" rx="2.2" ry="1.1" transform="rotate(77 1872.8 322.9)" fill="#8e4a85" opacity="0.78"/>
<ellipse cx="1912.6" cy="138.3" rx="1.7" ry="1.1" transform="rotate(81 1912.6 138.3)" fill="#a65a98" opacity="0.74"/>
<ellipse cx="1937.0" cy="33.8" rx="2.7" ry="1.1" transform="rotate(73 1937.0 33.8)" fill="#a65a98" opacity="0.94"/>
<ellipse cx="1956.7" cy="249.3" rx="2.6" ry="1.1" transform="rotate(78 1956.7 249.3)" fill="#9a5090" opacity="0.64"/>
<ellipse cx="1915.6" cy="14.9" rx="3.4" ry="1.1" transform="rotate(75 1915.6 14.9)" fill="#b56aa5" opacity="0.75"/>
<ellipse cx="1941.6" cy="150.4" rx="3.8" ry="1.2" transform="rotate(74 1941.6 150.4)" fill="#8e4a85" opacity="0.81"/>
<ellipse cx="1944.2" cy="310.0" rx="1.7" ry="1.0" transform="rotate(82 1944.2 310.0)" fill="#a65a98" opacity="0.68"/>
<ellipse cx="1939.0" cy="18.5" rx="2.0" ry="1.4" transform="rotate(62 1939.0 18.5)" fill="#9a5090" opacity="0.82"/>
<ellipse cx="1975.6" cy="29.5" rx="4.0" ry="1.3" transform="rotate(79 1975.6 29.5)" fill="#9a5090" opacity="0.66"/>
<ellipse cx="1903.5" cy="118.6" rx="3.9" ry="1.3" transform="rotate(79 1903.5 118.6)" fill="#a65a98" opacity="0.60"/>
<ellipse cx="1979.9" cy="249.2" rx="2.5" ry="1.3" transform="rotate(68 1979.9 249.2)" fill="#9a5090" opacity="0.63"/>
<ellipse cx="1954.0" cy="331.3" rx="2.5" ry="0.9" transform="rotate(58 1954.0 331.3)" fill="#9a5090" opacity="0.77"/>
<ellipse cx="1929.3" cy="136.4" rx="2.5" ry="1.3" transform="rotate(71 1929.3 136.4)" fill="#b56aa5" opacity="0.66"/>
<ellipse cx="1959.6" cy="292.9" rx="2.2" ry="1.4" transform="rotate(73 1959.6 292.9)" fill="#a65a98" opacity="0.84"/>
<ellipse cx="1902.9" cy="118.1" rx="1.9" ry="1.3" transform="rotate(76 1902.9 118.1)" fill="#b56aa5" opacity="0.87"/>
<ellipse cx="1862.4" cy="323.2" rx="1.7" ry="1.4" transform="rotate(76 1862.4 323.2)" fill="#9a5090" opacity="0.75"/>
<ellipse cx="1957.9" cy="141.1" rx="2.1" ry="1.4" transform="rotate(81 1957.9 141.1)" fill="#a65a98" opacity="0.70"/>
<ellipse cx="1909.1" cy="208.6" rx="3.9" ry="1.4" transform="rotate(80 1909.1 208.6)" fill="#b56aa5" opacity="0.61"/>
<ellipse cx="1849.1" cy="284.5" rx="2.3" ry="0.9" transform="rotate(81 1849.1 284.5)" fill="#8e4a85" opacity="0.72"/>
<ellipse cx="1916.8" cy="143.8" rx="2.7" ry="1.3" transform="rotate(76 1916.8 143.8)" fill="#8e4a85" opacity="0.68"/>
<ellipse cx="1906.1" cy="177.3" rx="3.8" ry="1.2" transform="rotate(66 1906.1 177.3)" fill="#b56aa5" opacity="0.76"/>
<ellipse cx="1965.2" cy="194.2" rx="3.3" ry="1.0" transform="rotate(71 1965.2 194.2)" fill="#a65a98" opacity="0.83"/>
<ellipse cx="1942.4" cy="22.1" rx="3.4" ry="1.2" transform="rotate(68 1942.4 22.1)" fill="#9a5090" opacity="0.72"/>
<ellipse cx="1933.9" cy="314.9" rx="2.5" ry="1.0" transform="rotate(64 1933.9 314.9)" fill="#a65a98" opacity="0.80"/>
<ellipse cx="1936.8" cy="269.6" rx="3.6" ry="1.3" transform="rotate(79 1936.8 269.6)" fill="#8e4a85" opacity="0.72"/>
<ellipse cx="1948.9" cy="263.8" rx="2.2" ry="1.2" transform="rotate(69 1948.9 263.8)" fill="#a65a98" opacity="0.87"/>
<path d="M1858.0,13.0 C1860.3,16.7 1868.0,25.5 1872.0,35.0 C1876.0,44.5 1879.2,57.5 1882.0,70.0 C1884.8,82.5 1887.7,96.7 1889.0,110.0 C1890.3,123.3 1890.8,137.0 1890.0,150.0 C1889.2,163.0 1886.8,176.3 1884.0,188.0 C1881.2,199.7 1876.7,210.8 1873.0,220.0 C1869.3,229.2 1866.5,236.2 1862.0,243.0 C1857.5,249.8 1852.3,256.2 1846.0,261.0 C1839.7,265.8 1827.7,270.2 1824.0,272.0" fill="none" stroke="#cf95c5" stroke-width="2" opacity="1" stroke-linejoin="round" stroke-linecap="round" />
<path d="M1904.0,13.0 C1907.7,7.2 1975.9,-4.1 1981.0,13.0 C1986.1,30.1 1981.7,252.5 1981.0,270.0 C1980.3,287.5 1971.7,273.0 1970.0,275.0 C1968.3,277.0 1956.7,294.8 1955.0,300.0 C1953.3,305.2 1947.8,349.5 1944.0,353.0 C1940.2,356.5 1900.5,353.9 1898.0,353.0 C1895.5,352.1 1904.3,343.5 1906.0,340.0 C1907.7,336.5 1920.7,306.0 1923.0,300.0 C1925.3,294.0 1938.4,256.7 1940.0,250.0 C1941.6,243.3 1947.9,210.0 1947.0,200.0 C1946.1,190.0 1928.9,112.5 1926.0,100.0 C1923.1,87.5 1900.3,18.8 1904.0,13.0 Z" fill="#d6c8de" stroke="none" stroke-width="1" opacity="1" stroke-linejoin="round" stroke-linecap="round" />
<ellipse cx="1925.3" cy="347.3" rx="3.9" ry="2.1" transform="rotate(63 1925.3 347.3)" fill="#f4eef6" opacity="0.96"/>
<ellipse cx="1950.0" cy="97.2" rx="3.3" ry="1.5" transform="rotate(77 1950.0 97.2)" fill="#f4eef6" opacity="0.86"/>
<ellipse cx="1971.8" cy="146.3" rx="1.8" ry="1.6" transform="rotate(67 1971.8 146.3)" fill="#f0eaf4" opacity="0.86"/>
<ellipse cx="1956.6" cy="123.3" rx="3.7" ry="1.2" transform="rotate(75 1956.6 123.3)" fill="#f4eef6" opacity="0.97"/>
<ellipse cx="1960.9" cy="87.0" rx="3.7" ry="2.0" transform="rotate(80 1960.9 87.0)" fill="#f4eef6" opacity="0.98"/>
<ellipse cx="1960.5" cy="100.1" rx="1.6" ry="1.8" transform="rotate(70 1960.5 100.1)" fill="#f4eef6" opacity="0.89"/>
<ellipse cx="1979.9" cy="41.7" rx="2.1" ry="1.2" transform="rotate(80 1979.9 41.7)" fill="#f0eaf4" opacity="0.75"/>
<ellipse cx="1980.7" cy="160.5" rx="3.3" ry="1.0" transform="rotate(67 1980.7 160.5)" fill="#f4eef6" opacity="0.80"/>
<ellipse cx="1944.8" cy="260.6" rx="1.7" ry="1.8" transform="rotate(80 1944.8 260.6)" fill="#f0eaf4" opacity="0.77"/>
<ellipse cx="1973.5" cy="74.6" rx="3.1" ry="1.6" transform="rotate(70 1973.5 74.6)" fill="#f4eef6" opacity="0.97"/>
<ellipse cx="1942.8" cy="247.9" rx="3.9" ry="1.1" transform="rotate(65 1942.8 247.9)" fill="#f0eaf4" opacity="0.85"/>
<ellipse cx="1955.0" cy="115.0" rx="2.4" ry="1.3" transform="rotate(74 1955.0 115.0)" fill="#f0eaf4" opacity="0.74"/>
<ellipse cx="1973.3" cy="55.9" rx="3.2" ry="1.4" transform="rotate(67 1973.3 55.9)" fill="#f4eef6" opacity="0.71"/>
<ellipse cx="1951.4" cy="148.9" rx="1.7" ry="1.6" transform="rotate(67 1951.4 148.9)" fill="#f4eef6" opacity="1.00"/>
<ellipse cx="1960.1" cy="98.3" rx="1.7" ry="1.8" transform="rotate(80 1960.1 98.3)" fill="#f0eaf4" opacity="0.90"/>
<ellipse cx="1942.1" cy="19.8" rx="2.8" ry="1.5" transform="rotate(79 1942.1 19.8)" fill="#f4eef6" opacity="0.82"/>
<ellipse cx="1939.2" cy="261.4" rx="3.6" ry="1.5" transform="rotate(64 1939.2 261.4)" fill="#f0eaf4" opacity="0.92"/>
<ellipse cx="1960.0" cy="248.6" rx="2.5" ry="2.0" transform="rotate(77 1960.0 248.6)" fill="#f0eaf4" opacity="0.83"/>
<ellipse cx="1940.6" cy="299.0" rx="1.5" ry="1.4" transform="rotate(75 1940.6 299.0)" fill="#f0eaf4" opacity="0.96"/>
<ellipse cx="1955.7" cy="77.6" rx="1.8" ry="2.0" transform="rotate(65 1955.7 77.6)" fill="#f0eaf4" opacity="0.81"/>
<ellipse cx="1922.7" cy="322.6" rx="2.0" ry="1.9" transform="rotate(83 1922.7 322.6)" fill="#f4eef6" opacity="0.79"/>
<ellipse cx="1930.5" cy="103.4" rx="3.4" ry="1.4" transform="rotate(67 1930.5 103.4)" fill="#f4eef6" opacity="0.83"/>
<ellipse cx="1958.3" cy="261.9" rx="2.3" ry="1.2" transform="rotate(84 1958.3 261.9)" fill="#f4eef6" opacity="0.84"/>
<ellipse cx="1955.4" cy="278.7" rx="3.0" ry="1.9" transform="rotate(84 1955.4 278.7)" fill="#f0eaf4" opacity="0.75"/>
<ellipse cx="1947.0" cy="153.9" rx="3.6" ry="1.9" transform="rotate(80 1947.0 153.9)" fill="#f0eaf4" opacity="0.89"/>
<ellipse cx="1944.4" cy="313.8" rx="2.1" ry="1.6" transform="rotate(72 1944.4 313.8)" fill="#f4eef6" opacity="0.90"/>
<ellipse cx="1965.3" cy="208.7" rx="1.7" ry="1.9" transform="rotate(86 1965.3 208.7)" fill="#f4eef6" opacity="0.84"/>
<ellipse cx="1957.7" cy="76.3" rx="1.9" ry="1.5" transform="rotate(79 1957.7 76.3)" fill="#f4eef6" opacity="0.74"/>
<ellipse cx="1938.5" cy="257.4" rx="2.8" ry="2.2" transform="rotate(64 1938.5 257.4)" fill="#f4eef6" opacity="0.90"/>
<ellipse cx="1917.7" cy="328.1" rx="2.1" ry="1.9" transform="rotate(73 1917.7 328.1)" fill="#f0eaf4" opacity="0.92"/>
<ellipse cx="1953.0" cy="50.6" rx="2.2" ry="2.0" transform="rotate(75 1953.0 50.6)" fill="#f4eef6" opacity="0.78"/>
<ellipse cx="1964.0" cy="222.7" rx="1.8" ry="1.3" transform="rotate(63 1964.0 222.7)" fill="#f0eaf4" opacity="0.87"/>
<ellipse cx="1974.4" cy="145.9" rx="3.0" ry="1.3" transform="rotate(71 1974.4 145.9)" fill="#f4eef6" opacity="0.81"/>
<ellipse cx="1978.4" cy="21.6" rx="3.4" ry="1.6" transform="rotate(80 1978.4 21.6)" fill="#f0eaf4" opacity="0.71"/>
<ellipse cx="1924.4" cy="17.7" rx="2.9" ry="1.5" transform="rotate(66 1924.4 17.7)" fill="#f4eef6" opacity="0.95"/>
<ellipse cx="1952.3" cy="181.9" rx="3.7" ry="1.8" transform="rotate(85 1952.3 181.9)" fill="#f0eaf4" opacity="0.90"/>
<ellipse cx="1958.3" cy="292.3" rx="3.7" ry="1.9" transform="rotate(79 1958.3 292.3)" fill="#f4eef6" opacity="0.78"/>
<ellipse cx="1937.6" cy="123.7" rx="2.7" ry="2.0" transform="rotate(79 1937.6 123.7)" fill="#f4eef6" opacity="0.76"/>
<ellipse cx="1979.2" cy="259.9" rx="1.9" ry="1.4" transform="rotate(82 1979.2 259.9)" fill="#f4eef6" opacity="0.87"/>
<ellipse cx="1973.5" cy="79.6" rx="3.4" ry="2.1" transform="rotate(85 1973.5 79.6)" fill="#f4eef6" opacity="0.86"/>
<ellipse cx="1949.1" cy="171.8" rx="3.4" ry="1.9" transform="rotate(76 1949.1 171.8)" fill="#f4eef6" opacity="0.72"/>
<ellipse cx="1950.8" cy="306.4" rx="2.1" ry="2.1" transform="rotate(82 1950.8 306.4)" fill="#f0eaf4" opacity="0.74"/>
<ellipse cx="1961.3" cy="29.0" rx="2.5" ry="1.3" transform="rotate(76 1961.3 29.0)" fill="#f0eaf4" opacity="0.75"/>
<ellipse cx="1976.8" cy="256.6" rx="2.4" ry="2.0" transform="rotate(74 1976.8 256.6)" fill="#f4eef6" opacity="0.95"/>
<ellipse cx="1958.9" cy="189.4" rx="2.3" ry="1.4" transform="rotate(69 1958.9 189.4)" fill="#f0eaf4" opacity="0.86"/>
<ellipse cx="1940.4" cy="29.9" rx="1.1" ry="1.3" transform="rotate(64 1940.4 29.9)" fill="#b58cb8" opacity="0.74"/>
<ellipse cx="1943.3" cy="87.5" rx="2.3" ry="1.0" transform="rotate(69 1943.3 87.5)" fill="#c9a3c9" opacity="0.72"/>
<ellipse cx="1976.5" cy="223.9" rx="2.0" ry="1.3" transform="rotate(85 1976.5 223.9)" fill="#b58cb8" opacity="0.79"/>
<ellipse cx="1942.2" cy="59.1" rx="2.4" ry="1.0" transform="rotate(75 1942.2 59.1)" fill="#c9a3c9" opacity="0.89"/>
<ellipse cx="1956.3" cy="272.6" rx="1.4" ry="1.4" transform="rotate(67 1956.3 272.6)" fill="#b58cb8" opacity="0.76"/>
<ellipse cx="1914.5" cy="41.8" rx="2.4" ry="1.4" transform="rotate(80 1914.5 41.8)" fill="#b58cb8" opacity="0.62"/>
<ellipse cx="1955.6" cy="32.8" rx="2.3" ry="1.4" transform="rotate(73 1955.6 32.8)" fill="#c9a3c9" opacity="0.66"/>
<ellipse cx="1957.5" cy="66.9" rx="1.7" ry="1.5" transform="rotate(75 1957.5 66.9)" fill="#b58cb8" opacity="0.81"/>
<ellipse cx="1935.9" cy="43.8" rx="2.0" ry="0.8" transform="rotate(71 1935.9 43.8)" fill="#b58cb8" opacity="0.67"/>
<ellipse cx="1944.8" cy="16.2" rx="1.3" ry="1.1" transform="rotate(80 1944.8 16.2)" fill="#b58cb8" opacity="0.78"/>
<ellipse cx="1947.5" cy="158.7" rx="1.4" ry="1.4" transform="rotate(66 1947.5 158.7)" fill="#b58cb8" opacity="0.74"/>
<ellipse cx="1945.0" cy="321.3" rx="1.9" ry="1.3" transform="rotate(69 1945.0 321.3)" fill="#c9a3c9" opacity="0.78"/>
<ellipse cx="1976.3" cy="258.7" rx="1.8" ry="1.4" transform="rotate(64 1976.3 258.7)" fill="#b58cb8" opacity="0.60"/>
<ellipse cx="1944.4" cy="336.8" rx="2.1" ry="1.4" transform="rotate(74 1944.4 336.8)" fill="#c9a3c9" opacity="0.87"/>
<ellipse cx="1968.4" cy="23.2" rx="1.7" ry="1.5" transform="rotate(69 1968.4 23.2)" fill="#c9a3c9" opacity="0.72"/>
<ellipse cx="1946.4" cy="272.0" rx="2.3" ry="1.2" transform="rotate(85 1946.4 272.0)" fill="#c9a3c9" opacity="0.90"/>
<ellipse cx="1956.2" cy="43.5" rx="1.1" ry="1.1" transform="rotate(70 1956.2 43.5)" fill="#b58cb8" opacity="0.75"/>
<ellipse cx="1951.2" cy="113.0" rx="2.1" ry="0.8" transform="rotate(79 1951.2 113.0)" fill="#b58cb8" opacity="0.85"/>
<ellipse cx="1957.3" cy="124.9" rx="1.2" ry="0.9" transform="rotate(86 1957.3 124.9)" fill="#c9a3c9" opacity="0.63"/>
<ellipse cx="1962.0" cy="93.0" rx="1.1" ry="1.3" transform="rotate(65 1962.0 93.0)" fill="#c9a3c9" opacity="0.76"/>
<ellipse cx="1962.6" cy="243.6" rx="2.3" ry="0.9" transform="rotate(65 1962.6 243.6)" fill="#b58cb8" opacity="0.62"/>
<ellipse cx="1927.8" cy="80.2" rx="1.8" ry="0.9" transform="rotate(82 1927.8 80.2)" fill="#c9a3c9" opacity="0.73"/>
<ellipse cx="1956.8" cy="97.5" rx="2.5" ry="1.3" transform="rotate(87 1956.8 97.5)" fill="#b58cb8" opacity="0.60"/>
<ellipse cx="1960.0" cy="255.2" rx="1.2" ry="1.1" transform="rotate(84 1960.0 255.2)" fill="#b58cb8" opacity="0.89"/>
<ellipse cx="1915.4" cy="15.1" rx="1.5" ry="0.8" transform="rotate(78 1915.4 15.1)" fill="#c9a3c9" opacity="0.67"/>
<path d="M1981.0,270.0 C1980.3,264.8 1971.7,273.0 1970.0,275.0 C1968.3,277.0 1956.7,294.8 1955.0,300.0 C1953.3,305.2 1942.3,349.5 1944.0,353.0 C1945.7,356.5 1978.5,358.5 1981.0,353.0 C1983.5,347.5 1981.7,275.2 1981.0,270.0 Z" fill="#e8c8e0" stroke="none" stroke-width="1" opacity="1" stroke-linejoin="round" stroke-linecap="round" />
<path d="M1962.0,272.0 C1963.7,271.8 1968.8,271.0 1972.0,271.0 C1975.2,271.0 1979.5,271.8 1981.0,272.0" fill="none" stroke="#a86898" stroke-width="1.5" opacity="1" stroke-linejoin="round" stroke-linecap="round" />
<path d="M1955.0,13.0 C1957.6,10.8 1978.4,8.8 1981.0,13.0 C1983.6,17.2 1982.6,51.1 1981.0,55.0 C1979.4,58.9 1967.6,54.0 1965.0,52.0 C1962.4,50.0 1956.0,38.9 1955.0,35.0 C1954.0,31.1 1952.4,15.2 1955.0,13.0 Z" fill="#a8487c" stroke="none" stroke-width="1" opacity="1" stroke-linejoin="round" stroke-linecap="round" />
<ellipse cx="1972.7" cy="16.8" rx="2.1" ry="2.3" transform="rotate(-10 1972.7 16.8)" fill="#e7a8cc" opacity="0.89"/>
<ellipse cx="1968.7" cy="17.5" rx="2.2" ry="2.1" transform="rotate(38 1968.7 17.5)" fill="#8f3366" opacity="0.98"/>
<ellipse cx="1966.0" cy="19.1" rx="2.3" ry="2.4" transform="rotate(-34 1966.0 19.1)" fill="#e7a8cc" opacity="0.73"/>
<ellipse cx="1962.5" cy="28.2" rx="2.2" ry="2.3" transform="rotate(6 1962.5 28.2)" fill="#8f3366" opacity="0.89"/>
<ellipse cx="1955.9" cy="35.1" rx="1.7" ry="1.9" transform="rotate(1 1955.9 35.1)" fill="#e7a8cc" opacity="0.70"/>
<ellipse cx="1964.4" cy="42.7" rx="1.7" ry="1.8" transform="rotate(-38 1964.4 42.7)" fill="#e7a8cc" opacity="0.95"/>
<ellipse cx="1974.1" cy="26.1" rx="1.7" ry="2.1" transform="rotate(-17 1974.1 26.1)" fill="#8f3366" opacity="0.89"/>
<ellipse cx="1973.6" cy="33.2" rx="1.7" ry="2.1" transform="rotate(-32 1973.6 33.2)" fill="#e7a8cc" opacity="0.83"/>
<ellipse cx="1971.9" cy="24.2" rx="1.7" ry="1.9" transform="rotate(-38 1971.9 24.2)" fill="#e7a8cc" opacity="0.80"/>
<ellipse cx="1981.0" cy="15.7" rx="1.7" ry="2.0" transform="rotate(-17 1981.0 15.7)" fill="#e7a8cc" opacity="0.95"/>
<ellipse cx="1955.7" cy="20.6" rx="2.4" ry="1.6" transform="rotate(-6 1955.7 20.6)" fill="#e7a8cc" opacity="0.91"/>
<ellipse cx="1968.5" cy="51.5" rx="1.5" ry="1.8" transform="rotate(-26 1968.5 51.5)" fill="#e7a8cc" opacity="0.77"/>
<path d="M1945.0,60.0 C1947.5,63.3 1955.0,75.0 1960.0,80.0 C1965.0,85.0 1971.5,87.5 1975.0,90.0 C1978.5,92.5 1980.0,94.2 1981.0,95.0" fill="none" stroke="#e0c9e4" stroke-width="2" opacity="1" stroke-linejoin="round" stroke-linecap="round" />
</g></g>
<rect x="1607.5" y="176.4" width="255.5" height="153.9" fill="none" stroke="#000" stroke-width="4.8"/>
<line x1="1925" y1="337" x2="1965" y2="337" stroke="#000" stroke-width="3"/>
<path d="M1607.5,330.3 L1491.6,436.4 M1863,330.3 L1965.2,439.5" stroke="#000" stroke-width="4.6" fill="none" stroke-linecap="round"/>
<g clip-path="url(#ce)"><g filter="url(#grain)">
<rect x="1485" y="435" width="485" height="240" fill="#fffdfe"/>
<path d="M1485.0,438.0 C1495.9,421.8 1582.1,437.0 1594.0,438.0 C1605.9,439.0 1602.6,445.6 1604.0,448.0 C1605.4,450.4 1608.0,459.0 1608.0,462.0 C1608.0,465.0 1605.2,475.4 1604.0,478.0 C1602.8,480.6 1597.9,486.7 1596.0,488.0 C1594.1,489.3 1587.8,490.2 1585.0,491.0 C1582.2,491.8 1571.2,494.6 1568.0,496.0 C1564.8,497.4 1555.3,502.6 1553.0,505.0 C1550.7,507.4 1546.0,516.5 1545.0,520.0 C1544.0,523.5 1542.5,536.2 1543.0,540.0 C1543.5,543.8 1547.7,554.5 1550.0,558.0 C1552.3,561.5 1562.0,571.6 1566.0,575.0 C1570.0,578.4 1583.6,588.7 1590.0,592.0 C1596.4,595.3 1622.2,605.2 1630.0,608.0 C1637.8,610.8 1665.0,618.0 1668.0,620.0 C1671.0,622.0 1664.8,627.6 1660.0,628.0 C1655.2,628.4 1630.0,625.6 1620.0,624.0 C1610.0,622.4 1573.5,614.4 1560.0,612.0 C1546.5,609.6 1492.5,617.4 1485.0,600.0 C1477.5,582.6 1474.1,454.2 1485.0,438.0 Z" fill="#eec3e1" stroke="none" stroke-width="1" opacity="1" stroke-linejoin="round" stroke-linecap="round" />
<ellipse cx="1554.7" cy="481.8" rx="1.9" ry="1.9" transform="rotate(55 1554.7 481.8)" fill="#e2acd3" opacity="0.86"/>
<ellipse cx="1535.7" cy="599.9" rx="3.4" ry="1.0" transform="rotate(68 1535.7 599.9)" fill="#d99ccb" opacity="0.76"/>
<ellipse cx="1565.4" cy="467.5" rx="1.9" ry="1.7" transform="rotate(65 1565.4 467.5)" fill="#d99ccb" opacity="0.60"/>
<ellipse cx="1591.8" cy="460.8" rx="3.0" ry="1.4" transform="rotate(53 1591.8 460.8)" fill="#c784b9" opacity="0.84"/>
<ellipse cx="1507.9" cy="565.3" rx="1.8" ry="1.9" transform="rotate(52 1507.9 565.3)" fill="#e2acd3" opacity="0.86"/>
<ellipse cx="1533.8" cy="480.8" rx="1.6" ry="1.6" transform="rotate(68 1533.8 480.8)" fill="#c784b9" opacity="0.86"/>
<ellipse cx="1540.2" cy="465.7" rx="3.2" ry="1.4" transform="rotate(69 1540.2 465.7)" fill="#e2acd3" opacity="0.76"/>
<ellipse cx="1527.2" cy="454.3" rx="1.7" ry="1.9" transform="rotate(66 1527.2 454.3)" fill="#c784b9" opacity="0.67"/>
<ellipse cx="1583.8" cy="605.3" rx="3.1" ry="1.3" transform="rotate(65 1583.8 605.3)" fill="#d99ccb" opacity="0.82"/>
<ellipse cx="1525.4" cy="507.0" rx="2.6" ry="1.7" transform="rotate(64 1525.4 507.0)" fill="#c784b9" opacity="0.53"/>
<ellipse cx="1584.2" cy="614.5" rx="2.1" ry="1.4" transform="rotate(70 1584.2 614.5)" fill="#e2acd3" opacity="0.63"/>
<ellipse cx="1554.5" cy="606.2" rx="3.4" ry="1.7" transform="rotate(53 1554.5 606.2)" fill="#d99ccb" opacity="0.72"/>
<ellipse cx="1526.3" cy="527.1" rx="2.1" ry="2.0" transform="rotate(52 1526.3 527.1)" fill="#e2acd3" opacity="0.73"/>
<ellipse cx="1545.2" cy="481.4" rx="3.2" ry="1.1" transform="rotate(65 1545.2 481.4)" fill="#c784b9" opacity="0.74"/>
<ellipse cx="1592.9" cy="616.9" rx="3.1" ry="1.5" transform="rotate(58 1592.9 616.9)" fill="#e2acd3" opacity="0.87"/>
<ellipse cx="1663.0" cy="620.7" rx="1.6" ry="1.7" transform="rotate(64 1663.0 620.7)" fill="#e2acd3" opacity="0.64"/>
<ellipse cx="1541.3" cy="466.8" rx="3.6" ry="1.6" transform="rotate(55 1541.3 466.8)" fill="#d99ccb" opacity="0.85"/>
<ellipse cx="1528.7" cy="533.0" rx="3.0" ry="1.2" transform="rotate(55 1528.7 533.0)" fill="#d99ccb" opacity="0.86"/>
<ellipse cx="1530.2" cy="527.6" rx="2.9" ry="1.4" transform="rotate(65 1530.2 527.6)" fill="#e2acd3" opacity="0.83"/>
<ellipse cx="1552.1" cy="470.7" rx="3.7" ry="1.2" transform="rotate(52 1552.1 470.7)" fill="#e2acd3" opacity="0.71"/>
<ellipse cx="1489.9" cy="594.5" rx="2.2" ry="1.0" transform="rotate(57 1489.9 594.5)" fill="#e2acd3" opacity="0.79"/>
<ellipse cx="1519.1" cy="538.1" rx="3.0" ry="1.7" transform="rotate(61 1519.1 538.1)" fill="#c784b9" opacity="0.53"/>
<ellipse cx="1492.3" cy="508.2" rx="2.2" ry="1.1" transform="rotate(68 1492.3 508.2)" fill="#e2acd3" opacity="0.82"/>
<ellipse cx="1504.4" cy="511.9" rx="1.7" ry="1.8" transform="rotate(66 1504.4 511.9)" fill="#c784b9" opacity="0.77"/>
<ellipse cx="1553.1" cy="589.0" rx="1.7" ry="1.4" transform="rotate(59 1553.1 589.0)" fill="#c784b9" opacity="0.56"/>
<ellipse cx="1496.9" cy="440.7" rx="2.3" ry="1.9" transform="rotate(53 1496.9 440.7)" fill="#c784b9" opacity="0.83"/>
<ellipse cx="1650.2" cy="623.0" rx="3.7" ry="1.7" transform="rotate(71 1650.2 623.0)" fill="#d99ccb" opacity="0.87"/>
<ellipse cx="1535.4" cy="599.5" rx="3.4" ry="1.3" transform="rotate(69 1535.4 599.5)" fill="#d99ccb" opacity="0.80"/>
<ellipse cx="1535.5" cy="448.1" rx="3.6" ry="1.3" transform="rotate(68 1535.5 448.1)" fill="#c784b9" opacity="0.60"/>
<ellipse cx="1534.5" cy="455.6" rx="3.6" ry="2.0" transform="rotate(69 1534.5 455.6)" fill="#c784b9" opacity="0.56"/>
<ellipse cx="1553.4" cy="587.7" rx="3.0" ry="1.7" transform="rotate(49 1553.4 587.7)" fill="#c784b9" opacity="0.76"/>
<ellipse cx="1522.1" cy="494.3" rx="2.4" ry="1.2" transform="rotate(60 1522.1 494.3)" fill="#c784b9" opacity="0.78"/>
<ellipse cx="1501.8" cy="582.0" rx="3.2" ry="1.8" transform="rotate(64 1501.8 582.0)" fill="#d99ccb" opacity="0.53"/>
<ellipse cx="1556.0" cy="608.1" rx="1.9" ry="1.8" transform="rotate(70 1556.0 608.1)" fill="#e2acd3" opacity="0.53"/>
<ellipse cx="1537.9" cy="473.0" rx="4.0" ry="1.3" transform="rotate(66 1537.9 473.0)" fill="#c784b9" opacity="0.69"/>
<ellipse cx="1529.8" cy="480.5" rx="1.6" ry="1.7" transform="rotate(54 1529.8 480.5)" fill="#d99ccb" opacity="0.82"/>
<ellipse cx="1549.3" cy="439.4" rx="2.7" ry="1.1" transform="rotate(51 1549.3 439.4)" fill="#e2acd3" opacity="0.78"/>
<ellipse cx="1549.5" cy="466.0" rx="2.0" ry="1.3" transform="rotate(51 1549.5 466.0)" fill="#d99ccb" opacity="0.88"/>
<ellipse cx="1531.1" cy="479.5" rx="1.7" ry="1.5" transform="rotate(59 1531.1 479.5)" fill="#c784b9" opacity="0.70"/>
<ellipse cx="1512.7" cy="520.4" rx="2.6" ry="1.2" transform="rotate(70 1512.7 520.4)" fill="#c784b9" opacity="0.83"/>
<path d="M1570.0,450.0 C1570.3,448.0 1578.3,445.7 1582.0,446.0 C1585.7,446.3 1592.3,450.0 1592.0,452.0 C1591.7,454.0 1583.7,458.3 1580.0,458.0 C1576.3,457.7 1569.7,452.0 1570.0,450.0 Z" fill="#fff6fc" stroke="none" stroke-width="1" opacity="1" stroke-linejoin="round" stroke-linecap="round" />
<path d="M1584.0,452.0 C1585.1,449.3 1593.1,446.0 1596.0,446.0 C1598.9,446.0 1604.3,449.3 1606.0,452.0 C1607.7,454.7 1609.3,462.0 1609.0,466.0 C1608.7,470.0 1606.0,478.9 1604.0,482.0 C1602.0,485.1 1596.4,489.3 1594.0,489.0 C1591.6,488.7 1586.8,483.1 1586.0,480.0 C1585.2,476.9 1588.3,469.7 1588.0,466.0 C1587.7,462.3 1582.9,454.7 1584.0,452.0 Z" fill="#b46ca5" stroke="none" stroke-width="1" opacity="1" stroke-linejoin="round" stroke-linecap="round" />
<ellipse cx="1600" cy="460" rx="6" ry="8" fill="#9d4d8c"/>
<ellipse cx="1559" cy="482" rx="4" ry="3" fill="#b27aab"/>
<ellipse cx="1573" cy="486" rx="3.5" ry="3" fill="#a86aa2"/>
<ellipse cx="1585" cy="482" rx="3" ry="3" fill="#b06da6"/>
<ellipse cx="1525" cy="458" rx="4" ry="6" fill="#d0a3cd"/>
<ellipse cx="1497" cy="470" rx="3" ry="5" fill="#c68fc0"/>
<ellipse cx="1505" cy="505" rx="4" ry="2.5" fill="#b97fb2"/>
<ellipse cx="1515" cy="540" rx="5" ry="2.5" fill="#c08ab8"/>
<ellipse cx="1495" cy="560" rx="5" ry="2" fill="#b77aaf"/>
<ellipse cx="1560" cy="495" rx="3" ry="2" fill="#c47eb6"/>
<path d="M1545.0,505.0 C1545.5,507.5 1546.2,514.5 1548.0,520.0 C1549.8,525.5 1552.3,531.3 1556.0,538.0 C1559.7,544.7 1563.5,552.7 1570.0,560.0 C1576.5,567.3 1585.0,575.3 1595.0,582.0 C1605.0,588.7 1619.2,595.0 1630.0,600.0 C1640.8,605.0 1655.0,610.0 1660.0,612.0" fill="none" stroke="#e6b2d8" stroke-width="2" opacity="1" stroke-linejoin="round" stroke-linecap="round" />
<path d="M1485.0,578.0 C1488.7,573.9 1532.3,588.2 1540.0,590.0 C1547.7,591.8 1592.7,603.1 1600.0,605.0 C1607.3,606.9 1645.7,616.7 1650.0,618.0 C1654.3,619.3 1665.7,624.1 1665.0,625.0 C1664.3,625.9 1645.0,631.3 1640.0,632.0 C1635.0,632.7 1596.7,635.3 1590.0,636.0 C1583.3,636.7 1547.0,640.9 1540.0,642.0 C1533.0,643.1 1488.7,656.3 1485.0,652.0 C1481.3,647.7 1481.3,582.1 1485.0,578.0 Z" fill="#d6b5d6" stroke="none" stroke-width="1" opacity="1" stroke-linejoin="round" stroke-linecap="round" />
<path d="M1485.0,600.0 C1494.2,601.0 1520.8,603.3 1540.0,606.0 C1559.2,608.7 1581.7,613.0 1600.0,616.0 C1618.3,619.0 1641.7,622.7 1650.0,624.0" fill="none" stroke="#e7aed7" stroke-width="3" opacity="1" stroke-linejoin="round" stroke-linecap="round" />
<path d="M1485.0,615.0 C1494.2,615.5 1520.8,616.5 1540.0,618.0 C1559.2,619.5 1583.3,622.3 1600.0,624.0 C1616.7,625.7 1633.3,627.3 1640.0,628.0" fill="none" stroke="#ecc3e2" stroke-width="2" opacity="1" stroke-linejoin="round" stroke-linecap="round" />
<ellipse cx="1534.5" cy="594.5" rx="3.8" ry="1.3" transform="rotate(-3 1534.5 594.5)" fill="#c26aa8" opacity="0.81"/>
<ellipse cx="1501.9" cy="595.2" rx="3.5" ry="1.2" transform="rotate(10 1501.9 595.2)" fill="#d08abe" opacity="0.68"/>
<ellipse cx="1630.0" cy="629.7" rx="2.9" ry="0.9" transform="rotate(5 1630.0 629.7)" fill="#d08abe" opacity="0.64"/>
<ellipse cx="1549.6" cy="603.5" rx="2.7" ry="0.8" transform="rotate(19 1549.6 603.5)" fill="#d08abe" opacity="0.79"/>
<ellipse cx="1553.1" cy="618.9" rx="4.1" ry="1.2" transform="rotate(13 1553.1 618.9)" fill="#d08abe" opacity="0.80"/>
<ellipse cx="1493.2" cy="594.9" rx="2.7" ry="0.9" transform="rotate(5 1493.2 594.9)" fill="#c26aa8" opacity="0.90"/>
<ellipse cx="1514.3" cy="604.3" rx="3.7" ry="1.3" transform="rotate(0 1514.3 604.3)" fill="#c26aa8" opacity="0.81"/>
<ellipse cx="1600.2" cy="619.2" rx="3.7" ry="1.4" transform="rotate(-3 1600.2 619.2)" fill="#c26aa8" opacity="0.68"/>
<ellipse cx="1541.8" cy="597.8" rx="2.5" ry="1.5" transform="rotate(8 1541.8 597.8)" fill="#d08abe" opacity="0.67"/>
<ellipse cx="1644.2" cy="625.6" rx="2.4" ry="0.9" transform="rotate(6 1644.2 625.6)" fill="#d08abe" opacity="0.86"/>
<ellipse cx="1590.0" cy="604.8" rx="4.5" ry="0.9" transform="rotate(-3 1590.0 604.8)" fill="#d08abe" opacity="0.63"/>
<ellipse cx="1504.7" cy="624.4" rx="4.0" ry="1.1" transform="rotate(10 1504.7 624.4)" fill="#c26aa8" opacity="0.73"/>
<ellipse cx="1537.8" cy="589.7" rx="2.0" ry="1.3" transform="rotate(14 1537.8 589.7)" fill="#d08abe" opacity="0.94"/>
<ellipse cx="1650.3" cy="622.3" rx="3.2" ry="0.9" transform="rotate(16 1650.3 622.3)" fill="#d08abe" opacity="0.91"/>
<ellipse cx="1500.4" cy="614.0" rx="2.2" ry="1.3" transform="rotate(7 1500.4 614.0)" fill="#c26aa8" opacity="0.64"/>
<ellipse cx="1523.1" cy="617.9" rx="3.8" ry="0.9" transform="rotate(12 1523.1 617.9)" fill="#d08abe" opacity="0.74"/>
<ellipse cx="1584.7" cy="621.5" rx="2.0" ry="1.3" transform="rotate(18 1584.7 621.5)" fill="#c26aa8" opacity="0.68"/>
<ellipse cx="1527.8" cy="627.5" rx="2.5" ry="0.9" transform="rotate(7 1527.8 627.5)" fill="#d08abe" opacity="0.69"/>
<ellipse cx="1494.8" cy="626.4" rx="3.6" ry="0.8" transform="rotate(-1 1494.8 626.4)" fill="#d08abe" opacity="0.88"/>
<ellipse cx="1519.5" cy="617.7" rx="2.4" ry="0.9" transform="rotate(18 1519.5 617.7)" fill="#d08abe" opacity="0.69"/>
<ellipse cx="1532.7" cy="636.0" rx="3.1" ry="1.1" transform="rotate(3 1532.7 636.0)" fill="#d08abe" opacity="0.65"/>
<ellipse cx="1582.6" cy="633.4" rx="2.1" ry="1.2" transform="rotate(8 1582.6 633.4)" fill="#c26aa8" opacity="0.62"/>
<ellipse cx="1497.2" cy="641.8" rx="3.0" ry="1.5" transform="rotate(-3 1497.2 641.8)" fill="#c26aa8" opacity="0.80"/>
<ellipse cx="1499.8" cy="626.6" rx="3.4" ry="1.0" transform="rotate(13 1499.8 626.6)" fill="#d08abe" opacity="0.67"/>
<ellipse cx="1528.0" cy="607.3" rx="3.7" ry="1.0" transform="rotate(18 1528.0 607.3)" fill="#d08abe" opacity="0.93"/>
<path d="M1485.0,640.0 C1488.7,638.5 1532.3,635.5 1540.0,635.0 C1547.7,634.5 1592.7,632.5 1600.0,632.0 C1607.3,631.5 1650.0,627.3 1650.0,628.0 C1650.0,628.7 1607.3,640.5 1600.0,642.0 C1592.7,643.5 1547.7,648.9 1540.0,650.0 C1532.3,651.1 1488.7,658.7 1485.0,658.0 C1481.3,657.3 1481.3,641.5 1485.0,640.0 Z" fill="#e7c6e2" stroke="none" stroke-width="1" opacity="1" stroke-linejoin="round" stroke-linecap="round" />
<ellipse cx="1493.3" cy="659.2" rx="2.3" ry="2.2" transform="rotate(-32 1493.3 659.2)" fill="#e0b0d6" opacity="0.84"/>
<ellipse cx="1613.7" cy="655.6" rx="3.0" ry="2.4" transform="rotate(4 1613.7 655.6)" fill="#e0b0d6" opacity="0.90"/>
<ellipse cx="1647.4" cy="648.2" rx="2.4" ry="2.8" transform="rotate(-32 1647.4 648.2)" fill="#cc7fb8" opacity="0.73"/>
<ellipse cx="1595.2" cy="650.8" rx="3.5" ry="2.4" transform="rotate(-25 1595.2 650.8)" fill="#e0b0d6" opacity="0.70"/>
<ellipse cx="1498.7" cy="654.3" rx="2.4" ry="1.6" transform="rotate(31 1498.7 654.3)" fill="#cc7fb8" opacity="0.70"/>
<ellipse cx="1669.0" cy="654.5" rx="3.9" ry="2.5" transform="rotate(-3 1669.0 654.5)" fill="#cc7fb8" opacity="0.90"/>
<ellipse cx="1624.1" cy="660.4" rx="2.7" ry="2.5" transform="rotate(28 1624.1 660.4)" fill="#b85f9f" opacity="0.66"/>
<ellipse cx="1652.9" cy="632.1" rx="3.2" ry="2.1" transform="rotate(-34 1652.9 632.1)" fill="#cc7fb8" opacity="0.84"/>
<ellipse cx="1698.6" cy="657.8" rx="2.6" ry="2.8" transform="rotate(17 1698.6 657.8)" fill="#e0b0d6" opacity="0.93"/>
<ellipse cx="1493.9" cy="670.6" rx="3.2" ry="1.6" transform="rotate(30 1493.9 670.6)" fill="#cc7fb8" opacity="0.83"/>
<ellipse cx="1642.2" cy="654.1" rx="2.6" ry="2.5" transform="rotate(-37 1642.2 654.1)" fill="#b85f9f" opacity="0.76"/>
<ellipse cx="1485.5" cy="667.9" rx="4.0" ry="1.7" transform="rotate(22 1485.5 667.9)" fill="#e0b0d6" opacity="0.61"/>
<ellipse cx="1661.7" cy="662.8" rx="2.2" ry="2.3" transform="rotate(16 1661.7 662.8)" fill="#b85f9f" opacity="0.93"/>
<ellipse cx="1666.4" cy="666.0" rx="2.8" ry="2.6" transform="rotate(28 1666.4 666.0)" fill="#cc7fb8" opacity="0.85"/>
<ellipse cx="1651" cy="652" rx="4" ry="5" fill="#c0609f"/>
<ellipse cx="1660" cy="647" rx="3" ry="3" fill="#b0508f"/>
<ellipse cx="1613" cy="637" rx="3" ry="4" fill="#cf86bb"/>
<ellipse cx="1560" cy="660" rx="2" ry="5" fill="#c476b0"/>
<ellipse cx="1530" cy="655" rx="4" ry="3" fill="#c87fb5"/>
<ellipse cx="1685" cy="650" rx="2.5" ry="3.5" fill="#cf7fb8"/>
<ellipse cx="1636" cy="660" rx="3" ry="2" fill="#d898c6"/>
<path d="M1625.0,660.0 C1629.2,658.0 1642.5,651.3 1650.0,648.0 C1657.5,644.7 1661.7,642.2 1670.0,640.0 C1678.3,637.8 1695.0,635.8 1700.0,635.0" fill="none" stroke="#e8c8e2" stroke-width="1" opacity="1" stroke-linejoin="round" stroke-linecap="round" />
<circle cx="1566" cy="521" r="3.5" fill="#a34f8e"/>
<circle cx="1623.5" cy="547" r="5" fill="#b06da4"/>
<path d="M1575.0,525.0 C1575.8,526.7 1577.5,531.7 1580.0,535.0 C1582.5,538.3 1586.7,542.2 1590.0,545.0 C1593.3,547.8 1598.3,550.8 1600.0,552.0" fill="none" stroke="#e0c4dc" stroke-width="1" opacity="1" stroke-linejoin="round" stroke-linecap="round" />
<path d="M1640.0,612.0 C1640.7,608.5 1658.3,593.2 1665.0,590.0 C1671.7,586.8 1682.7,587.7 1690.0,588.0 C1697.3,588.3 1715.1,590.7 1720.0,592.0 C1724.9,593.3 1729.0,596.3 1727.0,598.0 C1725.0,599.7 1711.3,603.4 1705.0,605.0 C1698.7,606.6 1686.0,608.5 1680.0,610.0 C1674.0,611.5 1665.3,615.7 1660.0,616.0 C1654.7,616.3 1639.3,615.5 1640.0,612.0 Z" fill="none" stroke="#d9a3cf" stroke-width="2.5" opacity="1" stroke-linejoin="round" stroke-linecap="round" />
<path d="M1640.0,592.0 C1643.3,591.3 1651.7,589.0 1660.0,588.0 C1668.3,587.0 1680.0,585.7 1690.0,586.0 C1700.0,586.3 1708.3,590.3 1720.0,590.0 C1731.7,589.7 1746.7,584.0 1760.0,584.0 C1773.3,584.0 1788.3,587.7 1800.0,590.0 C1811.7,592.3 1820.0,596.3 1830.0,598.0 C1840.0,599.7 1851.7,600.0 1860.0,600.0 C1868.3,600.0 1870.0,601.3 1880.0,598.0 C1890.0,594.7 1908.3,587.0 1920.0,580.0 C1931.7,573.0 1942.3,563.5 1950.0,556.0 C1957.7,548.5 1963.3,538.5 1966.0,535.0" fill="none" stroke="#dcaad2" stroke-width="2" opacity="1" stroke-linejoin="round" stroke-linecap="round" />
<path d="M1640.0,622.0 C1643.0,620.4 1681.3,614.2 1690.0,612.0 C1698.7,609.8 1720.0,600.7 1727.0,600.0 C1734.0,599.3 1752.7,603.6 1760.0,605.0 C1767.3,606.4 1793.0,612.7 1800.0,614.0 C1807.0,615.3 1824.0,618.0 1830.0,618.0 C1836.0,618.0 1854.5,614.8 1860.0,614.0 C1865.5,613.2 1884.0,609.4 1885.0,610.0 C1886.0,610.6 1874.5,618.3 1870.0,620.0 C1865.5,621.7 1847.0,626.4 1840.0,627.0 C1833.0,627.6 1808.0,626.7 1800.0,626.0 C1792.0,625.3 1768.0,621.1 1760.0,620.0 C1752.0,618.9 1727.0,615.0 1720.0,615.0 C1713.0,615.0 1696.0,618.7 1690.0,620.0 C1684.0,621.3 1665.0,627.8 1660.0,628.0 C1655.0,628.2 1637.0,623.6 1640.0,622.0 Z" fill="#eab0d8" stroke="#d794c6" stroke-width="1" opacity="1" stroke-linejoin="round" stroke-linecap="round" />
<path d="M1740.0,588.0 C1741.6,586.7 1752.0,583.7 1760.0,584.0 C1768.0,584.3 1792.0,588.1 1800.0,590.0 C1808.0,591.9 1820.0,596.7 1820.0,598.0 C1820.0,599.3 1806.7,600.3 1800.0,600.0 C1793.3,599.7 1776.9,596.8 1770.0,596.0 C1763.1,595.2 1752.0,595.1 1748.0,594.0 C1744.0,592.9 1738.4,589.3 1740.0,588.0 Z" fill="none" stroke="#d7a2cd" stroke-width="1.5" opacity="1" stroke-linejoin="round" stroke-linecap="round" />
<circle cx="1636" cy="592.5" r="4" fill="#a34f8e"/>
<circle cx="1648" cy="596" r="3" fill="#b25f9d"/>
<circle cx="1689" cy="592.5" r="4" fill="#a85495"/>
<circle cx="1763.5" cy="590.4" r="4" fill="#96437f"/>
<circle cx="1806" cy="608" r="3" fill="#a6579a"/>
<circle cx="1834" cy="604" r="3.5" fill="#9e4b8d"/>
<circle cx="1842" cy="605" r="3.5" fill="#a04d8f"/>
<circle cx="1862" cy="606.5" r="3.5" fill="#a4519a"/>
<circle cx="1895.5" cy="601" r="4" fill="#98468a"/>
<circle cx="1820" cy="604" r="2.5" fill="#b266a6"/>
<circle cx="1702" cy="598" r="2.5" fill="#b066a4"/>
<circle cx="1745" cy="601" r="2" fill="#c07ab4"/>
<path d="M1968.0,528.0 C1966.5,521.3 1953.6,547.8 1950.0,552.0 C1946.4,556.2 1930.8,573.0 1925.0,578.0 C1919.2,583.0 1883.2,607.2 1880.0,612.0 C1876.8,616.8 1884.8,631.0 1886.0,635.0 C1887.2,639.0 1893.0,656.7 1894.0,660.0 C1895.0,663.3 1893.3,673.8 1898.0,675.0 C1902.7,676.2 1944.2,678.6 1950.0,675.0 C1955.8,671.4 1966.5,644.2 1968.0,632.0 C1969.5,619.8 1969.5,534.7 1968.0,528.0 Z" fill="#eec4e3" stroke="none" stroke-width="1" opacity="1" stroke-linejoin="round" stroke-linecap="round" />
<path d="M1890.0,618.0 C1891.7,621.7 1897.5,630.5 1900.0,640.0 C1902.5,649.5 1904.2,669.2 1905.0,675.0" fill="none" stroke="#dba6d1" stroke-width="1.2" opacity="1" stroke-linejoin="round" stroke-linecap="round" />
<path d="M1893.0,618.0 C1895.2,621.7 1902.7,630.5 1906.0,640.0 C1909.3,649.5 1911.8,669.2 1913.0,675.0" fill="none" stroke="#dba6d1" stroke-width="1.2" opacity="1" stroke-linejoin="round" stroke-linecap="round" />
<path d="M1896.0,618.0 C1898.7,621.7 1907.8,630.5 1912.0,640.0 C1916.2,649.5 1919.5,669.2 1921.0,675.0" fill="none" stroke="#dba6d1" stroke-width="1.2" opacity="1" stroke-linejoin="round" stroke-linecap="round" />
<path d="M1899.0,618.0 C1902.2,621.7 1913.0,630.5 1918.0,640.0 C1923.0,649.5 1927.2,669.2 1929.0,675.0" fill="none" stroke="#dba6d1" stroke-width="1.2" opacity="1" stroke-linejoin="round" stroke-linecap="round" />
<path d="M1902.0,618.0 C1905.7,621.7 1918.2,630.5 1924.0,640.0 C1929.8,649.5 1934.8,669.2 1937.0,675.0" fill="none" stroke="#dba6d1" stroke-width="1.2" opacity="1" stroke-linejoin="round" stroke-linecap="round" />
<path d="M1905.0,618.0 C1909.2,621.7 1923.3,630.5 1930.0,640.0 C1936.7,649.5 1942.5,669.2 1945.0,675.0" fill="none" stroke="#dba6d1" stroke-width="1.2" opacity="1" stroke-linejoin="round" stroke-linecap="round" />
<path d="M1908.0,618.0 C1912.7,621.7 1928.5,630.5 1936.0,640.0 C1943.5,649.5 1950.2,669.2 1953.0,675.0" fill="none" stroke="#dba6d1" stroke-width="1.2" opacity="1" stroke-linejoin="round" stroke-linecap="round" />
<ellipse cx="1924.0" cy="636.1" rx="4.1" ry="1.2" transform="rotate(53 1924.0 636.1)" fill="#b6619f" opacity="0.70"/>
<ellipse cx="1950.0" cy="648.5" rx="2.4" ry="1.6" transform="rotate(64 1950.0 648.5)" fill="#c27aae" opacity="0.87"/>
<ellipse cx="1920.4" cy="618.8" rx="2.3" ry="1.2" transform="rotate(54 1920.4 618.8)" fill="#b6619f" opacity="0.81"/>
<ellipse cx="1917.4" cy="670.2" rx="4.0" ry="1.3" transform="rotate(59 1917.4 670.2)" fill="#c27aae" opacity="0.74"/>
<ellipse cx="1960.1" cy="606.0" rx="2.3" ry="1.2" transform="rotate(71 1960.1 606.0)" fill="#b6619f" opacity="0.62"/>
<ellipse cx="1943.3" cy="650.3" rx="3.7" ry="1.7" transform="rotate(59 1943.3 650.3)" fill="#c27aae" opacity="0.73"/>
<ellipse cx="1927.2" cy="658.2" rx="2.0" ry="1.5" transform="rotate(71 1927.2 658.2)" fill="#c27aae" opacity="0.82"/>
<ellipse cx="1947.4" cy="613.6" rx="1.5" ry="1.9" transform="rotate(57 1947.4 613.6)" fill="#c27aae" opacity="0.95"/>
<ellipse cx="1919.1" cy="661.2" rx="3.3" ry="1.1" transform="rotate(64 1919.1 661.2)" fill="#c27aae" opacity="0.87"/>
<ellipse cx="1960.4" cy="595.4" rx="1.7" ry="1.4" transform="rotate(63 1960.4 595.4)" fill="#b6619f" opacity="0.84"/>
<ellipse cx="1908.7" cy="661.5" rx="4.0" ry="1.3" transform="rotate(72 1908.7 661.5)" fill="#c27aae" opacity="0.94"/>
<ellipse cx="1948.3" cy="657.0" rx="2.5" ry="1.8" transform="rotate(55 1948.3 657.0)" fill="#b6619f" opacity="0.70"/>
<ellipse cx="1923.6" cy="636.5" rx="4.3" ry="1.1" transform="rotate(51 1923.6 636.5)" fill="#c27aae" opacity="0.65"/>
<ellipse cx="1904.4" cy="668.7" rx="2.7" ry="1.3" transform="rotate(70 1904.4 668.7)" fill="#c27aae" opacity="0.63"/>
<ellipse cx="1949.7" cy="613.7" rx="3.1" ry="1.8" transform="rotate(54 1949.7 613.7)" fill="#b6619f" opacity="0.61"/>
<ellipse cx="1929.6" cy="632.9" rx="4.1" ry="1.7" transform="rotate(54 1929.6 632.9)" fill="#c27aae" opacity="0.69"/>
<ellipse cx="1937.4" cy="634.8" rx="2.5" ry="1.3" transform="rotate(48 1937.4 634.8)" fill="#c27aae" opacity="0.65"/>
<ellipse cx="1960.0" cy="624.5" rx="3.4" ry="1.7" transform="rotate(71 1960.0 624.5)" fill="#c27aae" opacity="0.73"/>
<ellipse cx="1947.1" cy="566.7" rx="2.1" ry="2.3" transform="rotate(-31 1947.1 566.7)" fill="#a65a98" opacity="0.82"/>
<ellipse cx="1961.0" cy="597.2" rx="3.3" ry="2.6" transform="rotate(24 1961.0 597.2)" fill="#a65a98" opacity="0.73"/>
<ellipse cx="1959.2" cy="548.7" rx="3.3" ry="2.7" transform="rotate(-29 1959.2 548.7)" fill="#a65a98" opacity="0.85"/>
<ellipse cx="1948.3" cy="558.2" rx="3.1" ry="2.3" transform="rotate(20 1948.3 558.2)" fill="#a65a98" opacity="0.72"/>
<ellipse cx="1948.2" cy="560.1" rx="3.3" ry="2.7" transform="rotate(-35 1948.2 560.1)" fill="#a65a98" opacity="0.85"/>
<ellipse cx="1963.6" cy="594.3" rx="2.5" ry="2.6" transform="rotate(17 1963.6 594.3)" fill="#a65a98" opacity="0.76"/>
<ellipse cx="1939.9" cy="530.0" rx="1.6" ry="1.7" transform="rotate(-28 1939.9 530.0)" fill="#f0d6ea" opacity="0.82"/>
<ellipse cx="1876.8" cy="560.2" rx="0.8" ry="1.6" transform="rotate(27 1876.8 560.2)" fill="#f5e2f0" opacity="0.91"/>
<ellipse cx="1804.4" cy="569.0" rx="1.5" ry="1.8" transform="rotate(16 1804.4 569.0)" fill="#f0d6ea" opacity="0.70"/>
<ellipse cx="1844.9" cy="535.3" rx="2.0" ry="1.3" transform="rotate(-31 1844.9 535.3)" fill="#f5e2f0" opacity="0.77"/>
<ellipse cx="1820.7" cy="538.0" rx="1.9" ry="1.1" transform="rotate(30 1820.7 538.0)" fill="#f0d6ea" opacity="0.80"/>
<ellipse cx="1889.6" cy="534.5" rx="1.4" ry="1.2" transform="rotate(-24 1889.6 534.5)" fill="#ecc9e5" opacity="0.89"/>
<ellipse cx="1800.7" cy="518.6" rx="1.7" ry="1.5" transform="rotate(20 1800.7 518.6)" fill="#f5e2f0" opacity="0.66"/>
<ellipse cx="1926.1" cy="527.7" rx="1.1" ry="1.3" transform="rotate(7 1926.1 527.7)" fill="#f5e2f0" opacity="0.78"/>
<ellipse cx="1810.9" cy="540.7" rx="0.9" ry="0.9" transform="rotate(-40 1810.9 540.7)" fill="#ecc9e5" opacity="0.59"/>
<ellipse cx="1908.9" cy="513.9" rx="1.2" ry="1.4" transform="rotate(18 1908.9 513.9)" fill="#f0d6ea" opacity="0.76"/>
<ellipse cx="1815.6" cy="517.6" rx="2.1" ry="0.9" transform="rotate(-29 1815.6 517.6)" fill="#ecc9e5" opacity="0.83"/>
<ellipse cx="1848.6" cy="558.5" rx="1.9" ry="1.5" transform="rotate(39 1848.6 558.5)" fill="#ecc9e5" opacity="0.69"/>
<ellipse cx="1922.2" cy="549.4" rx="1.3" ry="1.2" transform="rotate(38 1922.2 549.4)" fill="#f0d6ea" opacity="0.53"/>
<ellipse cx="1848.0" cy="524.0" rx="1.7" ry="1.5" transform="rotate(-35 1848.0 524.0)" fill="#f5e2f0" opacity="0.96"/>
<ellipse cx="1824.5" cy="529.2" rx="1.2" ry="1.4" transform="rotate(9 1824.5 529.2)" fill="#f0d6ea" opacity="0.50"/>
<ellipse cx="1934.8" cy="529.3" rx="1.8" ry="1.4" transform="rotate(-1 1934.8 529.3)" fill="#f5e2f0" opacity="0.96"/>
<ellipse cx="1832.9" cy="532.8" rx="2.2" ry="1.7" transform="rotate(25 1832.9 532.8)" fill="#f0d6ea" opacity="0.57"/>
<ellipse cx="1887.7" cy="515.5" rx="1.3" ry="1.1" transform="rotate(13 1887.7 515.5)" fill="#f5e2f0" opacity="0.50"/>
<ellipse cx="1912.7" cy="553.8" rx="0.9" ry="1.0" transform="rotate(-11 1912.7 553.8)" fill="#f5e2f0" opacity="0.56"/>
<ellipse cx="1898.1" cy="530.7" rx="1.0" ry="0.9" transform="rotate(-0 1898.1 530.7)" fill="#f5e2f0" opacity="0.58"/>
<ellipse cx="1825.9" cy="547.0" rx="1.2" ry="0.9" transform="rotate(21 1825.9 547.0)" fill="#ecc9e5" opacity="0.62"/>
<ellipse cx="1839.7" cy="526.8" rx="1.8" ry="1.4" transform="rotate(-1 1839.7 526.8)" fill="#f5e2f0" opacity="0.99"/>
<ellipse cx="1865.5" cy="520.3" rx="1.1" ry="1.7" transform="rotate(-6 1865.5 520.3)" fill="#ecc9e5" opacity="0.89"/>
<ellipse cx="1955.6" cy="532.4" rx="2.0" ry="1.4" transform="rotate(-5 1955.6 532.4)" fill="#f0d6ea" opacity="0.97"/>
<ellipse cx="1802.6" cy="551.2" rx="1.9" ry="0.8" transform="rotate(-34 1802.6 551.2)" fill="#f5e2f0" opacity="0.92"/>
<ellipse cx="1891.3" cy="508.0" rx="1.5" ry="0.9" transform="rotate(-11 1891.3 508.0)" fill="#f5e2f0" opacity="0.60"/>
<ellipse cx="1830.8" cy="532.3" rx="2.2" ry="1.7" transform="rotate(-6 1830.8 532.3)" fill="#f0d6ea" opacity="0.67"/>
<ellipse cx="1841.4" cy="515.5" rx="2.2" ry="1.1" transform="rotate(15 1841.4 515.5)" fill="#f0d6ea" opacity="0.97"/>
<ellipse cx="1893.7" cy="511.6" rx="2.1" ry="0.9" transform="rotate(-4 1893.7 511.6)" fill="#ecc9e5" opacity="0.55"/>
<ellipse cx="1929.0" cy="511.8" rx="2.0" ry="1.8" transform="rotate(-21 1929.0 511.8)" fill="#ecc9e5" opacity="0.56"/>
<ellipse cx="1865.5" cy="514.1" rx="2.0" ry="1.2" transform="rotate(7 1865.5 514.1)" fill="#f5e2f0" opacity="0.64"/>
<ellipse cx="1846.2" cy="564.5" rx="0.9" ry="1.1" transform="rotate(35 1846.2 564.5)" fill="#ecc9e5" opacity="0.54"/>
<ellipse cx="1934.1" cy="513.7" rx="0.8" ry="1.7" transform="rotate(-11 1934.1 513.7)" fill="#ecc9e5" opacity="0.67"/>
<ellipse cx="1911.1" cy="554.4" rx="1.2" ry="0.9" transform="rotate(-9 1911.1 554.4)" fill="#f0d6ea" opacity="0.67"/>
<ellipse cx="1918.8" cy="514.1" rx="1.5" ry="1.7" transform="rotate(26 1918.8 514.1)" fill="#ecc9e5" opacity="0.94"/>
<ellipse cx="1872.2" cy="563.1" rx="1.2" ry="1.4" transform="rotate(-37 1872.2 563.1)" fill="#ecc9e5" opacity="0.63"/>
<ellipse cx="1952.5" cy="524.1" rx="2.1" ry="1.6" transform="rotate(-16 1952.5 524.1)" fill="#f0d6ea" opacity="0.59"/>
<ellipse cx="1888.5" cy="527.7" rx="1.1" ry="1.5" transform="rotate(-11 1888.5 527.7)" fill="#ecc9e5" opacity="0.84"/>
<ellipse cx="1805.3" cy="547.4" rx="1.4" ry="1.2" transform="rotate(-10 1805.3 547.4)" fill="#f0d6ea" opacity="0.79"/>
<ellipse cx="1877.9" cy="570.2" rx="1.0" ry="1.5" transform="rotate(-31 1877.9 570.2)" fill="#f5e2f0" opacity="0.84"/>
<ellipse cx="1923.0" cy="539.2" rx="1.1" ry="1.5" transform="rotate(36 1923.0 539.2)" fill="#ecc9e5" opacity="0.87"/>
<ellipse cx="1935.2" cy="526.6" rx="1.6" ry="1.6" transform="rotate(3 1935.2 526.6)" fill="#f5e2f0" opacity="0.71"/>
<ellipse cx="1942.5" cy="551.3" rx="1.0" ry="1.4" transform="rotate(9 1942.5 551.3)" fill="#f5e2f0" opacity="0.71"/>
<ellipse cx="1880.7" cy="521.0" rx="1.9" ry="1.4" transform="rotate(-12 1880.7 521.0)" fill="#f0d6ea" opacity="0.79"/>
<ellipse cx="1921.8" cy="508.0" rx="1.4" ry="1.3" transform="rotate(-29 1921.8 508.0)" fill="#f0d6ea" opacity="0.78"/>
<ellipse cx="1955.5" cy="560.0" rx="1.5" ry="1.3" transform="rotate(2 1955.5 560.0)" fill="#f0d6ea" opacity="0.61"/>
<ellipse cx="1915.2" cy="563.6" rx="2.0" ry="1.0" transform="rotate(28 1915.2 563.6)" fill="#f5e2f0" opacity="0.68"/>
<ellipse cx="1851.5" cy="515.0" rx="1.2" ry="1.2" transform="rotate(0 1851.5 515.0)" fill="#f0d6ea" opacity="0.78"/>
<ellipse cx="1904.5" cy="529.7" rx="1.0" ry="1.2" transform="rotate(13 1904.5 529.7)" fill="#f0d6ea" opacity="0.99"/>
<ellipse cx="1908.5" cy="516.9" rx="2.0" ry="1.3" transform="rotate(21 1908.5 516.9)" fill="#f0d6ea" opacity="0.88"/>
<ellipse cx="1869.8" cy="566.8" rx="1.9" ry="1.6" transform="rotate(-38 1869.8 566.8)" fill="#f5e2f0" opacity="0.73"/>
<ellipse cx="1929.2" cy="557.3" rx="1.0" ry="1.8" transform="rotate(-2 1929.2 557.3)" fill="#f0d6ea" opacity="0.88"/>
<ellipse cx="1955.4" cy="535.2" rx="1.2" ry="1.4" transform="rotate(31 1955.4 535.2)" fill="#ecc9e5" opacity="0.59"/>
<ellipse cx="1936.2" cy="508.1" rx="2.1" ry="1.6" transform="rotate(26 1936.2 508.1)" fill="#ecc9e5" opacity="0.90"/>
<ellipse cx="1945.0" cy="539.0" rx="2.1" ry="1.8" transform="rotate(30 1945.0 539.0)" fill="#ecc9e5" opacity="0.65"/>
<ellipse cx="1877.5" cy="530.8" rx="2.0" ry="0.9" transform="rotate(-1 1877.5 530.8)" fill="#ecc9e5" opacity="0.57"/>
<ellipse cx="1878.9" cy="515.9" rx="1.4" ry="1.7" transform="rotate(1 1878.9 515.9)" fill="#f5e2f0" opacity="0.71"/>
<ellipse cx="1899.6" cy="568.2" rx="1.0" ry="1.3" transform="rotate(25 1899.6 568.2)" fill="#f0d6ea" opacity="0.98"/>
<ellipse cx="1940.3" cy="520.4" rx="1.0" ry="1.4" transform="rotate(29 1940.3 520.4)" fill="#f0d6ea" opacity="0.52"/>
<ellipse cx="1897.6" cy="538.4" rx="2.2" ry="1.4" transform="rotate(1 1897.6 538.4)" fill="#f5e2f0" opacity="0.75"/>
<ellipse cx="1682.2" cy="465.8" rx="1.0" ry="0.8" transform="rotate(-37 1682.2 465.8)" fill="#f0d8e6" opacity="0.70"/>
<ellipse cx="1690.2" cy="441.4" rx="0.7" ry="0.8" transform="rotate(-39 1690.2 441.4)" fill="#f0d8e6" opacity="0.86"/>
<ellipse cx="1737.9" cy="458.9" rx="1.0" ry="0.8" transform="rotate(-21 1737.9 458.9)" fill="#f0d8e6" opacity="0.72"/>
<ellipse cx="1707.3" cy="483.0" rx="0.9" ry="0.8" transform="rotate(27 1707.3 483.0)" fill="#f3dcea" opacity="0.62"/>
<ellipse cx="1749.8" cy="442.1" rx="0.9" ry="0.9" transform="rotate(25 1749.8 442.1)" fill="#f0d8e6" opacity="0.75"/>
<ellipse cx="1667.2" cy="482.0" rx="0.9" ry="0.9" transform="rotate(8 1667.2 482.0)" fill="#f3dcea" opacity="0.89"/>
<ellipse cx="1721.0" cy="457.2" rx="1.3" ry="0.8" transform="rotate(5 1721.0 457.2)" fill="#f0d8e6" opacity="0.68"/>
<ellipse cx="1698.1" cy="473.8" rx="1.0" ry="1.3" transform="rotate(10 1698.1 473.8)" fill="#f3dcea" opacity="0.80"/>
<ellipse cx="1664.9" cy="469.1" rx="1.5" ry="1.3" transform="rotate(38 1664.9 469.1)" fill="#f3dcea" opacity="0.72"/>
<ellipse cx="1705.6" cy="488.3" rx="0.7" ry="0.8" transform="rotate(-5 1705.6 488.3)" fill="#f0d8e6" opacity="0.89"/>
<ellipse cx="1750.2" cy="442.0" rx="0.8" ry="1.1" transform="rotate(11 1750.2 442.0)" fill="#f0d8e6" opacity="0.96"/>
<ellipse cx="1754.2" cy="489.8" rx="1.1" ry="0.7" transform="rotate(37 1754.2 489.8)" fill="#f0d8e6" opacity="1.00"/>
<ellipse cx="1723.0" cy="450.6" rx="1.4" ry="0.7" transform="rotate(6 1723.0 450.6)" fill="#f3dcea" opacity="0.87"/>
<ellipse cx="1703.3" cy="446.5" rx="1.0" ry="1.1" transform="rotate(-38 1703.3 446.5)" fill="#f0d8e6" opacity="0.53"/>
<ellipse cx="1645.0" cy="450.9" rx="1.1" ry="0.9" transform="rotate(5 1645.0 450.9)" fill="#f0d8e6" opacity="0.76"/>
</g></g>
<line x1="1849.7" y1="644.3" x2="1945.9" y2="644.3" stroke="#000" stroke-width="3"/>
<text x="-2" y="39" class="lab">(a)</text>
<text x="869.5" y="35.5" class="lab">(b)</text>
<text x="869.5" y="471.5" class="lab">(c)</text>
<text x="1458" y="29.5" class="lab">(d)</text>
<text x="1437" y="471.5" class="lab">(e)</text>
</svg>
</body></html>
